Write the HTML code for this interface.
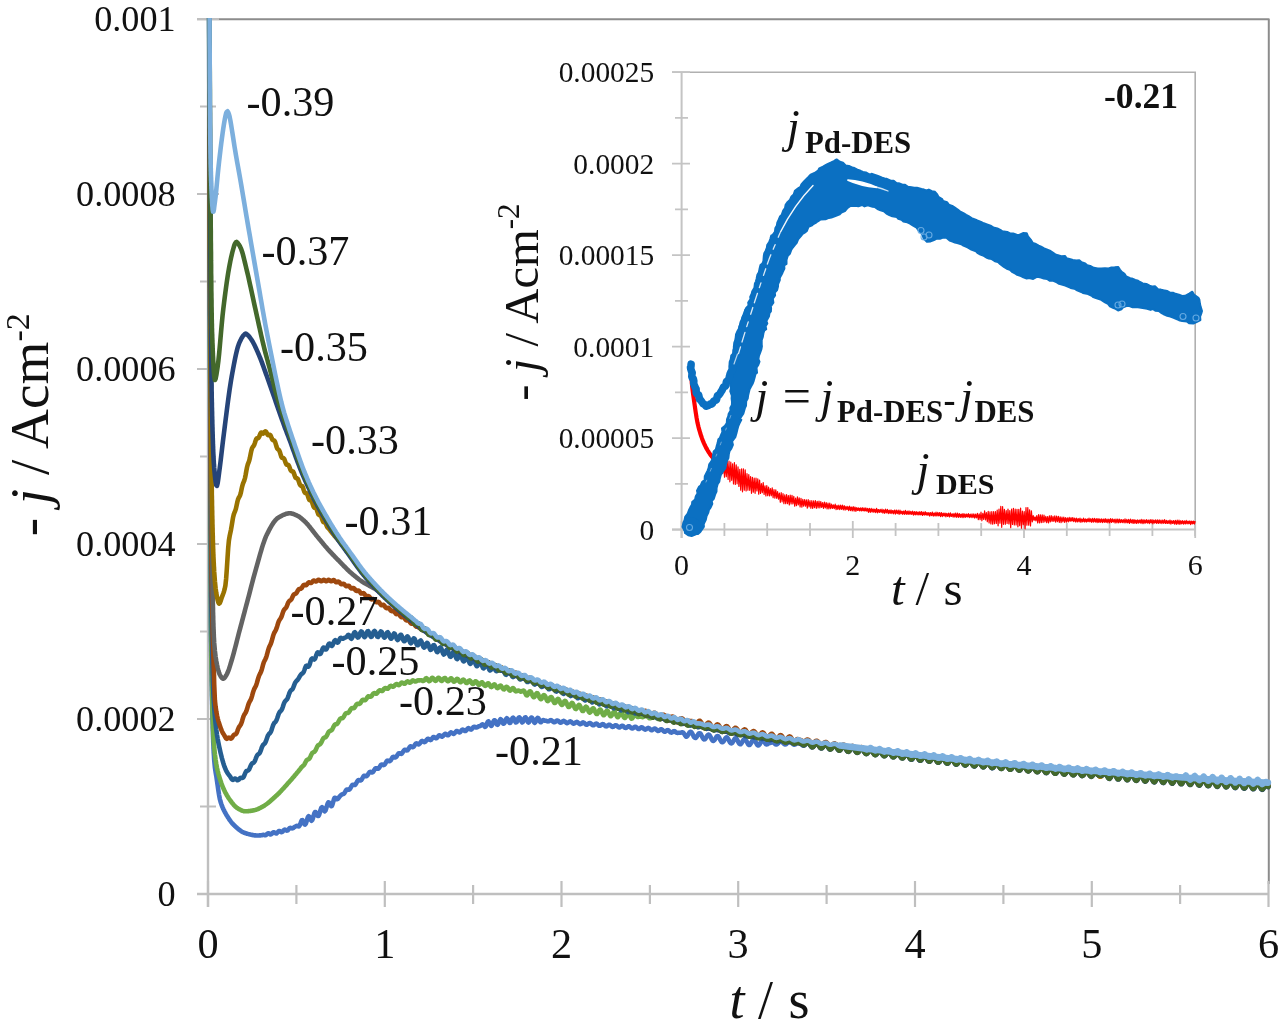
<!DOCTYPE html>
<html lang="en"><head><meta charset="utf-8"><title>Chronoamperometry j-t transients</title>
<style>html,body{margin:0;padding:0;background:#fff}body{width:1280px;height:1035px;overflow:hidden}svg{display:block;filter:blur(0.55px)}</style>
</head><body>
<svg width="1280" height="1035" viewBox="0 0 1280 1035" style="display:block">
<rect width="1280" height="1035" fill="#fff"/>
<defs><clipPath id="cm"><rect x="200" y="18" width="1074" height="880"/></clipPath><clipPath id="ci"><rect x="676" y="71" width="528" height="470"/></clipPath></defs>
<path d="M197,19.3 H1268.8 V884" fill="none" stroke="#8c8c8c" stroke-width="2" stroke-linejoin="round"/>
<path d="M208.0,19.0 V907 M197,894.0 H1268.5" fill="none" stroke="#bfbfbf" stroke-width="2.4"/>
<path d="M197,894.0H219M200,806.5H216M197,719.0H219M200,631.5H216M197,544.0H219M200,456.5H216M197,369.0H219M200,281.5H216M197,194.0H219M200,106.5H216M197,19.0H219M208.0,881V907M296.4,885V904M384.8,881V907M473.1,885V904M561.5,881V907M649.9,885V904M738.2,881V907M826.6,885V904M915.0,881V907M1003.4,885V904M1091.8,881V907M1180.1,885V904M1268.5,881V907" fill="none" stroke="#bfbfbf" stroke-width="2.2"/>
<g clip-path="url(#cm)" fill="none" stroke-width="4.6" stroke-linejoin="round" stroke-linecap="round">
<path d="M209.0,-30.0 L209.0,-10.6 L209.1,8.7 L209.1,27.8 L209.2,46.8 L209.2,65.5 L209.3,84.0 L209.3,102.3 L209.3,120.4 L209.4,138.2 L209.4,155.8 L209.5,173.1 L209.5,190.0 L209.5,206.7 L209.6,223.1 L209.6,239.1 L209.7,254.7 L209.7,270.0 L209.8,284.9 L209.8,299.4 L209.8,313.8 L209.9,328.5 L209.9,343.4 L210.0,358.4 L210.0,373.5 L210.1,388.6 L210.1,403.8 L210.1,418.9 L210.2,433.9 L210.2,448.8 L210.3,463.5 L210.3,477.9 L210.3,492.1 L210.4,505.9 L210.4,519.4 L210.5,532.4 L210.5,545.0 L210.6,557.0 L210.6,568.5 L210.6,579.3 L210.7,589.5 L210.7,598.9 L210.8,607.6 L210.8,615.5 L210.8,622.5 L210.9,628.7 L210.9,633.8 L211.0,638.0 L211.0,641.2 L211.1,644.2 L211.1,647.1 L211.1,650.0 L211.2,652.8 L211.2,655.5 L211.3,658.3 L211.3,661.0 L211.4,663.6 L211.4,666.2 L211.4,668.7 L211.5,671.2 L211.5,673.7 L211.6,676.1 L211.6,678.5 L211.6,680.8 L211.7,683.1 L211.7,685.3 L211.8,687.5 L211.8,689.7 L211.9,691.8 L211.9,693.9 L211.9,695.9 L212.0,697.9 L212.0,699.9 L212.1,701.8 L212.1,703.7 L212.2,705.5 L212.2,707.3 L212.2,709.1 L212.3,710.8 L212.3,712.5 L212.4,714.2 L212.4,715.8 L212.4,717.4 L212.5,719.0 L212.5,720.5 L212.6,722.0 L212.6,723.5 L212.7,724.9 L212.7,726.3 L212.7,727.7 L212.8,729.0 L212.8,730.3 L212.9,731.6 L212.9,732.9 L212.9,734.1 L213.0,735.3 L213.0,736.4 L213.1,737.6 L213.1,738.7 L213.2,739.8 L213.2,740.8 L213.2,741.9 L213.3,742.9 L213.3,743.8 L213.4,744.8 L213.4,745.7 L213.5,746.6 L213.5,747.5 L213.5,748.4 L213.6,749.2 L213.6,750.1 L213.7,750.9 L213.7,751.6 L213.7,752.4 L213.8,753.1 L213.8,753.8 L213.9,754.5 L213.9,755.2 L214.0,755.9 L214.0,756.5 L214.2,760.0 L214.9,767.3 L215.6,772.0 L216.3,776.0 L217.0,780.8 L217.7,785.7 L218.4,790.6 L219.1,795.1 L219.8,798.8 L220.5,801.5 L221.2,803.7 L221.9,805.6 L222.6,807.4 L223.3,809.0 L224.0,810.4 L224.7,811.8 L225.4,813.0 L226.1,814.3 L226.8,815.5 L227.5,816.6 L228.2,817.8 L228.9,818.8 L229.6,819.9 L230.3,820.8 L231.0,821.8 L231.7,822.7 L232.4,823.5 L233.1,824.2 L233.8,825.0 L234.5,825.6 L235.2,826.3 L235.9,826.9 L236.6,827.6 L237.3,828.2 L238.0,828.8 L238.7,829.4 L239.4,829.9 L240.1,830.4 L240.8,830.9 L241.5,831.4 L242.2,831.8 L242.9,832.1 L243.6,832.5 L244.3,832.8 L245.0,833.0 L245.7,833.2 L246.4,833.5 L247.1,833.7 L247.8,833.9 L248.5,834.1 L249.2,834.3 L249.9,834.4 L250.6,834.6 L251.3,834.8 L252.0,834.9 L252.7,835.0 L253.4,835.2 L254.1,835.3 L254.8,835.4 L255.5,835.4 L256.2,835.5 L256.9,835.5 L257.6,835.5 L258.3,835.5 L259.0,835.5 L259.7,835.4 L260.4,835.4 L261.1,835.3 L261.8,835.2 L262.5,835.0 L263.2,834.9 L263.9,834.9 L264.6,835.1 L265.3,835.2 L266.0,835.0 L266.7,834.4 L267.4,833.7 L268.1,833.3 L268.8,833.4 L269.5,833.9 L270.2,834.4 L270.9,834.5 L271.6,834.0 L272.3,833.2 L273.0,832.5 L273.7,832.2 L274.4,832.4 L275.1,832.9 L275.8,833.4 L276.5,833.4 L277.2,832.8 L277.9,832.0 L278.6,831.2 L279.3,831.0 L280.0,831.2 L280.7,831.8 L281.4,832.1 L282.1,832.0 L282.8,831.4 L283.5,830.5 L284.2,829.8 L284.9,829.5 L285.6,829.8 L286.3,830.3 L287.0,830.6 L287.7,830.4 L288.4,829.6 L289.1,828.7 L289.8,828.0 L290.5,827.9 L291.2,828.2 L291.9,828.4 L292.6,828.3 L293.3,827.9 L294.0,827.3 L294.7,826.8 L295.4,826.5 L296.1,826.2 L296.8,825.9 L297.5,826.0 L298.2,826.3 L298.9,826.4 L299.6,825.6 L300.3,824.0 L301.0,822.0 L301.7,820.3 L302.4,820.1 L303.1,821.2 L303.8,822.9 L304.5,824.3 L305.2,824.6 L305.9,823.5 L306.6,821.3 L307.3,818.8 L308.0,816.9 L308.7,816.2 L309.4,816.8 L310.1,818.3 L310.8,819.9 L311.5,820.7 L312.2,820.1 L312.9,818.3 L313.6,815.8 L314.3,813.4 L315.0,812.1 L315.7,812.1 L316.4,813.3 L317.1,814.9 L317.8,816.0 L318.5,816.0 L319.2,814.6 L319.9,812.3 L320.6,809.7 L321.3,807.8 L322.0,807.2 L322.7,807.9 L323.4,809.4 L324.1,810.8 L324.8,811.3 L325.5,810.5 L326.2,808.5 L326.9,805.9 L327.6,803.6 L328.3,802.4 L329.0,802.5 L329.7,803.7 L330.4,805.3 L331.1,806.2 L331.8,806.0 L332.5,804.3 L333.2,801.8 L333.9,799.3 L334.6,797.8 L335.3,797.7 L336.0,798.4 L336.7,799.1 L337.4,799.2 L338.1,798.7 L338.8,797.6 L339.5,796.6 L340.2,795.9 L340.9,795.2 L341.6,794.6 L342.3,794.3 L343.0,794.1 L343.7,793.8 L344.4,793.1 L345.1,791.9 L345.8,790.6 L346.5,789.7 L347.2,789.5 L347.9,789.6 L348.6,789.8 L349.3,789.6 L350.0,788.9 L350.7,787.6 L351.4,786.2 L352.1,785.2 L352.8,784.7 L353.5,784.8 L354.2,785.0 L354.9,785.0 L355.6,784.4 L356.3,783.2 L357.0,781.8 L357.7,780.7 L358.4,780.1 L359.1,780.1 L359.8,780.3 L360.5,780.5 L361.2,780.1 L361.9,779.1 L362.6,777.8 L363.3,776.6 L364.0,775.8 L364.7,775.7 L365.4,776.0 L366.1,776.3 L366.8,776.1 L367.5,775.3 L368.2,774.1 L368.9,772.9 L369.6,772.1 L370.3,771.8 L371.0,772.1 L371.7,772.4 L372.4,772.4 L373.1,771.9 L373.8,770.8 L374.5,769.5 L375.2,768.5 L375.9,768.2 L376.6,768.3 L377.3,768.7 L378.0,768.8 L378.7,768.4 L379.4,767.5 L380.1,766.2 L380.8,765.1 L381.5,764.5 L382.2,764.5 L382.9,764.9 L383.6,765.1 L384.3,764.9 L385.0,764.0 L385.7,762.8 L386.4,761.6 L387.1,760.8 L387.8,760.6 L388.5,760.9 L389.2,761.2 L389.9,761.1 L390.6,760.5 L391.3,759.3 L392.0,758.1 L392.7,757.1 L393.4,756.8 L394.1,757.0 L394.8,757.4 L395.5,757.5 L396.2,757.0 L396.9,755.9 L397.6,754.7 L398.3,753.7 L399.0,753.2 L399.7,753.3 L400.4,753.7 L401.1,753.9 L401.8,753.6 L402.5,752.7 L403.2,751.5 L403.9,750.4 L404.6,749.8 L405.3,749.7 L406.0,750.1 L406.7,750.4 L407.4,750.3 L408.1,749.6 L408.8,748.5 L409.5,747.3 L410.2,746.5 L410.9,746.3 L411.6,746.6 L412.3,747.1 L413.0,747.1 L413.7,746.6 L414.4,745.6 L415.1,744.5 L415.8,743.6 L416.5,743.3 L417.2,743.6 L417.9,744.1 L418.6,744.4 L419.3,744.1 L420.0,743.3 L420.7,742.2 L421.4,741.3 L422.1,740.9 L422.8,741.1 L423.5,741.6 L424.2,742.1 L424.9,742.0 L425.6,741.4 L426.3,740.4 L427.0,739.4 L427.7,738.8 L428.4,738.9 L429.1,739.4 L429.8,739.9 L430.5,740.1 L431.2,739.7 L431.9,738.7 L432.6,737.7 L433.3,737.1 L434.0,737.0 L434.7,737.4 L435.4,738.0 L436.1,738.3 L436.8,738.1 L437.5,737.3 L438.2,736.3 L438.9,735.5 L439.6,735.3 L440.3,735.6 L441.0,736.2 L441.7,736.7 L442.4,736.6 L443.1,736.0 L443.8,735.0 L444.5,734.2 L445.2,733.8 L445.9,734.0 L446.6,734.6 L447.3,735.2 L448.0,735.3 L448.7,734.8 L449.4,733.9 L450.1,733.0 L450.8,732.4 L451.5,732.5 L452.2,733.0 L452.9,733.6 L453.6,733.9 L454.3,733.6 L455.0,732.8 L455.7,731.8 L456.4,731.1 L457.1,731.0 L457.8,731.4 L458.5,732.0 L459.2,732.5 L459.9,732.3 L460.6,731.6 L461.3,730.7 L462.0,729.8 L462.7,729.5 L463.4,729.8 L464.1,730.4 L464.8,731.0 L465.5,731.0 L466.2,730.4 L466.9,729.5 L467.6,728.6 L468.3,728.1 L469.0,728.2 L469.7,728.8 L470.4,729.4 L471.1,729.6 L471.8,729.2 L472.5,728.3 L473.2,727.3 L473.9,726.7 L474.6,726.7 L475.3,727.1 L476.0,727.5 L476.7,727.5 L477.4,727.2 L478.1,726.7 L478.8,726.3 L479.5,726.1 L480.2,726.0 L480.9,725.6 L481.6,724.9 L482.3,724.4 L483.0,724.5 L483.7,725.3 L484.4,726.3 L485.1,726.9 L485.8,726.4 L486.5,724.7 L487.2,722.8 L487.9,721.5 L488.6,721.4 L489.3,722.5 L490.0,724.2 L490.7,725.5 L491.4,725.9 L492.1,724.9 L492.8,723.2 L493.5,721.3 L494.2,720.3 L494.9,720.4 L495.6,721.7 L496.3,723.4 L497.0,724.6 L497.7,724.8 L498.4,723.7 L499.1,721.9 L499.8,720.1 L500.5,719.2 L501.2,719.5 L501.9,720.9 L502.6,722.6 L503.3,723.7 L504.0,723.7 L504.7,722.5 L505.4,720.6 L506.1,719.0 L506.8,718.2 L507.5,718.8 L508.2,720.3 L508.9,722.0 L509.6,723.0 L510.3,722.8 L511.0,721.5 L511.7,719.6 L512.4,718.1 L513.1,717.6 L513.8,718.3 L514.5,719.9 L515.2,721.6 L515.9,722.5 L516.6,722.2 L517.3,720.8 L518.0,718.9 L518.7,717.6 L519.4,717.3 L520.1,718.2 L520.8,719.9 L521.5,721.6 L522.2,722.4 L522.9,721.9 L523.6,720.5 L524.3,718.7 L525.0,717.5 L525.7,717.4 L526.4,718.5 L527.1,720.3 L527.8,721.9 L528.5,722.5 L529.2,721.9 L529.9,720.4 L530.6,718.6 L531.3,717.5 L532.0,717.7 L532.7,718.9 L533.4,720.8 L534.1,722.3 L534.8,722.8 L535.5,722.0 L536.2,720.4 L536.9,718.7 L537.6,717.8 L538.3,718.1 L539.0,719.5 L539.7,721.2 L540.4,722.2 L541.1,722.1 L541.8,721.4 L542.5,720.5 L543.2,720.1 L543.9,720.2 L544.6,720.6 L545.3,720.7 L546.0,720.8 L546.7,721.0 L547.4,721.3 L548.1,721.4 L548.8,721.2 L549.5,720.8 L550.2,720.3 L550.9,720.1 L551.6,720.4 L552.3,721.0 L553.0,721.7 L553.7,722.2 L554.4,722.3 L555.1,721.9 L555.8,721.3 L556.5,720.7 L557.2,720.5 L557.9,720.7 L558.6,721.2 L559.3,721.9 L560.0,722.5 L560.7,722.7 L561.4,722.4 L562.1,721.9 L562.8,721.3 L563.5,720.9 L564.2,721.0 L564.9,721.5 L565.6,722.2 L566.3,722.8 L567.0,723.1 L567.7,723.0 L568.4,722.5 L569.1,721.9 L569.8,721.5 L570.5,721.4 L571.2,721.8 L571.9,722.5 L572.6,723.1 L573.3,723.6 L574.0,723.6 L574.7,723.2 L575.4,722.6 L576.1,722.1 L576.8,721.9 L577.5,722.2 L578.2,722.8 L578.9,723.5 L579.6,724.0 L580.3,724.2 L581.0,723.9 L581.7,723.3 L582.4,722.7 L583.1,722.4 L583.8,722.6 L584.5,723.1 L585.2,723.8 L585.9,724.5 L586.6,724.7 L587.3,724.6 L588.0,724.0 L588.7,723.4 L589.4,723.1 L590.1,723.1 L590.8,723.5 L591.5,724.2 L592.2,724.9 L592.9,725.3 L593.6,725.2 L594.3,724.8 L595.0,724.2 L595.7,723.7 L596.4,723.6 L597.1,723.9 L597.8,724.6 L598.5,725.3 L599.2,725.8 L599.9,725.8 L600.6,725.5 L601.3,724.9 L602.0,724.4 L602.7,724.1 L603.4,724.3 L604.1,724.9 L604.8,725.6 L605.5,726.2 L606.2,726.4 L606.9,726.2 L607.6,725.6 L608.3,725.0 L609.0,724.7 L609.7,724.8 L610.4,725.2 L611.1,726.0 L611.8,726.6 L612.5,726.9 L613.2,726.8 L613.9,726.3 L614.6,725.7 L615.3,725.3 L616.0,725.2 L616.7,725.6 L617.4,726.3 L618.1,726.9 L618.8,727.4 L619.5,727.4 L620.2,727.0 L620.9,726.4 L621.6,725.9 L622.3,725.7 L623.0,725.9 L623.7,726.6 L624.4,727.3 L625.1,727.8 L625.8,727.9 L626.5,727.6 L627.2,727.1 L627.9,726.5 L628.6,726.2 L629.3,726.3 L630.0,726.9 L630.7,727.6 L631.4,728.2 L632.1,728.5 L632.8,728.3 L633.5,727.8 L634.2,727.2 L634.9,726.8 L635.6,726.8 L636.3,727.2 L637.0,727.9 L637.7,728.6 L638.4,729.0 L639.1,728.9 L639.8,728.5 L640.5,727.9 L641.2,727.4 L641.9,727.3 L642.6,727.6 L643.3,728.3 L644.0,729.0 L644.7,729.5 L645.4,729.6 L646.1,729.2 L646.8,728.6 L647.5,728.1 L648.2,727.9 L648.9,728.1 L649.6,728.7 L650.3,729.4 L651.0,730.0 L651.7,730.2 L652.4,730.0 L653.1,729.5 L653.8,728.9 L654.5,728.6 L655.2,728.6 L655.9,729.1 L656.6,729.9 L657.3,730.5 L658.0,730.9 L658.7,730.8 L659.4,730.3 L660.1,729.7 L660.8,729.3 L661.5,729.3 L662.2,729.7 L662.9,730.4 L663.6,731.1 L664.3,731.6 L665.0,731.7 L665.7,731.3 L666.4,730.7 L667.1,730.3 L667.8,730.1 L668.5,730.4 L669.2,731.1 L669.9,731.8 L670.6,732.4 L671.3,732.6 L672.0,732.3 L672.7,731.8 L673.4,731.3 L674.1,731.1 L674.8,731.3 L675.5,731.9 L676.2,732.5 L676.9,732.8 L677.6,732.9 L678.3,732.8 L679.0,732.8 L679.7,732.8 L680.4,732.8 L681.1,732.6 L681.8,732.3 L682.5,732.3 L683.2,732.6 L683.9,733.4 L684.6,734.6 L685.3,735.7 L686.0,736.6 L686.7,736.6 L687.4,735.9 L688.1,734.8 L688.8,733.6 L689.5,732.5 L690.2,731.8 L690.9,731.8 L691.6,732.4 L692.3,733.6 L693.0,735.0 L693.7,736.4 L694.4,737.5 L695.1,738.0 L695.8,737.9 L696.5,737.2 L697.2,736.0 L697.9,734.8 L698.6,733.7 L699.3,733.2 L700.0,733.2 L700.7,733.9 L701.4,735.1 L702.1,736.6 L702.8,738.0 L703.5,739.0 L704.2,739.4 L704.9,739.2 L705.6,738.4 L706.3,737.3 L707.0,736.0 L707.7,735.1 L708.4,734.6 L709.1,734.7 L709.8,735.5 L710.5,736.8 L711.2,738.3 L711.9,739.6 L712.6,740.6 L713.3,740.9 L714.0,740.6 L714.7,739.8 L715.4,738.6 L716.1,737.4 L716.8,736.4 L717.5,736.1 L718.2,736.3 L718.9,737.2 L719.6,738.5 L720.3,739.9 L721.0,741.2 L721.7,742.1 L722.4,742.3 L723.1,741.9 L723.8,741.0 L724.5,739.8 L725.2,738.5 L725.9,737.7 L726.6,737.3 L727.3,737.7 L728.0,738.6 L728.7,739.9 L729.4,741.3 L730.1,742.5 L730.8,743.3 L731.5,743.4 L732.2,742.9 L732.9,741.8 L733.6,740.6 L734.3,739.4 L735.0,738.5 L735.7,738.3 L736.4,738.7 L737.1,739.6 L737.8,741.0 L738.5,742.4 L739.2,743.5 L739.9,744.2 L740.6,744.2 L741.3,743.6 L742.0,742.5 L742.7,741.2 L743.4,740.0 L744.1,739.2 L744.8,739.1 L745.5,739.5 L746.2,740.6 L746.9,741.9 L747.6,743.3 L748.3,744.4 L749.0,745.0 L749.7,744.9 L750.4,744.1 L751.1,743.0 L751.8,741.7 L752.5,740.5 L753.2,739.8 L753.9,739.7 L754.6,740.3 L755.3,741.3 L756.0,742.7 L756.7,744.0 L757.4,745.1 L758.1,745.5 L758.8,745.3 L759.5,744.5 L760.2,743.3 L760.9,742.0 L761.6,740.9 L762.3,740.2 L763.0,740.2 L763.7,740.8 L764.4,742.0 L765.1,743.2 L765.8,744.1 L766.5,744.4 L767.2,744.3 L767.9,743.8 L768.6,743.3 L769.3,743.0 L770.0,743.0 L770.7,742.8 L771.4,742.6 L772.1,742.4 L772.8,742.4 L773.5,742.7 L774.2,743.2 L774.9,743.8 L775.6,744.3 L776.3,744.5 L777.0,744.3 L777.7,743.7 L778.4,743.0 L779.1,742.2 L779.8,741.6 L780.5,741.3 L781.2,741.4 L781.9,741.8 L782.6,742.5 L783.3,743.2 L784.0,743.9 L784.7,744.4 L785.4,744.4 L786.1,744.2 L786.8,743.6 L787.5,742.8 L788.2,742.1 L788.9,741.5 L789.6,741.3 L790.3,741.5 L791.0,742.0 L791.7,742.7 L792.4,743.5 L793.1,744.2 L793.8,744.6 L794.5,744.7 L795.2,744.4 L795.9,743.8 L796.6,743.1 L797.3,742.5 L798.0,742.0 L798.7,741.9 L799.4,742.2 L800.1,742.8 L800.8,743.6 L801.5,744.5 L802.2,745.2 L802.9,745.6 L803.6,745.6 L804.3,745.3 L805.0,744.8 L805.7,744.1 L806.4,743.5 L807.1,743.1 L807.8,743.0 L808.5,743.4 L809.2,744.0 L809.9,744.8 L810.6,745.7 L811.3,746.4 L812.0,746.7 L812.7,746.7 L813.4,746.4 L814.1,745.8 L814.8,745.1 L815.5,744.5 L816.2,744.1 L816.9,744.1 L817.6,744.5 L818.3,745.2 L819.0,746.0 L819.7,746.9 L820.4,747.5 L821.1,747.8 L821.8,747.8 L822.5,747.4 L823.2,746.8 L823.9,746.1 L824.6,745.5 L825.3,745.2 L826.0,745.3 L826.7,745.7 L827.4,746.4 L828.1,747.2 L828.8,748.0 L829.5,748.7 L830.2,748.9 L830.9,748.8 L831.6,748.4 L832.3,747.7 L833.0,747.1 L833.7,746.5 L834.4,746.3 L835.1,746.4 L835.8,746.8 L836.5,747.6 L837.2,748.4 L837.9,749.2 L838.6,749.8 L839.3,750.0 L840.0,749.9 L840.7,749.4 L841.4,748.7 L842.1,748.0 L842.8,747.5 L843.5,747.3 L844.2,747.5 L844.9,748.0 L845.6,748.8 L846.3,749.6 L847.0,750.4 L847.7,750.9 L848.4,751.1 L849.1,750.9 L849.8,750.4 L850.5,749.7 L851.2,749.1 L851.9,748.6 L852.6,748.4 L853.3,748.6 L854.0,749.2 L854.7,750.0 L855.4,750.9 L856.1,751.6 L856.8,752.1 L857.5,752.2 L858.2,751.9 L858.9,751.4 L859.6,750.7 L860.3,750.1 L861.0,749.6 L861.7,749.5 L862.4,749.8 L863.1,750.4 L863.8,751.2 L864.5,752.1 L865.2,752.8 L865.9,753.2 L866.6,753.3 L867.3,753.0 L868.0,752.4 L868.7,751.7 L869.4,751.1 L870.1,750.7 L870.8,750.6 L871.5,751.0 L872.2,751.6 L872.9,752.4 L873.6,753.3 L874.3,753.9 L875.0,754.3 L875.7,754.3 L876.4,754.0 L877.1,753.4 L877.8,752.7 L878.5,752.1 L879.2,751.7 L879.9,751.7 L880.6,752.1 L881.3,752.8 L882.0,753.6 L882.7,754.5 L883.4,755.1 L884.1,755.4 L884.8,755.4 L885.5,755.0 L886.2,754.3 L886.9,753.7 L887.6,753.1 L888.3,752.8 L889.0,752.8 L889.7,753.3 L890.4,754.0 L891.1,754.8 L891.8,755.6 L892.5,756.2 L893.2,756.5 L893.9,756.4 L894.6,755.9 L895.3,755.3 L896.0,754.8 L896.7,754.6 L897.4,754.7 L898.1,755.0 L898.8,755.3 L899.5,755.6 L900.2,755.7 L900.9,756.1 L901.6,756.6 L902.3,757.1 L903.0,757.3 L903.7,757.0 L904.4,756.3 L905.1,755.2 L905.8,754.2 L906.5,753.7 L907.2,753.9 L907.9,754.7 L908.6,756.0 L909.3,757.5 L910.0,758.7 L910.7,759.6 L911.4,759.8 L912.1,759.4 L912.8,758.4 L913.5,757.2 L914.2,755.9 L914.9,755.0 L915.6,754.7 L916.3,755.0 L917.0,755.9 L917.7,757.2 L918.4,758.7 L919.1,759.9 L919.8,760.7 L920.5,760.8 L921.2,760.3 L921.9,759.3 L922.6,758.0 L923.3,756.8 L924.0,756.0 L924.7,755.7 L925.4,756.1 L926.1,757.1 L926.8,758.5 L927.5,759.9 L928.2,761.0 L928.9,761.7 L929.6,761.7 L930.3,761.1 L931.0,760.1 L931.7,758.8 L932.4,757.6 L933.1,756.9 L933.8,756.7 L934.5,757.2 L935.2,758.3 L935.9,759.6 L936.6,761.0 L937.3,762.2 L938.0,762.7 L938.7,762.7 L939.4,762.0 L940.1,760.9 L940.8,759.6 L941.5,758.5 L942.2,757.8 L942.9,757.7 L943.6,758.3 L944.3,759.4 L945.0,760.8 L945.7,762.2 L946.4,763.2 L947.1,763.7 L947.8,763.5 L948.5,762.8 L949.2,761.6 L949.9,760.3 L950.6,759.3 L951.3,758.7 L952.0,758.7 L952.7,759.3 L953.4,760.5 L954.1,761.9 L954.8,763.3 L955.5,764.2 L956.2,764.6 L956.9,764.4 L957.6,763.5 L958.3,762.3 L959.0,761.1 L959.7,760.0 L960.4,759.5 L961.1,759.6 L961.8,760.4 L962.5,761.6 L963.2,763.0 L963.9,764.3 L964.6,765.2 L965.3,765.5 L966.0,765.2 L966.7,764.3 L967.4,763.0 L968.1,761.8 L968.8,760.8 L969.5,760.4 L970.2,760.6 L970.9,761.4 L971.6,762.7 L972.3,764.1 L973.0,765.3 L973.7,766.2 L974.4,766.4 L975.1,765.9 L975.8,765.0 L976.5,763.7 L977.2,762.5 L977.9,761.6 L978.6,761.2 L979.3,761.5 L980.0,762.4 L980.7,763.7 L981.4,765.1 L982.1,766.3 L982.8,767.1 L983.5,767.2 L984.2,766.7 L984.9,765.6 L985.6,764.4 L986.3,763.1 L987.0,762.3 L987.7,762.0 L988.4,762.4 L989.1,763.4 L989.8,764.7 L990.5,766.1 L991.2,767.3 L991.9,768.0 L992.6,768.0 L993.3,767.4 L994.0,766.3 L994.7,765.1 L995.4,764.2 L996.1,764.0 L996.8,764.2 L997.5,764.8 L998.2,765.4 L998.9,765.8 L999.6,766.0 L1000.3,766.1 L1001.0,766.4 L1001.7,766.6 L1002.4,766.7 L1003.1,766.5 L1003.8,766.0 L1004.5,765.5 L1005.2,764.9 L1005.9,764.7 L1006.6,765.1 L1007.3,765.8 L1008.0,766.7 L1008.7,767.6 L1009.4,768.3 L1010.1,768.7 L1010.8,768.6 L1011.5,768.1 L1012.2,767.4 L1012.9,766.6 L1013.6,765.9 L1014.3,765.5 L1015.0,765.5 L1015.7,766.0 L1016.4,766.7 L1017.1,767.7 L1017.8,768.5 L1018.5,769.2 L1019.2,769.5 L1019.9,769.3 L1020.6,768.8 L1021.3,768.0 L1022.0,767.2 L1022.7,766.6 L1023.4,766.3 L1024.1,766.4 L1024.8,766.9 L1025.5,767.6 L1026.2,768.6 L1026.9,769.4 L1027.6,770.0 L1028.3,770.2 L1029.0,770.0 L1029.7,769.5 L1030.4,768.7 L1031.1,767.9 L1031.8,767.3 L1032.5,767.0 L1033.2,767.2 L1033.9,767.7 L1034.6,768.5 L1035.3,769.5 L1036.0,770.3 L1036.7,770.8 L1037.4,771.0 L1038.1,770.7 L1038.8,770.1 L1039.5,769.3 L1040.2,768.6 L1040.9,768.0 L1041.6,767.8 L1042.3,768.0 L1043.0,768.6 L1043.7,769.4 L1044.4,770.4 L1045.1,771.2 L1045.8,771.6 L1046.5,771.7 L1047.2,771.4 L1047.9,770.8 L1048.6,770.0 L1049.3,769.2 L1050.0,768.7 L1050.7,768.5 L1051.4,768.8 L1052.1,769.4 L1052.8,770.3 L1053.5,771.2 L1054.2,772.0 L1054.9,772.4 L1055.6,772.5 L1056.3,772.1 L1057.0,771.4 L1057.7,770.6 L1058.4,769.8 L1059.1,769.4 L1059.8,769.3 L1060.5,769.6 L1061.2,770.3 L1061.9,771.2 L1062.6,772.1 L1063.3,772.8 L1064.0,773.2 L1064.7,773.2 L1065.4,772.7 L1066.1,772.0 L1066.8,771.2 L1067.5,770.5 L1068.2,770.1 L1068.9,770.0 L1069.6,770.4 L1070.3,771.1 L1071.0,772.0 L1071.7,772.9 L1072.4,773.6 L1073.1,773.9 L1073.8,773.8 L1074.5,773.4 L1075.2,772.6 L1075.9,771.8 L1076.6,771.1 L1077.3,770.7 L1078.0,770.8 L1078.7,771.2 L1079.4,772.0 L1080.1,772.9 L1080.8,773.7 L1081.5,774.4 L1082.2,774.6 L1082.9,774.5 L1083.6,774.0 L1084.3,773.2 L1085.0,772.4 L1085.7,771.7 L1086.4,771.4 L1087.1,771.5 L1087.8,772.0 L1088.5,772.8 L1089.2,773.7 L1089.9,774.6 L1090.6,775.1 L1091.3,775.4 L1092.0,775.1 L1092.7,774.6 L1093.4,773.8 L1094.1,773.0 L1094.8,772.4 L1095.5,772.1 L1096.2,772.2 L1096.9,772.8 L1097.6,773.6 L1098.3,774.5 L1099.0,775.4 L1099.7,775.9 L1100.4,776.0 L1101.1,775.8 L1101.8,775.2 L1102.5,774.4 L1103.2,773.6 L1103.9,773.0 L1104.6,772.8 L1105.3,773.0 L1106.0,773.6 L1106.7,774.4 L1107.4,775.3 L1108.1,776.1 L1108.8,776.6 L1109.5,776.7 L1110.2,776.4 L1110.9,775.7 L1111.6,774.9 L1112.3,774.2 L1113.0,773.6 L1113.7,773.5 L1114.4,773.7 L1115.1,774.4 L1115.8,775.2 L1116.5,776.2 L1117.2,776.9 L1117.9,777.3 L1118.6,777.4 L1119.3,777.0 L1120.0,776.3 L1120.7,775.5 L1121.4,774.7 L1122.1,774.3 L1122.8,774.2 L1123.5,774.5 L1124.2,775.2 L1124.9,776.0 L1125.6,776.9 L1126.3,777.7 L1127.0,778.0 L1127.7,778.0 L1128.4,777.6 L1129.1,776.9 L1129.8,776.0 L1130.5,775.3 L1131.2,774.9 L1131.9,774.8 L1132.6,775.2 L1133.3,775.9 L1134.0,776.8 L1134.7,777.7 L1135.4,778.4 L1136.1,778.7 L1136.8,778.6 L1137.5,778.1 L1138.2,777.4 L1138.9,776.6 L1139.6,775.9 L1140.3,775.5 L1141.0,775.5 L1141.7,776.0 L1142.4,776.7 L1143.1,777.6 L1143.8,778.5 L1144.5,779.1 L1145.2,779.4 L1145.9,779.2 L1146.6,778.7 L1147.3,777.9 L1148.0,777.1 L1148.7,776.5 L1149.4,776.1 L1150.1,776.2 L1150.8,776.7 L1151.5,777.5 L1152.2,778.4 L1152.9,779.3 L1153.6,779.8 L1154.3,780.0 L1155.0,779.8 L1155.7,779.2 L1156.4,778.5 L1157.1,777.7 L1157.8,777.0 L1158.5,776.8 L1159.2,776.9 L1159.9,777.4 L1160.6,778.3 L1161.3,779.2 L1162.0,780.0 L1162.7,780.5 L1163.4,780.7 L1164.1,780.4 L1164.8,779.8 L1165.5,779.0 L1166.2,778.2 L1166.9,777.6 L1167.6,777.4 L1168.3,777.6 L1169.0,778.2 L1169.7,779.0 L1170.4,779.9 L1171.1,780.7 L1171.8,781.2 L1172.5,781.3 L1173.2,781.0 L1173.9,780.3 L1174.6,779.5 L1175.3,778.7 L1176.0,778.2 L1176.7,778.0 L1177.4,778.3 L1178.1,778.9 L1178.8,779.8 L1179.5,780.7 L1180.2,781.4 L1180.9,781.9 L1181.6,781.9 L1182.3,781.5 L1183.0,780.8 L1183.7,780.0 L1184.4,779.2 L1185.1,778.8 L1185.8,778.7 L1186.5,779.0 L1187.2,779.6 L1187.9,780.5 L1188.6,781.4 L1189.3,782.1 L1190.0,782.5 L1190.7,782.5 L1191.4,782.0 L1192.1,781.3 L1192.8,780.5 L1193.5,779.8 L1194.2,779.3 L1194.9,779.3 L1195.6,779.7 L1196.3,780.4 L1197.0,781.3 L1197.7,782.2 L1198.4,782.8 L1199.1,783.1 L1199.8,783.0 L1200.5,782.6 L1201.2,781.8 L1201.9,781.0 L1202.6,780.3 L1203.3,779.9 L1204.0,779.9 L1204.7,780.3 L1205.4,781.1 L1206.1,782.0 L1206.8,782.9 L1207.5,783.5 L1208.2,783.8 L1208.9,783.6 L1209.6,783.1 L1210.3,782.3 L1211.0,781.5 L1211.7,780.8 L1212.4,780.5 L1213.1,780.5 L1213.8,781.0 L1214.5,781.8 L1215.2,782.7 L1215.9,783.6 L1216.6,784.1 L1217.3,784.3 L1218.0,784.1 L1218.7,783.5 L1219.4,782.7 L1220.1,781.9 L1220.8,781.3 L1221.5,781.0 L1222.2,781.2 L1222.9,781.7 L1223.6,782.5 L1224.3,783.4 L1225.0,784.2 L1225.7,784.8 L1226.4,784.9 L1227.1,784.6 L1227.8,784.0 L1228.5,783.2 L1229.2,782.4 L1229.9,781.8 L1230.6,781.6 L1231.3,781.8 L1232.0,782.4 L1232.7,783.2 L1233.4,784.1 L1234.1,784.9 L1234.8,785.4 L1235.5,785.5 L1236.2,785.1 L1236.9,784.5 L1237.6,783.6 L1238.3,782.9 L1239.0,782.3 L1239.7,782.2 L1240.4,782.4 L1241.1,783.0 L1241.8,783.9 L1242.5,784.8 L1243.2,785.6 L1243.9,786.0 L1244.6,786.0 L1245.3,785.6 L1246.0,784.9 L1246.7,784.1 L1247.4,783.3 L1248.1,782.8 L1248.8,782.7 L1249.5,783.0 L1250.2,783.7 L1250.9,784.6 L1251.6,785.5 L1252.3,786.2 L1253.0,786.6 L1253.7,786.5 L1254.4,786.1 L1255.1,785.3 L1255.8,784.5 L1256.5,783.8 L1257.2,783.3 L1257.9,783.3 L1258.6,783.7 L1259.3,784.4 L1260.0,785.3 L1260.7,786.1 L1261.4,786.8 L1262.1,787.1 L1262.8,787.0 L1263.5,786.4 L1264.2,785.7 L1264.9,785.1 L1265.6,784.8 L1266.3,784.8 L1267.0,785.0 L1267.7,785.4 L1268.4,785.6" stroke="#4472C4"/>
<path d="M209.1,-30.0 L209.1,-11.8 L209.1,6.2 L209.2,24.1 L209.2,41.9 L209.3,59.4 L209.3,76.8 L209.3,94.0 L209.4,111.0 L209.4,127.8 L209.5,144.3 L209.5,160.6 L209.5,176.7 L209.6,192.5 L209.6,208.0 L209.7,223.1 L209.7,238.0 L209.8,252.6 L209.8,266.8 L209.8,280.7 L209.9,294.2 L209.9,307.5 L210.0,320.9 L210.0,334.4 L210.0,348.1 L210.1,361.8 L210.1,375.6 L210.2,389.4 L210.2,403.2 L210.3,417.0 L210.3,430.7 L210.3,444.2 L210.4,457.6 L210.4,470.8 L210.5,483.8 L210.5,496.6 L210.5,509.0 L210.6,521.1 L210.6,532.9 L210.7,544.3 L210.7,555.2 L210.8,565.7 L210.8,575.7 L210.8,585.2 L210.9,594.1 L210.9,602.4 L211.0,610.1 L211.0,617.1 L211.0,623.4 L211.1,628.9 L211.1,633.7 L211.2,637.7 L211.2,640.9 L211.3,643.9 L211.3,646.8 L211.3,649.7 L211.4,652.5 L211.4,655.2 L211.5,657.9 L211.5,660.6 L211.5,663.2 L211.6,665.7 L211.6,668.2 L211.7,670.7 L211.7,673.1 L211.8,675.5 L211.8,677.8 L211.8,680.1 L211.9,682.3 L211.9,684.5 L212.0,686.6 L212.0,688.7 L212.0,690.7 L212.1,692.7 L212.1,694.7 L212.2,696.6 L212.2,698.5 L212.3,700.3 L212.3,702.1 L212.3,703.8 L212.4,705.5 L212.4,707.2 L212.5,708.8 L212.5,710.4 L212.5,712.0 L212.6,713.5 L212.6,714.9 L212.7,716.4 L212.7,717.8 L212.8,719.1 L212.8,720.5 L212.8,721.7 L212.9,723.0 L212.9,724.2 L213.0,725.4 L213.0,726.5 L213.0,727.7 L213.1,728.7 L213.1,729.8 L213.2,730.8 L213.2,731.8 L213.3,732.7 L213.3,733.7 L213.3,734.5 L213.4,735.4 L213.4,736.2 L213.5,737.0 L213.5,737.8 L213.5,738.6 L213.6,739.3 L213.6,740.0 L213.7,740.6 L213.7,741.3 L213.8,741.9 L213.8,742.5 L213.8,743.0 L213.9,743.5 L213.9,744.1 L214.0,744.5 L214.0,745.0 L214.2,747.6 L214.9,754.2 L215.6,759.6 L216.3,764.2 L217.0,768.0 L217.7,771.1 L218.4,773.9 L219.1,776.3 L219.8,778.5 L220.5,780.7 L221.2,782.8 L221.9,784.7 L222.6,786.5 L223.3,788.2 L224.0,789.8 L224.7,791.2 L225.4,792.6 L226.1,793.9 L226.8,795.2 L227.5,796.3 L228.2,797.4 L228.9,798.5 L229.6,799.5 L230.3,800.5 L231.0,801.4 L231.7,802.4 L232.4,803.3 L233.1,804.1 L233.8,804.9 L234.5,805.7 L235.2,806.4 L235.9,807.0 L236.6,807.6 L237.3,808.1 L238.0,808.5 L238.7,808.9 L239.4,809.3 L240.1,809.7 L240.8,810.0 L241.5,810.4 L242.2,810.7 L242.9,810.9 L243.6,811.1 L244.3,811.2 L245.0,811.3 L245.7,811.3 L246.4,811.3 L247.1,811.2 L247.8,811.2 L248.5,811.1 L249.2,811.0 L249.9,811.0 L250.6,810.9 L251.3,810.8 L252.0,810.6 L252.7,810.5 L253.4,810.4 L254.1,810.3 L254.8,810.1 L255.5,809.9 L256.2,809.7 L256.9,809.4 L257.6,809.2 L258.3,808.9 L259.0,808.5 L259.7,808.2 L260.4,807.8 L261.1,807.5 L261.8,807.1 L262.5,806.7 L263.2,806.3 L263.9,805.9 L264.6,805.5 L265.3,805.0 L266.0,804.5 L266.7,804.0 L267.4,803.5 L268.1,802.9 L268.8,802.3 L269.5,801.8 L270.2,801.2 L270.9,800.6 L271.6,799.9 L272.3,799.3 L273.0,798.7 L273.7,798.1 L274.4,797.4 L275.1,796.8 L275.8,796.1 L276.5,795.5 L277.2,794.8 L277.9,794.2 L278.6,793.5 L279.3,792.8 L280.0,792.1 L280.7,791.3 L281.4,790.6 L282.1,789.8 L282.8,789.1 L283.5,788.3 L284.2,787.6 L284.9,786.8 L285.6,786.0 L286.3,785.2 L287.0,784.4 L287.7,783.6 L288.4,782.8 L289.1,782.1 L289.8,781.3 L290.5,780.5 L291.2,779.7 L291.9,778.9 L292.6,778.1 L293.3,777.3 L294.0,776.5 L294.7,775.6 L295.4,774.8 L296.1,774.0 L296.8,773.1 L297.5,772.3 L298.2,771.5 L298.9,770.6 L299.6,769.8 L300.3,768.9 L301.0,767.9 L301.7,767.0 L302.4,766.4 L303.1,765.8 L303.8,765.2 L304.5,764.2 L305.2,762.9 L305.9,761.4 L306.6,760.3 L307.3,759.7 L308.0,759.5 L308.7,759.2 L309.4,758.5 L310.1,757.4 L310.8,755.8 L311.5,754.3 L312.2,753.1 L312.9,752.5 L313.6,752.2 L314.3,751.9 L315.0,751.2 L315.7,750.0 L316.4,748.4 L317.1,746.8 L317.8,745.7 L318.5,745.0 L319.2,744.7 L319.9,744.4 L320.6,743.7 L321.3,742.5 L322.0,741.0 L322.7,739.4 L323.4,738.3 L324.1,737.7 L324.8,737.5 L325.5,737.3 L326.2,736.6 L326.9,735.5 L327.6,734.0 L328.3,732.6 L329.0,731.5 L329.7,731.0 L330.4,730.8 L331.1,730.6 L331.8,730.0 L332.5,728.9 L333.2,727.4 L333.9,726.0 L334.6,724.9 L335.3,724.4 L336.0,724.3 L336.7,724.1 L337.4,723.6 L338.1,722.5 L338.8,721.1 L339.5,719.8 L340.2,718.8 L340.9,718.4 L341.6,718.3 L342.3,718.2 L343.0,717.8 L343.7,716.8 L344.4,715.5 L345.1,714.2 L345.8,713.3 L346.5,713.0 L347.2,713.0 L347.9,713.0 L348.6,712.6 L349.3,711.7 L350.0,710.5 L350.7,709.2 L351.4,708.4 L352.1,708.1 L352.8,708.2 L353.5,708.3 L354.2,707.9 L354.9,707.1 L355.6,705.9 L356.3,704.7 L357.0,704.0 L357.7,703.7 L358.4,703.9 L359.1,704.0 L359.8,703.7 L360.5,702.9 L361.2,701.8 L361.9,700.7 L362.6,700.0 L363.3,699.8 L364.0,700.0 L364.7,700.2 L365.4,700.0 L366.1,699.2 L366.8,698.2 L367.5,697.1 L368.2,696.4 L368.9,696.3 L369.6,696.6 L370.3,696.8 L371.0,696.6 L371.7,695.9 L372.4,694.8 L373.1,693.8 L373.8,693.2 L374.5,693.1 L375.2,693.4 L375.9,693.7 L376.6,693.6 L377.3,692.9 L378.0,691.9 L378.7,691.0 L379.4,690.4 L380.1,690.4 L380.8,690.7 L381.5,691.0 L382.2,691.0 L382.9,690.4 L383.6,689.4 L384.3,688.5 L385.0,688.0 L385.7,688.0 L386.4,688.4 L387.1,688.7 L387.8,688.7 L388.5,688.1 L389.2,687.2 L389.9,686.3 L390.6,685.9 L391.3,685.9 L392.0,686.3 L392.7,686.7 L393.4,686.7 L394.1,686.2 L394.8,685.3 L395.5,684.5 L396.2,684.0 L396.9,684.1 L397.6,684.6 L398.3,685.0 L399.0,685.1 L399.7,684.6 L400.4,683.8 L401.1,683.0 L401.8,682.6 L402.5,682.7 L403.2,683.2 L403.9,683.7 L404.6,683.8 L405.3,683.3 L406.0,682.5 L406.7,681.8 L407.4,681.4 L408.1,681.5 L408.8,682.1 L409.5,682.6 L410.2,682.7 L410.9,682.2 L411.6,681.5 L412.3,680.7 L413.0,680.4 L413.7,680.6 L414.4,681.1 L415.1,681.5 L415.8,681.5 L416.5,681.2 L417.2,680.7 L417.9,680.4 L418.6,680.4 L419.3,680.4 L420.0,680.4 L420.7,680.2 L421.4,680.2 L422.1,680.5 L422.8,680.9 L423.5,681.0 L424.2,680.5 L424.9,679.6 L425.6,678.6 L426.3,678.2 L427.0,678.7 L427.7,679.6 L428.4,680.6 L429.1,681.2 L429.8,680.9 L430.5,680.1 L431.2,678.9 L431.9,678.0 L432.6,677.8 L433.3,678.4 L434.0,679.4 L434.7,680.4 L435.4,680.9 L436.1,680.6 L436.8,679.7 L437.5,678.6 L438.2,677.8 L438.9,677.8 L439.6,678.5 L440.3,679.6 L441.0,680.6 L441.7,681.0 L442.4,680.6 L443.1,679.7 L443.8,678.6 L444.5,678.0 L445.2,678.1 L445.9,678.9 L446.6,680.0 L447.3,681.0 L448.0,681.3 L448.7,680.9 L449.4,679.9 L450.1,678.9 L450.8,678.3 L451.5,678.5 L452.2,679.4 L452.9,680.6 L453.6,681.5 L454.3,681.7 L455.0,681.2 L455.7,680.2 L456.4,679.2 L457.1,678.8 L457.8,679.1 L458.5,680.1 L459.2,681.3 L459.9,682.1 L460.6,682.3 L461.3,681.7 L462.0,680.7 L462.7,679.8 L463.4,679.5 L464.1,680.0 L464.8,681.0 L465.5,682.2 L466.2,683.0 L466.9,683.0 L467.6,682.4 L468.3,681.4 L469.0,680.6 L469.7,680.4 L470.4,681.0 L471.1,682.1 L471.8,683.2 L472.5,683.9 L473.2,683.9 L473.9,683.1 L474.6,682.1 L475.3,681.4 L476.0,681.3 L476.7,682.0 L477.4,683.2 L478.1,684.3 L478.8,684.9 L479.5,684.8 L480.2,684.0 L480.9,683.0 L481.6,682.3 L482.3,682.4 L483.0,683.2 L483.7,684.4 L484.4,685.5 L485.1,686.0 L485.8,685.7 L486.5,684.9 L487.2,683.9 L487.9,683.3 L488.6,683.5 L489.3,684.4 L490.0,685.6 L490.7,686.7 L491.4,687.1 L492.1,686.7 L492.8,685.8 L493.5,684.9 L494.2,684.4 L494.9,684.7 L495.6,685.7 L496.3,686.9 L497.0,687.9 L497.7,688.2 L498.4,687.7 L499.1,686.8 L499.8,685.9 L500.5,685.6 L501.2,686.0 L501.9,687.0 L502.6,688.3 L503.3,689.2 L504.0,689.4 L504.7,688.8 L505.4,687.9 L506.1,687.0 L506.8,686.8 L507.5,687.3 L508.2,688.4 L508.9,689.7 L509.6,690.5 L510.3,690.6 L511.0,690.0 L511.7,689.0 L512.4,688.2 L513.1,688.1 L513.8,688.7 L514.5,689.9 L515.2,690.9 L515.9,691.4 L516.6,691.2 L517.3,690.9 L518.0,690.6 L518.7,690.6 L519.4,690.9 L520.1,691.3 L520.8,691.6 L521.5,691.5 L522.2,691.1 L522.9,690.7 L523.6,690.6 L524.3,691.2 L525.0,692.5 L525.7,694.1 L526.4,695.3 L527.1,695.4 L527.8,694.6 L528.5,693.2 L529.2,691.9 L529.9,691.2 L530.6,691.4 L531.3,692.6 L532.0,694.3 L532.7,696.0 L533.4,697.1 L534.1,697.2 L534.8,696.4 L535.5,695.1 L536.2,693.7 L536.9,693.1 L537.6,693.3 L538.3,694.5 L539.0,696.3 L539.7,698.0 L540.4,699.0 L541.1,699.2 L541.8,698.4 L542.5,697.0 L543.2,695.7 L543.9,695.0 L544.6,695.3 L545.3,696.5 L546.0,698.2 L546.7,699.9 L547.4,701.0 L548.1,701.1 L548.8,700.3 L549.5,699.0 L550.2,697.6 L550.9,697.0 L551.6,697.2 L552.3,698.4 L553.0,700.1 L553.7,701.8 L554.4,702.9 L555.1,703.0 L555.8,702.2 L556.5,700.9 L557.2,699.5 L557.9,698.8 L558.6,699.1 L559.3,700.3 L560.0,702.1 L560.7,703.8 L561.4,704.8 L562.1,705.0 L562.8,704.2 L563.5,702.8 L564.2,701.5 L564.9,700.8 L565.6,701.1 L566.3,702.3 L567.0,704.1 L567.7,705.8 L568.4,706.9 L569.1,707.0 L569.8,706.2 L570.5,704.9 L571.2,703.6 L571.9,702.9 L572.6,703.2 L573.3,704.4 L574.0,706.1 L574.7,707.8 L575.4,708.9 L576.1,709.1 L576.8,708.3 L577.5,706.9 L578.2,705.6 L578.9,704.9 L579.6,705.2 L580.3,706.4 L581.0,708.1 L581.7,709.8 L582.4,710.9 L583.1,711.0 L583.8,710.1 L584.5,708.8 L585.2,707.4 L585.9,706.7 L586.6,707.0 L587.3,708.1 L588.0,709.9 L588.7,711.5 L589.4,712.6 L590.1,712.6 L590.8,711.8 L591.5,710.4 L592.2,709.0 L592.9,708.3 L593.6,708.5 L594.3,709.6 L595.0,711.3 L595.7,712.9 L596.4,713.9 L597.1,714.0 L597.8,713.1 L598.5,711.7 L599.2,710.3 L599.9,709.5 L600.6,709.7 L601.3,710.8 L602.0,712.5 L602.7,714.1 L603.4,715.1 L604.1,715.2 L604.8,714.3 L605.5,712.8 L606.2,711.4 L606.9,710.7 L607.6,710.8 L608.3,711.9 L609.0,713.6 L609.7,715.2 L610.4,716.2 L611.1,716.2 L611.8,715.3 L612.5,713.9 L613.2,712.5 L613.9,711.7 L614.6,711.8 L615.3,712.9 L616.0,714.6 L616.7,716.2 L617.4,717.1 L618.1,717.1 L618.8,716.2 L619.5,714.8 L620.2,713.3 L620.9,712.5 L621.6,712.7 L622.3,713.8 L623.0,715.4 L623.7,717.0 L624.4,717.9 L625.1,718.0 L625.8,717.0 L626.5,715.5 L627.2,714.1 L627.9,713.3 L628.6,713.4 L629.3,714.5 L630.0,716.1 L630.7,717.6 L631.4,718.6 L632.1,718.5 L632.8,717.6 L633.5,716.1 L634.2,714.7 L634.9,714.1 L635.6,714.5 L636.3,715.4 L637.0,716.4 L637.7,717.0 L638.4,717.0 L639.1,716.7 L639.8,716.5 L640.5,716.5 L641.2,716.7 L641.9,717.0 L642.6,717.1 L643.3,717.0 L644.0,716.5 L644.7,715.9 L645.4,715.3 L646.1,715.0 L646.8,715.4 L647.5,716.1 L648.2,717.0 L648.9,717.8 L649.6,718.3 L650.3,718.3 L651.0,717.9 L651.7,717.1 L652.4,716.3 L653.1,715.6 L653.8,715.4 L654.5,715.5 L655.2,716.2 L655.9,717.0 L656.6,717.9 L657.3,718.6 L658.0,718.9 L658.7,718.7 L659.4,718.1 L660.1,717.3 L660.8,716.6 L661.5,716.2 L662.2,716.2 L662.9,716.7 L663.6,717.6 L664.3,718.6 L665.0,719.5 L665.7,720.0 L666.4,720.1 L667.1,719.7 L667.8,719.0 L668.5,718.3 L669.2,717.8 L669.9,717.7 L670.6,718.1 L671.3,718.8 L672.0,719.9 L672.7,720.8 L673.4,721.6 L674.1,721.8 L674.8,721.7 L675.5,721.1 L676.2,720.4 L676.9,719.8 L677.6,719.5 L678.3,719.6 L679.0,720.2 L679.7,721.2 L680.4,722.2 L681.1,723.0 L681.8,723.5 L682.5,723.5 L683.2,723.1 L683.9,722.4 L684.6,721.7 L685.3,721.3 L686.0,721.2 L686.7,721.6 L687.4,722.5 L688.1,723.5 L688.8,724.4 L689.5,725.1 L690.2,725.3 L690.9,725.0 L691.6,724.4 L692.3,723.7 L693.0,723.1 L693.7,722.9 L694.4,723.1 L695.1,723.7 L695.8,724.7 L696.5,725.7 L697.2,726.5 L697.9,726.9 L698.6,726.8 L699.3,726.4 L700.0,725.7 L700.7,725.0 L701.4,724.6 L702.1,724.6 L702.8,725.1 L703.5,725.9 L704.2,726.9 L704.9,727.8 L705.6,728.4 L706.3,728.6 L707.0,728.2 L707.7,727.6 L708.4,726.9 L709.1,726.3 L709.8,726.1 L710.5,726.4 L711.2,727.1 L711.9,728.1 L712.6,729.0 L713.3,729.8 L714.0,730.1 L714.7,730.0 L715.4,729.5 L716.1,728.8 L716.8,728.1 L717.5,727.7 L718.2,727.8 L718.9,728.3 L719.6,729.2 L720.3,730.2 L721.0,731.1 L721.7,731.6 L722.4,731.6 L723.1,731.3 L723.8,730.6 L724.5,729.9 L725.2,729.3 L725.9,729.2 L726.6,729.5 L727.3,730.3 L728.0,731.3 L728.7,732.2 L729.4,732.9 L730.1,733.2 L730.8,733.0 L731.5,732.4 L732.2,731.7 L732.9,731.0 L733.6,730.7 L734.3,730.8 L735.0,731.4 L735.7,732.3 L736.4,733.3 L737.1,734.1 L737.8,734.6 L738.5,734.6 L739.2,734.1 L739.9,733.4 L740.6,732.7 L741.3,732.2 L742.0,732.1 L742.7,732.5 L743.4,733.3 L744.1,734.3 L744.8,735.2 L745.5,735.8 L746.2,736.0 L746.9,735.8 L747.6,735.1 L748.3,734.4 L749.0,733.8 L749.7,733.5 L750.4,733.7 L751.1,734.3 L751.8,735.2 L752.5,736.2 L753.2,737.0 L753.9,737.4 L754.6,737.3 L755.3,736.8 L756.0,736.0 L756.7,735.3 L757.4,734.9 L758.1,734.9 L758.8,735.3 L759.5,736.1 L760.2,737.1 L760.9,738.0 L761.6,738.6 L762.3,738.7 L763.0,738.3 L763.7,737.7 L764.4,736.9 L765.1,736.3 L765.8,736.1 L766.5,736.3 L767.2,737.0 L767.9,738.0 L768.6,738.9 L769.3,739.6 L770.0,739.9 L770.7,739.8 L771.4,739.2 L772.1,738.5 L772.8,737.8 L773.5,737.4 L774.2,737.4 L774.9,737.9 L775.6,738.8 L776.3,739.7 L777.0,740.6 L777.7,741.1 L778.4,741.1 L779.1,740.7 L779.8,740.0 L780.5,739.2 L781.2,738.7 L781.9,738.5 L782.6,738.8 L783.3,739.5 L784.0,740.5 L784.7,741.4 L785.4,742.1 L786.1,742.3 L786.8,742.0 L787.5,741.4 L788.2,740.7 L788.9,740.0 L789.6,739.6 L790.3,739.7 L791.0,740.3 L791.7,741.1 L792.4,742.1 L793.1,742.9 L793.8,743.3 L794.5,743.2 L795.2,742.6 L795.9,742.1 L796.6,741.7 L797.3,741.6 L798.0,741.8 L798.7,742.1 L799.4,742.4 L800.1,742.5 L800.8,742.6 L801.5,742.9 L802.2,743.4 L802.9,743.8 L803.6,744.1 L804.3,744.0 L805.0,743.7 L805.7,743.0 L806.4,742.3 L807.1,741.8 L807.8,741.8 L808.5,742.1 L809.2,742.8 L809.9,743.8 L810.6,744.7 L811.3,745.4 L812.0,745.9 L812.7,745.9 L813.4,745.5 L814.1,744.8 L814.8,744.0 L815.5,743.3 L816.2,742.9 L816.9,742.9 L817.6,743.3 L818.3,744.1 L819.0,745.0 L819.7,745.9 L820.4,746.6 L821.1,747.0 L821.8,746.9 L822.5,746.5 L823.2,745.8 L823.9,745.0 L824.6,744.3 L825.3,744.0 L826.0,744.0 L826.7,744.5 L827.4,745.3 L828.1,746.2 L828.8,747.1 L829.5,747.8 L830.2,748.1 L830.9,748.0 L831.6,747.5 L832.3,746.8 L833.0,746.0 L833.7,745.4 L834.4,745.1 L835.1,745.2 L835.8,745.7 L836.5,746.5 L837.2,747.5 L837.9,748.4 L838.6,749.0 L839.3,749.2 L840.0,749.0 L840.7,748.5 L841.4,747.8 L842.1,747.0 L842.8,746.4 L843.5,746.2 L844.2,746.3 L844.9,746.9 L845.6,747.8 L846.3,748.7 L847.0,749.6 L847.7,750.2 L848.4,750.3 L849.1,750.1 L849.8,749.5 L850.5,748.8 L851.2,748.0 L851.9,747.5 L852.6,747.3 L853.3,747.5 L854.0,748.1 L854.7,749.0 L855.4,750.0 L856.1,750.8 L856.8,751.3 L857.5,751.4 L858.2,751.2 L858.9,750.5 L859.6,749.8 L860.3,749.0 L861.0,748.5 L861.7,748.4 L862.4,748.7 L863.1,749.4 L863.8,750.3 L864.5,751.2 L865.2,752.0 L865.9,752.5 L866.6,752.5 L867.3,752.2 L868.0,751.5 L868.7,750.8 L869.4,750.1 L870.1,749.6 L870.8,749.5 L871.5,749.9 L872.2,750.6 L872.9,751.5 L873.6,752.5 L874.3,753.2 L875.0,753.6 L875.7,753.6 L876.4,753.2 L877.1,752.5 L877.8,751.8 L878.5,751.1 L879.2,750.7 L879.9,750.7 L880.6,751.1 L881.3,751.8 L882.0,752.8 L882.7,753.7 L883.4,754.4 L884.1,754.8 L884.8,754.7 L885.5,754.2 L886.2,753.5 L886.9,752.7 L887.6,752.1 L888.3,751.7 L889.0,751.8 L889.7,752.3 L890.4,753.1 L891.1,754.0 L891.8,754.9 L892.5,755.6 L893.2,755.9 L893.9,755.7 L894.6,755.2 L895.3,754.5 L896.0,753.7 L896.7,753.1 L897.4,752.8 L898.1,752.9 L898.8,753.4 L899.5,754.3 L900.2,755.2 L900.9,756.1 L901.6,756.7 L902.3,756.9 L903.0,756.8 L903.7,756.2 L904.4,755.5 L905.1,754.7 L905.8,754.1 L906.5,753.9 L907.2,754.0 L907.9,754.6 L908.6,755.5 L909.3,756.4 L910.0,757.3 L910.7,757.8 L911.4,758.0 L912.1,757.8 L912.8,757.2 L913.5,756.4 L914.2,755.7 L914.9,755.1 L915.6,754.9 L916.3,755.1 L917.0,755.8 L917.7,756.6 L918.4,757.6 L919.1,758.4 L919.8,758.9 L920.5,759.0 L921.2,758.7 L921.9,758.1 L922.6,757.3 L923.3,756.6 L924.0,756.1 L924.7,756.0 L925.4,756.2 L926.1,756.9 L926.8,757.8 L927.5,758.7 L928.2,759.5 L928.9,760.0 L929.6,760.0 L930.3,759.7 L931.0,759.0 L931.7,758.2 L932.4,757.5 L933.1,757.0 L933.8,757.0 L934.5,757.3 L935.2,758.0 L935.9,758.9 L936.6,759.9 L937.3,760.6 L938.0,761.0 L938.7,761.0 L939.4,760.6 L940.1,759.9 L940.8,759.1 L941.5,758.4 L942.2,758.0 L942.9,758.0 L943.6,758.4 L944.3,759.1 L945.0,760.0 L945.7,760.9 L946.4,761.6 L947.1,762.0 L947.8,761.9 L948.5,761.4 L949.2,760.7 L949.9,759.9 L950.6,759.3 L951.3,758.9 L952.0,758.9 L952.7,759.4 L953.4,760.2 L954.1,761.1 L954.8,762.0 L955.5,762.6 L956.2,762.9 L956.9,762.8 L957.6,762.3 L958.3,761.5 L959.0,760.7 L959.7,760.1 L960.4,759.8 L961.1,759.9 L961.8,760.4 L962.5,761.2 L963.2,762.1 L963.9,763.0 L964.6,763.6 L965.3,763.8 L966.0,763.6 L966.7,763.1 L967.4,762.3 L968.1,761.5 L968.8,760.9 L969.5,760.7 L970.2,760.8 L970.9,761.4 L971.6,762.2 L972.3,763.2 L973.0,764.0 L973.7,764.5 L974.4,764.7 L975.1,764.4 L975.8,763.8 L976.5,763.1 L977.2,762.3 L977.9,761.7 L978.6,761.5 L979.3,761.7 L980.0,762.4 L980.7,763.2 L981.4,764.1 L982.1,765.0 L982.8,765.5 L983.5,765.6 L984.2,765.2 L984.9,764.6 L985.6,763.8 L986.3,763.0 L987.0,762.5 L987.7,762.4 L988.4,762.7 L989.1,763.3 L989.8,764.2 L990.5,765.1 L991.2,765.9 L991.9,766.3 L992.6,766.4 L993.3,766.0 L994.0,765.3 L994.7,764.5 L995.4,763.8 L996.1,763.3 L996.8,763.2 L997.5,763.6 L998.2,764.3 L998.9,765.2 L999.6,766.1 L1000.3,766.8 L1001.0,767.2 L1001.7,767.2 L1002.4,766.7 L1003.1,766.0 L1003.8,765.2 L1004.5,764.5 L1005.2,764.1 L1005.9,764.1 L1006.6,764.5 L1007.3,765.2 L1008.0,766.1 L1008.7,767.0 L1009.4,767.7 L1010.1,768.0 L1010.8,767.9 L1011.5,767.5 L1012.2,766.7 L1012.9,765.9 L1013.6,765.3 L1014.3,764.9 L1015.0,764.9 L1015.7,765.4 L1016.4,766.1 L1017.1,767.1 L1017.8,767.9 L1018.5,768.6 L1019.2,768.8 L1019.9,768.7 L1020.6,768.2 L1021.3,767.4 L1022.0,766.6 L1022.7,766.0 L1023.4,765.7 L1024.1,765.7 L1024.8,766.2 L1025.5,767.0 L1026.2,768.0 L1026.9,768.8 L1027.6,769.4 L1028.3,769.6 L1029.0,769.4 L1029.7,768.9 L1030.4,768.1 L1031.1,767.3 L1031.8,766.7 L1032.5,766.4 L1033.2,766.6 L1033.9,767.1 L1034.6,767.9 L1035.3,768.9 L1036.0,769.7 L1036.7,770.3 L1037.4,770.4 L1038.1,770.1 L1038.8,769.5 L1039.5,768.7 L1040.2,768.0 L1040.9,767.4 L1041.6,767.2 L1042.3,767.4 L1043.0,768.0 L1043.7,768.8 L1044.4,769.8 L1045.1,770.6 L1045.8,771.1 L1046.5,771.2 L1047.2,770.8 L1047.9,770.2 L1048.6,769.4 L1049.3,768.6 L1050.0,768.1 L1050.7,767.9 L1051.4,768.2 L1052.1,768.9 L1052.8,769.7 L1053.5,770.6 L1054.2,771.4 L1054.9,771.9 L1055.6,771.9 L1056.3,771.5 L1057.0,770.8 L1057.7,770.0 L1058.4,769.3 L1059.1,768.8 L1059.8,768.7 L1060.5,769.0 L1061.2,769.7 L1061.9,770.6 L1062.6,771.5 L1063.3,772.2 L1064.0,772.6 L1064.7,772.6 L1065.4,772.2 L1066.1,771.4 L1066.8,770.6 L1067.5,769.9 L1068.2,769.5 L1068.9,769.4 L1069.6,769.8 L1070.3,770.6 L1071.0,771.5 L1071.7,772.4 L1072.4,773.0 L1073.1,773.4 L1073.8,773.3 L1074.5,772.8 L1075.2,772.1 L1075.9,771.2 L1076.6,770.6 L1077.3,770.2 L1078.0,770.2 L1078.7,770.6 L1079.4,771.4 L1080.1,772.3 L1080.8,773.2 L1081.5,773.8 L1082.2,774.1 L1082.9,773.9 L1083.6,773.4 L1084.3,772.6 L1085.0,771.8 L1085.7,771.2 L1086.4,770.9 L1087.1,771.0 L1087.8,771.4 L1088.5,772.2 L1089.2,773.2 L1089.9,774.0 L1090.6,774.6 L1091.3,774.8 L1092.0,774.6 L1092.7,774.0 L1093.4,773.2 L1094.1,772.4 L1094.8,771.8 L1095.5,771.6 L1096.2,771.7 L1096.9,772.2 L1097.6,773.1 L1098.3,774.0 L1099.0,774.8 L1099.7,775.4 L1100.4,775.5 L1101.1,775.2 L1101.8,774.6 L1102.5,773.8 L1103.2,773.0 L1103.9,772.5 L1104.6,772.2 L1105.3,772.4 L1106.0,773.0 L1106.7,773.9 L1107.4,774.8 L1108.1,775.6 L1108.8,776.1 L1109.5,776.2 L1110.2,775.8 L1110.9,775.2 L1111.6,774.4 L1112.3,773.6 L1113.0,773.1 L1113.7,772.9 L1114.4,773.2 L1115.1,773.8 L1115.8,774.7 L1116.5,775.6 L1117.2,776.4 L1117.9,776.8 L1118.6,776.8 L1119.3,776.5 L1120.0,775.8 L1120.7,774.9 L1121.4,774.2 L1122.1,773.7 L1122.8,773.6 L1123.5,773.9 L1124.2,774.6 L1124.9,775.5 L1125.6,776.4 L1126.3,777.1 L1127.0,777.5 L1127.7,777.5 L1128.4,777.0 L1129.1,776.3 L1129.8,775.5 L1130.5,774.8 L1131.2,774.4 L1131.9,774.3 L1132.6,774.7 L1133.3,775.4 L1134.0,776.3 L1134.7,777.2 L1135.4,777.9 L1136.1,778.2 L1136.8,778.1 L1137.5,777.6 L1138.2,776.9 L1138.9,776.1 L1139.6,775.4 L1140.3,775.0 L1141.0,775.0 L1141.7,775.4 L1142.4,776.2 L1143.1,777.1 L1143.8,778.0 L1144.5,778.6 L1145.2,778.9 L1145.9,778.7 L1146.6,778.2 L1147.3,777.4 L1148.0,776.6 L1148.7,775.9 L1149.4,775.6 L1150.1,775.7 L1150.8,776.2 L1151.5,777.0 L1152.2,777.9 L1152.9,778.7 L1153.6,779.3 L1154.3,779.5 L1155.0,779.3 L1155.7,778.7 L1156.4,777.9 L1157.1,777.1 L1157.8,776.5 L1158.5,776.3 L1159.2,776.4 L1159.9,776.9 L1160.6,777.7 L1161.3,778.7 L1162.0,779.5 L1162.7,780.0 L1163.4,780.2 L1164.1,779.9 L1164.8,779.3 L1165.5,778.5 L1166.2,777.7 L1166.9,777.1 L1167.6,776.9 L1168.3,777.1 L1169.0,777.7 L1169.7,778.5 L1170.4,779.4 L1171.1,780.2 L1171.8,780.7 L1172.5,780.8 L1173.2,780.5 L1173.9,779.8 L1174.6,779.0 L1175.3,778.2 L1176.0,777.7 L1176.7,777.5 L1177.4,777.8 L1178.1,778.4 L1178.8,779.3 L1179.5,780.2 L1180.2,780.9 L1180.9,781.4 L1181.6,781.4 L1182.3,781.0 L1183.0,780.3 L1183.7,779.5 L1184.4,778.7 L1185.1,778.3 L1185.8,778.1 L1186.5,778.5 L1187.2,779.1 L1187.9,780.0 L1188.6,780.9 L1189.3,781.6 L1190.0,782.0 L1190.7,782.0 L1191.4,781.5 L1192.1,780.8 L1192.8,780.0 L1193.5,779.3 L1194.2,778.8 L1194.9,778.8 L1195.6,779.2 L1196.3,779.9 L1197.0,780.8 L1197.7,781.6 L1198.4,782.3 L1199.1,782.6 L1199.8,782.5 L1200.5,782.0 L1201.2,781.3 L1201.9,780.5 L1202.6,779.8 L1203.3,779.4 L1204.0,779.4 L1204.7,779.8 L1205.4,780.6 L1206.1,781.5 L1206.8,782.4 L1207.5,783.0 L1208.2,783.2 L1208.9,783.1 L1209.6,782.5 L1210.3,781.8 L1211.0,781.0 L1211.7,780.3 L1212.4,780.0 L1213.1,780.0 L1213.8,780.5 L1214.5,781.3 L1215.2,782.2 L1215.9,783.1 L1216.6,783.6 L1217.3,783.8 L1218.0,783.6 L1218.7,783.0 L1219.4,782.2 L1220.1,781.4 L1220.8,780.8 L1221.5,780.5 L1222.2,780.7 L1222.9,781.2 L1223.6,782.0 L1224.3,782.9 L1225.0,783.7 L1225.7,784.3 L1226.4,784.4 L1227.1,784.1 L1227.8,783.5 L1228.5,782.7 L1229.2,781.9 L1229.9,781.3 L1230.6,781.1 L1231.3,781.3 L1232.0,781.9 L1232.7,782.7 L1233.4,783.6 L1234.1,784.4 L1234.8,784.9 L1235.5,785.0 L1236.2,784.6 L1236.9,784.0 L1237.6,783.1 L1238.3,782.4 L1239.0,781.8 L1239.7,781.7 L1240.4,781.9 L1241.1,782.5 L1241.8,783.4 L1242.5,784.3 L1243.2,785.1 L1243.9,785.5 L1244.6,785.5 L1245.3,785.1 L1246.0,784.4 L1246.7,783.6 L1247.4,782.8 L1248.1,782.3 L1248.8,782.2 L1249.5,782.5 L1250.2,783.2 L1250.9,784.1 L1251.6,785.0 L1252.3,785.7 L1253.0,786.1 L1253.7,786.0 L1254.4,785.6 L1255.1,784.8 L1255.8,784.0 L1256.5,783.3 L1257.2,782.8 L1257.9,782.8 L1258.6,783.2 L1259.3,783.9 L1260.0,784.8 L1260.7,785.6 L1261.4,786.3 L1262.1,786.6 L1262.8,786.5 L1263.5,785.9 L1264.2,785.2 L1264.9,784.6 L1265.6,784.3 L1266.3,784.3 L1267.0,784.5 L1267.7,784.9 L1268.4,785.1" stroke="#70AD47"/>
<path d="M209.1,-30.0 L209.1,-12.7 L209.2,4.5 L209.2,21.6 L209.3,38.5 L209.3,55.2 L209.3,71.7 L209.4,88.1 L209.4,104.2 L209.5,120.1 L209.5,135.8 L209.6,151.3 L209.6,166.5 L209.6,181.4 L209.7,196.1 L209.7,210.4 L209.8,224.5 L209.8,238.2 L209.8,251.6 L209.9,264.7 L209.9,277.4 L210.0,289.7 L210.0,301.7 L210.0,313.6 L210.1,325.6 L210.1,337.6 L210.2,349.7 L210.2,361.8 L210.3,373.9 L210.3,386.0 L210.3,398.0 L210.4,409.9 L210.4,421.6 L210.5,433.3 L210.5,444.8 L210.5,456.1 L210.6,467.2 L210.6,478.0 L210.7,488.6 L210.7,498.9 L210.7,508.9 L210.8,518.6 L210.8,527.8 L210.9,536.7 L210.9,545.2 L211.0,553.2 L211.0,560.8 L211.0,567.9 L211.1,574.5 L211.1,580.5 L211.2,585.9 L211.2,590.8 L211.2,595.1 L211.3,598.7 L211.3,601.7 L211.4,604.6 L211.4,607.5 L211.4,610.3 L211.5,613.1 L211.5,615.8 L211.6,618.5 L211.6,621.1 L211.7,623.7 L211.7,626.2 L211.7,628.7 L211.8,631.2 L211.8,633.5 L211.9,635.9 L211.9,638.2 L211.9,640.4 L212.0,642.6 L212.0,644.8 L212.1,646.9 L212.1,648.9 L212.1,651.0 L212.2,652.9 L212.2,654.9 L212.3,656.8 L212.3,658.6 L212.4,660.4 L212.4,662.2 L212.4,664.0 L212.5,665.6 L212.5,667.3 L212.6,668.9 L212.6,670.5 L212.6,672.0 L212.7,673.5 L212.7,675.0 L212.8,676.4 L212.8,677.8 L212.8,679.2 L212.9,680.5 L212.9,681.8 L213.0,683.1 L213.0,684.3 L213.1,685.5 L213.1,686.6 L213.1,687.8 L213.2,688.9 L213.2,689.9 L213.3,691.0 L213.3,692.0 L213.3,692.9 L213.4,693.9 L213.4,694.8 L213.5,695.7 L213.5,696.6 L213.5,697.4 L213.6,698.2 L213.6,699.0 L213.7,699.8 L213.7,700.5 L213.8,701.2 L213.8,701.9 L213.8,702.6 L213.9,703.2 L213.9,703.8 L214.0,704.4 L214.0,705.0 L214.2,708.3 L214.9,716.7 L215.6,723.8 L216.3,729.8 L217.0,734.8 L217.7,739.1 L218.4,742.8 L219.1,746.2 L219.8,749.3 L220.5,752.4 L221.2,755.3 L221.9,758.1 L222.6,760.6 L223.3,763.0 L224.0,765.2 L224.7,767.2 L225.4,768.9 L226.1,770.5 L226.8,771.8 L227.5,772.9 L228.2,774.0 L228.9,775.0 L229.6,775.8 L230.3,776.8 L231.0,777.9 L231.7,779.0 L232.4,779.8 L233.1,779.9 L233.8,779.4 L234.5,778.7 L235.2,778.5 L235.9,778.8 L236.6,779.6 L237.3,780.2 L238.0,780.2 L238.7,779.7 L239.4,778.9 L240.1,778.1 L240.8,777.7 L241.5,777.8 L242.2,777.9 L242.9,777.8 L243.6,777.0 L244.3,775.5 L245.0,773.7 L245.7,772.1 L246.4,771.1 L247.1,770.7 L247.8,770.6 L248.5,770.2 L249.2,769.3 L249.9,767.7 L250.6,766.0 L251.3,764.5 L252.0,763.5 L252.7,763.1 L253.4,762.8 L254.1,762.2 L254.8,761.0 L255.5,759.3 L256.2,757.4 L256.9,755.8 L257.6,754.8 L258.3,754.2 L259.0,753.8 L259.7,753.0 L260.4,751.5 L261.1,749.6 L261.8,747.5 L262.5,745.9 L263.2,744.8 L263.9,744.2 L264.6,743.6 L265.3,742.6 L266.0,741.0 L266.7,739.0 L267.4,736.9 L268.1,735.2 L268.8,734.2 L269.5,733.5 L270.2,732.8 L270.9,731.6 L271.6,729.8 L272.3,727.6 L273.0,725.5 L273.7,723.9 L274.4,722.8 L275.1,722.2 L275.8,721.4 L276.5,720.2 L277.2,718.3 L277.9,716.2 L278.6,714.1 L279.3,712.6 L280.0,711.6 L280.7,711.0 L281.4,710.2 L282.1,708.9 L282.8,707.0 L283.5,704.8 L284.2,702.8 L284.9,701.5 L285.6,700.7 L286.3,700.1 L287.0,699.3 L287.7,698.0 L288.4,696.1 L289.1,693.9 L289.8,692.1 L290.5,690.9 L291.2,690.2 L291.9,689.7 L292.6,688.9 L293.3,687.5 L294.0,685.7 L294.7,683.8 L295.4,682.3 L296.1,681.4 L296.8,680.7 L297.5,680.0 L298.2,679.0 L298.9,677.8 L299.6,676.6 L300.3,675.5 L301.0,674.4 L301.7,673.8 L302.4,673.4 L303.1,672.8 L303.8,671.7 L304.5,669.8 L305.2,667.7 L305.9,666.1 L306.6,665.7 L307.3,666.2 L308.0,666.7 L308.7,666.5 L309.4,665.2 L310.1,663.0 L310.8,660.7 L311.5,659.0 L312.2,658.4 L312.9,658.8 L313.6,659.4 L314.3,659.6 L315.0,658.8 L315.7,657.0 L316.4,654.8 L317.1,653.1 L317.8,652.3 L318.5,652.6 L319.2,653.5 L319.9,654.1 L320.6,653.7 L321.3,652.3 L322.0,650.3 L322.7,648.5 L323.4,647.5 L324.1,647.7 L324.8,648.6 L325.5,649.5 L326.2,649.5 L326.9,648.5 L327.6,646.7 L328.3,644.8 L329.0,643.7 L329.7,643.6 L330.4,644.5 L331.1,645.5 L331.8,645.9 L332.5,645.3 L333.2,643.7 L333.9,641.8 L334.6,640.5 L335.3,640.2 L336.0,640.9 L336.7,642.0 L337.4,642.7 L338.1,642.4 L338.8,641.1 L339.5,639.3 L340.2,638.1 L340.9,637.8 L341.6,638.2 L342.3,638.6 L343.0,638.7 L343.7,638.3 L344.4,637.8 L345.1,637.5 L345.8,637.5 L346.5,637.0 L347.2,636.1 L347.9,635.2 L348.6,634.9 L349.3,635.4 L350.0,636.7 L350.7,638.2 L351.4,638.8 L352.1,638.0 L352.8,636.2 L353.5,634.1 L354.2,632.6 L354.9,632.2 L355.6,633.0 L356.3,634.8 L357.0,636.5 L357.7,637.6 L358.4,637.4 L359.1,636.1 L359.8,634.1 L360.5,632.3 L361.2,631.4 L361.9,631.8 L362.6,633.3 L363.3,635.3 L364.0,636.8 L364.7,637.2 L365.4,636.3 L366.1,634.5 L366.8,632.6 L367.5,631.3 L368.2,631.1 L368.9,632.3 L369.6,634.1 L370.3,635.9 L371.0,636.9 L371.7,636.6 L372.4,635.2 L373.1,633.2 L373.8,631.5 L374.5,630.9 L375.2,631.6 L375.9,633.2 L376.6,635.2 L377.3,636.7 L378.0,637.0 L378.7,636.1 L379.4,634.3 L380.1,632.5 L380.8,631.4 L381.5,631.6 L382.2,632.9 L382.9,634.9 L383.6,636.8 L384.3,637.7 L385.0,637.3 L385.7,635.9 L386.4,634.0 L387.1,632.6 L387.8,632.2 L388.5,633.2 L389.2,635.0 L389.9,637.1 L390.6,638.5 L391.3,638.7 L392.0,637.7 L392.7,636.0 L393.4,634.3 L394.1,633.4 L394.8,633.8 L395.5,635.4 L396.2,637.5 L396.9,639.3 L397.6,640.1 L398.3,639.5 L399.0,638.0 L399.7,636.2 L400.4,634.9 L401.1,634.8 L401.8,635.9 L402.5,637.9 L403.2,639.9 L403.9,641.2 L404.6,641.3 L405.3,640.2 L406.0,638.5 L406.7,636.9 L407.4,636.3 L408.1,636.9 L408.8,638.7 L409.5,640.8 L410.2,642.6 L410.9,643.3 L411.6,642.7 L412.3,641.1 L413.0,639.4 L413.7,638.4 L414.4,638.5 L415.1,639.9 L415.8,642.0 L416.5,644.1 L417.2,645.3 L417.9,645.2 L418.6,644.1 L419.3,642.3 L420.0,640.9 L420.7,640.5 L421.4,641.4 L422.1,643.3 L422.8,645.5 L423.5,647.2 L424.2,647.7 L424.9,647.0 L425.6,645.4 L426.3,643.7 L427.0,642.8 L427.7,643.2 L428.4,644.7 L429.1,646.8 L429.8,648.8 L430.5,649.9 L431.2,649.6 L431.9,648.3 L432.6,646.6 L433.3,645.3 L434.0,645.1 L434.7,646.1 L435.4,648.1 L436.1,650.3 L436.8,651.8 L437.5,652.1 L438.2,651.2 L438.9,649.6 L439.6,648.0 L440.3,647.3 L441.0,647.8 L441.7,649.5 L442.4,651.7 L443.1,653.6 L443.8,654.5 L444.5,654.1 L445.2,652.7 L445.9,651.0 L446.6,649.8 L447.3,649.8 L448.0,651.0 L448.7,653.1 L449.4,655.2 L450.1,656.6 L450.8,656.8 L451.5,655.7 L452.2,654.1 L452.9,652.6 L453.6,652.0 L454.3,652.7 L455.0,654.5 L455.7,656.7 L456.4,658.5 L457.1,659.2 L457.8,658.6 L458.5,657.1 L459.2,655.5 L459.9,654.4 L460.6,654.6 L461.3,656.0 L462.0,658.1 L462.7,660.2 L463.4,661.4 L464.1,661.4 L464.8,660.2 L465.5,658.5 L466.2,657.1 L466.9,656.7 L467.6,657.6 L468.3,659.5 L469.0,661.7 L469.7,663.4 L470.4,663.9 L471.1,663.2 L471.8,661.6 L472.5,660.0 L473.2,659.1 L473.9,659.5 L474.6,661.0 L475.3,663.2 L476.0,665.1 L476.7,666.2 L477.4,666.0 L478.1,664.7 L478.8,663.0 L479.5,661.7 L480.2,661.4 L480.9,662.5 L481.6,664.5 L482.3,666.6 L483.0,668.1 L483.7,668.4 L484.4,667.5 L485.1,665.9 L485.8,664.3 L486.5,663.5 L487.2,664.0 L487.9,665.7 L488.6,667.8 L489.3,669.7 L490.0,670.5 L490.7,670.1 L491.4,668.7 L492.1,666.9 L492.8,665.7 L493.5,665.6 L494.2,666.9 L494.9,668.9 L495.6,670.5 L496.3,671.2 L497.0,671.0 L497.7,670.4 L498.4,669.9 L499.1,669.9 L499.8,670.4 L500.5,670.6 L501.2,670.5 L501.9,670.2 L502.6,670.2 L503.3,670.7 L504.0,671.8 L504.7,673.1 L505.4,674.4 L506.1,674.8 L506.8,674.1 L507.5,672.9 L508.2,671.6 L508.9,670.8 L509.6,670.9 L510.3,671.9 L511.0,673.5 L511.7,675.3 L512.4,676.6 L513.1,677.1 L513.8,676.7 L514.5,675.5 L515.2,674.2 L515.9,673.2 L516.6,673.1 L517.3,673.9 L518.0,675.4 L518.7,677.2 L519.4,678.7 L520.1,679.5 L520.8,679.3 L521.5,678.4 L522.2,677.1 L522.9,676.0 L523.6,675.6 L524.3,676.1 L525.0,677.4 L525.7,679.2 L526.4,680.9 L527.1,681.9 L527.8,682.0 L528.5,681.3 L529.2,680.0 L529.9,678.8 L530.6,678.1 L531.3,678.4 L532.0,679.5 L532.7,681.2 L533.4,683.0 L534.1,684.2 L534.8,684.6 L535.5,684.0 L536.2,682.9 L536.9,681.6 L537.6,680.7 L538.3,680.7 L539.0,681.5 L539.7,683.1 L540.4,684.9 L541.1,686.4 L541.8,687.0 L542.5,686.7 L543.2,685.6 L543.9,684.3 L544.6,683.3 L545.3,683.0 L546.0,683.6 L546.7,685.0 L547.4,686.8 L548.1,688.4 L548.8,689.3 L549.5,689.2 L550.2,688.4 L550.9,687.0 L551.6,685.8 L552.3,685.3 L553.0,685.6 L553.7,686.9 L554.4,688.6 L555.1,690.3 L555.8,691.4 L556.5,691.6 L557.2,691.0 L557.9,689.7 L558.6,688.4 L559.3,687.6 L560.0,687.7 L560.7,688.7 L561.4,690.4 L562.1,692.1 L562.8,693.4 L563.5,693.9 L564.2,693.5 L564.9,692.3 L565.6,691.0 L566.3,690.0 L567.0,689.8 L567.7,690.6 L568.4,692.1 L569.1,693.8 L569.8,695.3 L570.5,696.1 L571.2,695.9 L571.9,694.9 L572.6,693.6 L573.3,692.4 L574.0,692.0 L574.7,692.4 L575.4,693.8 L576.1,695.5 L576.8,697.1 L577.5,698.1 L578.2,698.2 L578.9,697.4 L579.6,696.1 L580.3,694.8 L581.0,694.1 L581.7,694.3 L582.4,695.4 L583.1,697.1 L583.8,698.8 L584.5,700.0 L585.2,700.4 L585.9,699.8 L586.6,698.6 L587.3,697.2 L588.0,696.3 L588.7,696.3 L589.4,697.1 L590.1,698.7 L590.8,700.4 L591.5,701.8 L592.2,702.4 L592.9,702.1 L593.6,701.0 L594.3,699.6 L595.0,698.6 L595.7,698.2 L596.4,698.8 L597.1,700.2 L597.8,702.0 L598.5,703.5 L599.2,704.4 L599.9,704.3 L600.6,703.4 L601.3,702.1 L602.0,700.8 L602.7,700.3 L603.4,700.6 L604.1,701.8 L604.8,703.5 L605.5,705.2 L606.2,706.2 L606.9,706.4 L607.6,705.7 L608.3,704.5 L609.0,703.1 L609.7,702.3 L610.4,702.4 L611.1,703.4 L611.8,705.0 L612.5,706.7 L613.2,708.0 L613.9,708.5 L614.6,708.0 L615.3,706.8 L616.0,705.4 L616.7,704.4 L617.4,704.2 L618.1,704.9 L618.8,706.4 L619.5,708.2 L620.2,709.6 L620.9,710.4 L621.6,710.1 L622.3,709.1 L623.0,707.8 L623.7,706.6 L624.4,706.1 L625.1,706.6 L625.8,707.9 L626.5,709.6 L627.2,711.2 L627.9,712.1 L628.6,712.2 L629.3,711.4 L630.0,710.0 L630.7,708.7 L631.4,708.0 L632.1,708.2 L632.8,709.3 L633.5,710.9 L634.2,712.6 L634.9,713.4 L635.6,713.4 L636.3,712.8 L637.0,712.1 L637.7,711.7 L638.4,711.7 L639.1,712.1 L639.8,712.6 L640.5,712.9 L641.2,713.2 L641.9,713.6 L642.6,713.9 L643.3,713.9 L644.0,713.7 L644.7,713.3 L645.4,712.9 L646.1,712.8 L646.8,713.3 L647.5,714.1 L648.2,715.0 L648.9,715.9 L649.6,716.4 L650.3,716.6 L651.0,716.4 L651.7,715.9 L652.4,715.3 L653.1,714.8 L653.8,714.7 L654.5,715.0 L655.2,715.7 L655.9,716.5 L656.6,717.4 L657.3,718.1 L658.0,718.5 L658.7,718.4 L659.4,718.0 L660.1,717.4 L660.8,716.9 L661.5,716.6 L662.2,716.7 L662.9,717.2 L663.6,718.0 L664.3,718.9 L665.0,719.8 L665.7,720.3 L666.4,720.4 L667.1,720.1 L667.8,719.5 L668.5,718.9 L669.2,718.5 L669.9,718.4 L670.6,718.8 L671.3,719.5 L672.0,720.4 L672.7,721.2 L673.4,721.9 L674.1,722.2 L674.8,722.0 L675.5,721.6 L676.2,721.0 L676.9,720.4 L677.6,720.2 L678.3,720.3 L679.0,720.9 L679.7,721.7 L680.4,722.6 L681.1,723.4 L681.8,723.8 L682.5,723.9 L683.2,723.5 L683.9,723.0 L684.6,722.4 L685.3,722.0 L686.0,721.9 L686.7,722.3 L687.4,723.1 L688.1,724.0 L688.8,724.8 L689.5,725.4 L690.2,725.6 L690.9,725.4 L691.6,724.9 L692.3,724.3 L693.0,723.8 L693.7,723.6 L694.4,723.8 L695.1,724.4 L695.8,725.2 L696.5,726.1 L697.2,726.8 L697.9,727.2 L698.6,727.2 L699.3,726.8 L700.0,726.2 L700.7,725.6 L701.4,725.3 L702.1,725.3 L702.8,725.7 L703.5,726.5 L704.2,727.4 L704.9,728.2 L705.6,728.7 L706.3,728.9 L707.0,728.6 L707.7,728.1 L708.4,727.5 L709.1,727.0 L709.8,726.8 L710.5,727.1 L711.2,727.7 L711.9,728.6 L712.6,729.5 L713.3,730.1 L714.0,730.4 L714.7,730.4 L715.4,729.9 L716.1,729.3 L716.8,728.7 L717.5,728.4 L718.2,728.5 L718.9,729.0 L719.6,729.8 L720.3,730.6 L721.0,731.4 L721.7,731.9 L722.4,732.0 L723.1,731.7 L723.8,731.1 L724.5,730.5 L725.2,730.0 L725.9,729.9 L726.6,730.2 L727.3,730.9 L728.0,731.8 L728.7,732.6 L729.4,733.2 L730.1,733.5 L730.8,733.3 L731.5,732.8 L732.2,732.2 L732.9,731.7 L733.6,731.4 L734.3,731.5 L735.0,732.0 L735.7,732.9 L736.4,733.7 L737.1,734.5 L737.8,734.9 L738.5,734.9 L739.2,734.5 L739.9,733.9 L740.6,733.3 L741.3,732.9 L742.0,732.8 L742.7,733.2 L743.4,733.9 L744.1,734.8 L744.8,735.6 L745.5,736.2 L746.2,736.4 L746.9,736.1 L747.6,735.6 L748.3,735.0 L749.0,734.4 L749.7,734.2 L750.4,734.4 L751.1,734.9 L751.8,735.8 L752.5,736.6 L753.2,737.3 L753.9,737.7 L754.6,737.6 L755.3,737.2 L756.0,736.6 L756.7,736.0 L757.4,735.6 L758.1,735.6 L758.8,736.0 L759.5,736.7 L760.2,737.6 L760.9,738.4 L761.6,738.9 L762.3,739.0 L763.0,738.7 L763.7,738.2 L764.4,737.5 L765.1,737.0 L765.8,736.8 L766.5,737.1 L767.2,737.7 L767.9,738.5 L768.6,739.3 L769.3,740.0 L770.0,740.3 L770.7,740.1 L771.4,739.7 L772.1,739.0 L772.8,738.4 L773.5,738.1 L774.2,738.1 L774.9,738.6 L775.6,739.3 L776.3,740.2 L777.0,741.0 L777.7,741.4 L778.4,741.4 L779.1,741.1 L779.8,740.5 L780.5,739.8 L781.2,739.4 L781.9,739.2 L782.6,739.5 L783.3,740.1 L784.0,741.0 L784.7,741.8 L785.4,742.4 L786.1,742.6 L786.8,742.4 L787.5,741.9 L788.2,741.2 L788.9,740.7 L789.6,740.4 L790.3,740.5 L791.0,740.9 L791.7,741.7 L792.4,742.6 L793.1,743.3 L793.8,743.7 L794.5,743.5 L795.2,743.1 L795.9,742.6 L796.6,742.3 L797.3,742.2 L798.0,742.4 L798.7,742.7 L799.4,743.0 L800.1,743.1 L800.8,743.2 L801.5,743.5 L802.2,743.9 L802.9,744.4 L803.6,744.7 L804.3,744.7 L805.0,744.2 L805.7,743.5 L806.4,742.7 L807.1,742.2 L807.8,742.1 L808.5,742.5 L809.2,743.3 L809.9,744.3 L810.6,745.3 L811.3,746.1 L812.0,746.6 L812.7,746.6 L813.4,746.1 L814.1,745.4 L814.8,744.5 L815.5,743.7 L816.2,743.3 L816.9,743.2 L817.6,743.7 L818.3,744.5 L819.0,745.5 L819.7,746.6 L820.4,747.3 L821.1,747.7 L821.8,747.6 L822.5,747.1 L823.2,746.3 L823.9,745.5 L824.6,744.7 L825.3,744.3 L826.0,744.4 L826.7,744.9 L827.4,745.8 L828.1,746.8 L828.8,747.8 L829.5,748.5 L830.2,748.9 L830.9,748.7 L831.6,748.1 L832.3,747.3 L833.0,746.4 L833.7,745.8 L834.4,745.4 L835.1,745.5 L835.8,746.1 L836.5,747.0 L837.2,748.1 L837.9,749.0 L838.6,749.7 L839.3,750.0 L840.0,749.8 L840.7,749.1 L841.4,748.3 L842.1,747.4 L842.8,746.8 L843.5,746.5 L844.2,746.7 L844.9,747.3 L845.6,748.3 L846.3,749.3 L847.0,750.3 L847.7,750.9 L848.4,751.1 L849.1,750.8 L849.8,750.2 L850.5,749.3 L851.2,748.5 L851.9,747.8 L852.6,747.6 L853.3,747.9 L854.0,748.6 L854.7,749.5 L855.4,750.6 L856.1,751.5 L856.8,752.1 L857.5,752.2 L858.2,751.9 L858.9,751.2 L859.6,750.3 L860.3,749.5 L861.0,748.9 L861.7,748.8 L862.4,749.1 L863.1,749.8 L863.8,750.8 L864.5,751.9 L865.2,752.7 L865.9,753.2 L866.6,753.3 L867.3,752.9 L868.0,752.2 L868.7,751.3 L869.4,750.5 L870.1,750.0 L870.8,749.9 L871.5,750.3 L872.2,751.1 L872.9,752.1 L873.6,753.1 L874.3,753.9 L875.0,754.4 L875.7,754.4 L876.4,753.9 L877.1,753.2 L877.8,752.3 L878.5,751.5 L879.2,751.0 L879.9,751.0 L880.6,751.5 L881.3,752.3 L882.0,753.3 L882.7,754.4 L883.4,755.1 L884.1,755.5 L884.8,755.4 L885.5,754.9 L886.2,754.1 L886.9,753.2 L887.6,752.5 L888.3,752.1 L889.0,752.2 L889.7,752.7 L890.4,753.5 L891.1,754.6 L891.8,755.6 L892.5,756.3 L893.2,756.6 L893.9,756.5 L894.6,755.9 L895.3,755.1 L896.0,754.2 L896.7,753.5 L897.4,753.2 L898.1,753.3 L898.8,753.9 L899.5,754.8 L900.2,755.8 L900.9,756.8 L901.6,757.5 L902.3,757.7 L903.0,757.5 L903.7,756.9 L904.4,756.0 L905.1,755.2 L905.8,754.5 L906.5,754.2 L907.2,754.4 L907.9,755.1 L908.6,756.0 L909.3,757.0 L910.0,758.0 L910.7,758.6 L911.4,758.8 L912.1,758.5 L912.8,757.8 L913.5,757.0 L914.2,756.1 L914.9,755.5 L915.6,755.3 L916.3,755.5 L917.0,756.2 L917.7,757.2 L918.4,758.2 L919.1,759.1 L919.8,759.7 L920.5,759.8 L921.2,759.5 L921.9,758.8 L922.6,757.9 L923.3,757.1 L924.0,756.5 L924.7,756.3 L925.4,756.6 L926.1,757.4 L926.8,758.4 L927.5,759.4 L928.2,760.3 L928.9,760.8 L929.6,760.8 L930.3,760.4 L931.0,759.7 L931.7,758.8 L932.4,758.0 L933.1,757.4 L933.8,757.4 L934.5,757.7 L935.2,758.5 L935.9,759.5 L936.6,760.5 L937.3,761.4 L938.0,761.8 L938.7,761.8 L939.4,761.3 L940.1,760.5 L940.8,759.6 L941.5,758.9 L942.2,758.4 L942.9,758.4 L943.6,758.8 L944.3,759.6 L945.0,760.6 L945.7,761.6 L946.4,762.4 L947.1,762.8 L947.8,762.7 L948.5,762.2 L949.2,761.4 L949.9,760.5 L950.6,759.7 L951.3,759.3 L952.0,759.3 L952.7,759.8 L953.4,760.7 L954.1,761.7 L954.8,762.7 L955.5,763.4 L956.2,763.7 L956.9,763.6 L957.6,763.0 L958.3,762.2 L959.0,761.3 L959.7,760.6 L960.4,760.2 L961.1,760.3 L961.8,760.9 L962.5,761.7 L963.2,762.8 L963.9,763.7 L964.6,764.4 L965.3,764.6 L966.0,764.4 L966.7,763.8 L967.4,762.9 L968.1,762.0 L968.8,761.4 L969.5,761.1 L970.2,761.2 L970.9,761.9 L971.6,762.8 L972.3,763.8 L973.0,764.7 L973.7,765.3 L974.4,765.5 L975.1,765.2 L975.8,764.5 L976.5,763.7 L977.2,762.8 L977.9,762.2 L978.6,761.9 L979.3,762.2 L980.0,762.8 L980.7,763.8 L981.4,764.8 L982.1,765.7 L982.8,766.3 L983.5,766.4 L984.2,766.0 L984.9,765.3 L985.6,764.4 L986.3,763.6 L987.0,763.0 L987.7,762.8 L988.4,763.1 L989.1,763.8 L989.8,764.8 L990.5,765.8 L991.2,766.7 L991.9,767.2 L992.6,767.2 L993.3,766.8 L994.0,766.0 L994.7,765.1 L995.4,764.3 L996.1,763.8 L996.8,763.7 L997.5,764.0 L998.2,764.8 L998.9,765.8 L999.6,766.8 L1000.3,767.6 L1001.0,768.0 L1001.7,768.0 L1002.4,767.5 L1003.1,766.7 L1003.8,765.8 L1004.5,765.0 L1005.2,764.6 L1005.9,764.5 L1006.6,764.9 L1007.3,765.8 L1008.0,766.8 L1008.7,767.8 L1009.4,768.5 L1010.1,768.9 L1010.8,768.8 L1011.5,768.2 L1012.2,767.4 L1012.9,766.5 L1013.6,765.8 L1014.3,765.3 L1015.0,765.4 L1015.7,765.9 L1016.4,766.7 L1017.1,767.7 L1017.8,768.7 L1018.5,769.4 L1019.2,769.7 L1019.9,769.5 L1020.6,768.9 L1021.3,768.1 L1022.0,767.2 L1022.7,766.5 L1023.4,766.1 L1024.1,766.2 L1024.8,766.8 L1025.5,767.6 L1026.2,768.7 L1026.9,769.6 L1027.6,770.3 L1028.3,770.5 L1029.0,770.3 L1029.7,769.6 L1030.4,768.8 L1031.1,767.9 L1031.8,767.2 L1032.5,766.9 L1033.2,767.0 L1033.9,767.7 L1034.6,768.6 L1035.3,769.6 L1036.0,770.5 L1036.7,771.1 L1037.4,771.3 L1038.1,771.0 L1038.8,770.3 L1039.5,769.4 L1040.2,768.5 L1040.9,767.9 L1041.6,767.7 L1042.3,767.9 L1043.0,768.5 L1043.7,769.5 L1044.4,770.5 L1045.1,771.4 L1045.8,771.9 L1046.5,772.0 L1047.2,771.7 L1047.9,770.9 L1048.6,770.0 L1049.3,769.2 L1050.0,768.6 L1050.7,768.4 L1051.4,768.7 L1052.1,769.4 L1052.8,770.4 L1053.5,771.4 L1054.2,772.2 L1054.9,772.7 L1055.6,772.8 L1056.3,772.3 L1057.0,771.6 L1057.7,770.7 L1058.4,769.8 L1059.1,769.3 L1059.8,769.2 L1060.5,769.5 L1061.2,770.3 L1061.9,771.3 L1062.6,772.3 L1063.3,773.1 L1064.0,773.5 L1064.7,773.5 L1065.4,773.0 L1066.1,772.2 L1066.8,771.3 L1067.5,770.5 L1068.2,770.0 L1068.9,770.0 L1069.6,770.4 L1070.3,771.2 L1071.0,772.2 L1071.7,773.2 L1072.4,773.9 L1073.1,774.3 L1073.8,774.2 L1074.5,773.6 L1075.2,772.8 L1075.9,771.9 L1076.6,771.1 L1077.3,770.7 L1078.0,770.7 L1078.7,771.2 L1079.4,772.0 L1080.1,773.0 L1080.8,774.0 L1081.5,774.7 L1082.2,775.0 L1082.9,774.8 L1083.6,774.2 L1084.3,773.4 L1085.0,772.5 L1085.7,771.8 L1086.4,771.4 L1087.1,771.5 L1087.8,772.0 L1088.5,772.9 L1089.2,773.9 L1089.9,774.9 L1090.6,775.5 L1091.3,775.7 L1092.0,775.5 L1092.7,774.8 L1093.4,774.0 L1094.1,773.1 L1094.8,772.4 L1095.5,772.1 L1096.2,772.2 L1096.9,772.8 L1097.6,773.7 L1098.3,774.8 L1099.0,775.7 L1099.7,776.3 L1100.4,776.4 L1101.1,776.1 L1101.8,775.4 L1102.5,774.5 L1103.2,773.7 L1103.9,773.0 L1104.6,772.8 L1105.3,773.0 L1106.0,773.7 L1106.7,774.6 L1107.4,775.6 L1108.1,776.5 L1108.8,777.0 L1109.5,777.1 L1110.2,776.7 L1110.9,776.0 L1111.6,775.1 L1112.3,774.3 L1113.0,773.7 L1113.7,773.5 L1114.4,773.8 L1115.1,774.5 L1115.8,775.4 L1116.5,776.4 L1117.2,777.3 L1117.9,777.8 L1118.6,777.8 L1119.3,777.4 L1120.0,776.6 L1120.7,775.7 L1121.4,774.8 L1122.1,774.3 L1122.8,774.2 L1123.5,774.5 L1124.2,775.3 L1124.9,776.3 L1125.6,777.3 L1126.3,778.1 L1127.0,778.5 L1127.7,778.4 L1128.4,777.9 L1129.1,777.1 L1129.8,776.2 L1130.5,775.4 L1131.2,774.9 L1131.9,774.9 L1132.6,775.3 L1133.3,776.1 L1134.0,777.1 L1134.7,778.1 L1135.4,778.8 L1136.1,779.2 L1136.8,779.1 L1137.5,778.5 L1138.2,777.7 L1138.9,776.8 L1139.6,776.0 L1140.3,775.6 L1141.0,775.6 L1141.7,776.1 L1142.4,776.9 L1143.1,777.9 L1143.8,778.9 L1144.5,779.6 L1145.2,779.9 L1145.9,779.7 L1146.6,779.1 L1147.3,778.2 L1148.0,777.3 L1148.7,776.6 L1149.4,776.2 L1150.1,776.3 L1150.8,776.8 L1151.5,777.7 L1152.2,778.7 L1152.9,779.7 L1153.6,780.3 L1154.3,780.5 L1155.0,780.3 L1155.7,779.6 L1156.4,778.8 L1157.1,777.9 L1157.8,777.2 L1158.5,776.9 L1159.2,777.0 L1159.9,777.6 L1160.6,778.5 L1161.3,779.5 L1162.0,780.4 L1162.7,781.0 L1163.4,781.2 L1164.1,780.9 L1164.8,780.2 L1165.5,779.3 L1166.2,778.4 L1166.9,777.8 L1167.6,777.5 L1168.3,777.7 L1169.0,778.4 L1169.7,779.3 L1170.4,780.3 L1171.1,781.2 L1171.8,781.7 L1172.5,781.8 L1173.2,781.4 L1173.9,780.7 L1174.6,779.8 L1175.3,778.9 L1176.0,778.3 L1176.7,778.2 L1177.4,778.4 L1178.1,779.1 L1178.8,780.1 L1179.5,781.1 L1180.2,781.9 L1180.9,782.4 L1181.6,782.4 L1182.3,782.0 L1183.0,781.2 L1183.7,780.3 L1184.4,779.5 L1185.1,778.9 L1185.8,778.8 L1186.5,779.1 L1187.2,779.9 L1187.9,780.9 L1188.6,781.9 L1189.3,782.7 L1190.0,783.1 L1190.7,783.0 L1191.4,782.5 L1192.1,781.7 L1192.8,780.8 L1193.5,780.0 L1194.2,779.5 L1194.9,779.4 L1195.6,779.9 L1196.3,780.6 L1197.0,781.6 L1197.7,782.6 L1198.4,783.4 L1199.1,783.7 L1199.8,783.6 L1200.5,783.0 L1201.2,782.2 L1201.9,781.3 L1202.6,780.5 L1203.3,780.1 L1204.0,780.1 L1204.7,780.6 L1205.4,781.4 L1206.1,782.4 L1206.8,783.4 L1207.5,784.1 L1208.2,784.3 L1208.9,784.2 L1209.6,783.6 L1210.3,782.7 L1211.0,781.8 L1211.7,781.0 L1212.4,780.7 L1213.1,780.7 L1213.8,781.3 L1214.5,782.1 L1215.2,783.2 L1215.9,784.1 L1216.6,784.7 L1217.3,784.9 L1218.0,784.7 L1218.7,784.0 L1219.4,783.2 L1220.1,782.3 L1220.8,781.6 L1221.5,781.2 L1222.2,781.4 L1222.9,782.0 L1223.6,782.9 L1224.3,783.9 L1225.0,784.8 L1225.7,785.4 L1226.4,785.5 L1227.1,785.2 L1227.8,784.5 L1228.5,783.6 L1229.2,782.7 L1229.9,782.1 L1230.6,781.8 L1231.3,782.0 L1232.0,782.7 L1232.7,783.6 L1233.4,784.6 L1234.1,785.5 L1234.8,786.0 L1235.5,786.1 L1236.2,785.7 L1236.9,785.0 L1237.6,784.1 L1238.3,783.2 L1239.0,782.6 L1239.7,782.4 L1240.4,782.7 L1241.1,783.4 L1241.8,784.3 L1242.5,785.3 L1243.2,786.2 L1243.9,786.6 L1244.6,786.6 L1245.3,786.2 L1246.0,785.4 L1246.7,784.5 L1247.4,783.7 L1248.1,783.1 L1248.8,783.0 L1249.5,783.3 L1250.2,784.1 L1250.9,785.1 L1251.6,786.0 L1252.3,786.8 L1253.0,787.2 L1253.7,787.2 L1254.4,786.7 L1255.1,785.9 L1255.8,784.9 L1256.5,784.1 L1257.2,783.6 L1257.9,783.6 L1258.6,784.0 L1259.3,784.8 L1260.0,785.8 L1260.7,786.7 L1261.4,787.5 L1262.1,787.8 L1262.8,787.7 L1263.5,787.0 L1264.2,786.2 L1264.9,785.6 L1265.6,785.2 L1266.3,785.2 L1267.0,785.5 L1267.7,785.8 L1268.4,786.1" stroke="#255E91"/>
<path d="M209.2,-30.0 L209.2,-13.4 L209.2,3.1 L209.3,19.5 L209.3,35.7 L209.4,51.7 L209.4,67.5 L209.4,83.2 L209.5,98.6 L209.5,113.8 L209.6,128.8 L209.6,143.6 L209.6,158.0 L209.7,172.2 L209.7,186.2 L209.8,199.8 L209.8,213.1 L209.8,226.1 L209.9,238.8 L209.9,251.1 L210.0,263.1 L210.0,274.7 L210.0,285.9 L210.1,296.7 L210.1,307.2 L210.2,317.7 L210.2,328.2 L210.3,338.7 L210.3,349.1 L210.3,359.4 L210.4,369.7 L210.4,379.9 L210.5,390.0 L210.5,399.9 L210.5,409.8 L210.6,419.5 L210.6,429.0 L210.7,438.3 L210.7,447.5 L210.7,456.4 L210.8,465.2 L210.8,473.6 L210.9,481.9 L210.9,489.8 L210.9,497.5 L211.0,504.9 L211.0,512.0 L211.1,518.8 L211.1,525.2 L211.1,531.2 L211.2,536.9 L211.2,542.2 L211.3,547.1 L211.3,551.6 L211.4,555.7 L211.4,559.3 L211.4,562.6 L211.5,565.8 L211.5,568.9 L211.6,571.9 L211.6,574.9 L211.6,577.8 L211.7,580.6 L211.7,583.3 L211.8,586.0 L211.8,588.6 L211.8,591.1 L211.9,593.6 L211.9,596.0 L212.0,598.3 L212.0,600.6 L212.0,602.9 L212.1,605.1 L212.1,607.2 L212.2,609.3 L212.2,611.3 L212.2,613.3 L212.3,615.2 L212.3,617.1 L212.4,618.9 L212.4,620.7 L212.5,622.5 L212.5,624.2 L212.5,625.9 L212.6,627.6 L212.6,629.2 L212.7,630.8 L212.7,632.4 L212.7,633.9 L212.8,635.4 L212.8,636.9 L212.9,638.4 L212.9,639.8 L212.9,641.3 L213.0,642.7 L213.0,644.1 L213.1,645.5 L213.1,646.8 L213.1,648.2 L213.2,649.6 L213.2,650.9 L213.3,652.3 L213.3,653.6 L213.3,655.0 L213.4,656.3 L213.4,657.7 L213.5,659.0 L213.5,660.4 L213.6,661.7 L213.6,663.1 L213.6,664.5 L213.7,665.8 L213.7,667.2 L213.8,668.6 L213.8,669.9 L213.8,671.3 L213.9,672.7 L213.9,674.0 L214.0,675.3 L214.0,676.6 L214.2,684.4 L214.9,700.3 L215.6,706.7 L216.3,711.5 L217.0,715.4 L217.7,718.5 L218.4,721.1 L219.1,723.3 L219.8,725.4 L220.5,727.4 L221.2,729.4 L221.9,731.1 L222.6,732.6 L223.3,733.8 L224.0,734.8 L224.7,736.0 L225.4,737.3 L226.1,738.4 L226.8,738.9 L227.5,738.4 L228.2,737.8 L228.9,737.6 L229.6,737.8 L230.3,738.3 L231.0,738.6 L231.7,738.1 L232.4,737.1 L233.1,735.8 L233.8,734.9 L234.5,734.5 L235.2,734.4 L235.9,734.1 L236.6,733.0 L237.3,731.3 L238.0,729.3 L238.7,727.7 L239.4,726.5 L240.1,725.6 L240.8,724.5 L241.5,722.9 L242.2,720.7 L242.9,718.2 L243.6,716.1 L244.3,714.6 L245.0,713.6 L245.7,712.5 L246.4,710.9 L247.1,708.8 L247.8,706.4 L248.5,704.2 L249.2,702.5 L249.9,701.2 L250.6,700.0 L251.3,698.4 L252.0,696.1 L252.7,693.5 L253.4,691.2 L254.1,689.3 L254.8,687.9 L255.5,686.7 L256.2,685.1 L256.9,682.9 L257.6,680.3 L258.3,677.9 L259.0,675.9 L259.7,674.4 L260.4,673.1 L261.1,671.5 L261.8,669.4 L262.5,666.8 L263.2,664.2 L263.9,662.1 L264.6,660.6 L265.3,659.3 L266.0,657.8 L266.7,655.6 L267.4,653.0 L268.1,650.4 L268.8,648.1 L269.5,646.4 L270.2,645.1 L270.9,643.5 L271.6,641.5 L272.3,638.9 L273.0,636.3 L273.7,634.1 L274.4,632.5 L275.1,631.3 L275.8,630.1 L276.5,628.4 L277.2,626.2 L277.9,623.8 L278.6,621.8 L279.3,620.3 L280.0,619.3 L280.7,618.3 L281.4,616.9 L282.1,614.9 L282.8,612.8 L283.5,610.9 L284.2,609.6 L284.9,608.9 L285.6,608.2 L286.3,607.2 L287.0,605.7 L287.7,603.9 L288.4,602.2 L289.1,601.2 L289.8,600.6 L290.5,600.3 L291.2,599.5 L291.9,598.3 L292.6,596.7 L293.3,595.2 L294.0,594.3 L294.7,594.0 L295.4,593.8 L296.1,593.4 L296.8,592.5 L297.5,591.2 L298.2,589.9 L298.9,589.1 L299.6,588.9 L300.3,588.9 L301.0,588.7 L301.7,588.0 L302.4,586.8 L303.1,585.7 L303.8,585.0 L304.5,584.9 L305.2,585.1 L305.9,585.3 L306.6,584.9 L307.3,584.0 L308.0,583.0 L308.7,582.4 L309.4,582.4 L310.1,582.8 L310.8,583.0 L311.5,582.8 L312.2,582.0 L312.9,581.1 L313.6,580.5 L314.3,580.5 L315.0,581.0 L315.7,581.4 L316.4,581.4 L317.1,580.9 L317.8,580.2 L318.5,579.7 L319.2,579.9 L319.9,580.4 L320.6,581.1 L321.3,581.3 L322.0,580.9 L322.7,580.3 L323.4,579.8 L324.1,579.8 L324.8,580.4 L325.5,581.0 L326.2,581.3 L326.9,581.0 L327.6,580.4 L328.3,579.8 L329.0,579.8 L329.7,580.3 L330.4,580.9 L331.1,581.3 L331.8,581.1 L332.5,580.6 L333.2,580.1 L333.9,580.1 L334.6,580.7 L335.3,581.6 L336.0,582.2 L336.7,582.3 L337.4,582.0 L338.1,581.6 L338.8,581.7 L339.5,582.3 L340.2,583.3 L340.9,584.1 L341.6,584.3 L342.3,584.1 L343.0,583.7 L343.7,583.7 L344.4,584.3 L345.1,585.2 L345.8,586.0 L346.5,586.3 L347.2,586.1 L347.9,585.8 L348.6,585.7 L349.3,586.2 L350.0,587.2 L350.7,588.1 L351.4,588.5 L352.1,588.4 L352.8,588.1 L353.5,588.0 L354.2,588.4 L354.9,589.4 L355.6,590.4 L356.3,590.9 L357.0,590.9 L357.7,590.6 L358.4,590.5 L359.1,590.9 L359.8,591.8 L360.5,592.8 L361.2,593.5 L361.9,593.5 L362.6,593.3 L363.3,593.1 L364.0,593.5 L364.7,594.4 L365.4,595.4 L366.1,596.2 L366.8,596.4 L367.5,596.2 L368.2,596.0 L368.9,596.3 L369.6,597.1 L370.3,598.2 L371.0,599.1 L371.7,599.4 L372.4,599.2 L373.1,599.0 L373.8,599.2 L374.5,600.0 L375.2,601.0 L375.9,601.9 L376.6,602.3 L377.3,602.2 L378.0,601.9 L378.7,602.0 L379.4,602.7 L380.1,603.8 L380.8,604.8 L381.5,605.2 L382.2,605.1 L382.9,604.8 L383.6,604.9 L384.3,605.5 L385.0,606.6 L385.7,607.6 L386.4,608.1 L387.1,608.1 L387.8,607.8 L388.5,607.8 L389.2,608.3 L389.9,609.3 L390.6,610.4 L391.3,611.0 L392.0,611.1 L392.7,610.8 L393.4,610.7 L394.1,611.2 L394.8,612.2 L395.5,613.3 L396.2,614.0 L396.9,614.1 L397.6,613.9 L398.3,613.8 L399.0,614.2 L399.7,615.1 L400.4,616.2 L401.1,617.0 L401.8,617.3 L402.5,617.1 L403.2,616.9 L403.9,617.3 L404.6,618.1 L405.3,619.3 L406.0,620.2 L406.7,620.5 L407.4,620.4 L408.1,620.2 L408.8,620.5 L409.5,621.3 L410.2,622.5 L410.9,623.4 L411.6,623.8 L412.3,623.7 L413.0,623.5 L413.7,623.7 L414.4,624.5 L415.1,625.5 L415.8,626.3 L416.5,626.7 L417.2,626.8 L417.9,627.0 L418.6,627.4 L419.3,627.9 L420.0,628.4 L420.7,628.9 L421.4,629.4 L422.1,629.8 L422.8,630.2 L423.5,630.4 L424.2,630.5 L424.9,630.7 L425.6,631.0 L426.3,631.5 L427.0,632.2 L427.7,632.9 L428.4,633.5 L429.1,633.8 L429.8,633.9 L430.5,633.9 L431.2,633.9 L431.9,634.1 L432.6,634.4 L433.3,635.0 L434.0,635.7 L434.7,636.4 L435.4,637.0 L436.1,637.3 L436.8,637.5 L437.5,637.5 L438.2,637.6 L438.9,637.8 L439.6,638.2 L440.3,638.8 L441.0,639.6 L441.7,640.4 L442.4,641.0 L443.1,641.4 L443.8,641.5 L444.5,641.6 L445.2,641.6 L445.9,641.8 L446.6,642.2 L447.3,642.9 L448.0,643.6 L448.7,644.4 L449.4,644.9 L450.1,645.3 L450.8,645.5 L451.5,645.5 L452.2,645.5 L452.9,645.7 L453.6,646.1 L454.3,646.7 L455.0,647.4 L455.7,648.1 L456.4,648.7 L457.1,649.0 L457.8,649.2 L458.5,649.2 L459.2,649.2 L459.9,649.3 L460.6,649.7 L461.3,650.3 L462.0,651.0 L462.7,651.7 L463.4,652.2 L464.1,652.6 L464.8,652.7 L465.5,652.6 L466.2,652.6 L466.9,652.8 L467.6,653.1 L468.3,653.7 L469.0,654.4 L469.7,655.1 L470.4,655.6 L471.1,655.9 L471.8,656.0 L472.5,656.0 L473.2,655.9 L473.9,656.0 L474.6,656.4 L475.3,656.9 L476.0,657.6 L476.7,658.3 L477.4,658.8 L478.1,659.1 L478.8,659.1 L479.5,659.1 L480.2,659.1 L480.9,659.2 L481.6,659.5 L482.3,660.0 L483.0,660.7 L483.7,661.3 L484.4,661.8 L485.1,662.1 L485.8,662.2 L486.5,662.1 L487.2,662.0 L487.9,662.1 L488.6,662.4 L489.3,662.9 L490.0,663.6 L490.7,664.2 L491.4,664.7 L492.1,665.0 L492.8,665.0 L493.5,665.0 L494.2,664.9 L494.9,665.0 L495.6,665.3 L496.3,665.8 L497.0,666.4 L497.7,667.0 L498.4,667.5 L499.1,667.8 L499.8,667.8 L500.5,667.7 L501.2,667.6 L501.9,667.7 L502.6,668.0 L503.3,668.5 L504.0,669.1 L504.7,669.7 L505.4,670.2 L506.1,670.4 L506.8,670.5 L507.5,670.4 L508.2,670.3 L508.9,670.3 L509.6,670.6 L510.3,671.1 L511.0,671.7 L511.7,672.3 L512.4,672.8 L513.1,673.0 L513.8,673.1 L514.5,673.0 L515.2,672.9 L515.9,672.9 L516.6,673.2 L517.3,673.7 L518.0,674.3 L518.7,674.9 L519.4,675.3 L520.1,675.6 L520.8,675.6 L521.5,675.5 L522.2,675.4 L522.9,675.4 L523.6,675.7 L524.3,676.2 L525.0,676.8 L525.7,677.4 L526.4,677.8 L527.1,678.1 L527.8,678.1 L528.5,678.0 L529.2,677.9 L529.9,677.9 L530.6,678.2 L531.3,678.6 L532.0,679.2 L532.7,679.8 L533.4,680.3 L534.1,680.5 L534.8,680.5 L535.5,680.4 L536.2,680.3 L536.9,680.3 L537.6,680.5 L538.3,681.0 L539.0,681.6 L539.7,682.2 L540.4,682.6 L541.1,682.8 L541.8,682.8 L542.5,682.7 L543.2,682.6 L543.9,682.6 L544.6,682.9 L545.3,683.3 L546.0,683.9 L546.7,684.5 L547.4,684.9 L548.1,685.1 L548.8,685.1 L549.5,685.0 L550.2,684.9 L550.9,684.9 L551.6,685.2 L552.3,685.6 L553.0,686.2 L553.7,686.8 L554.4,687.2 L555.1,687.4 L555.8,687.4 L556.5,687.2 L557.2,687.1 L557.9,687.1 L558.6,687.4 L559.3,687.8 L560.0,688.4 L560.7,689.0 L561.4,689.4 L562.1,689.6 L562.8,689.6 L563.5,689.4 L564.2,689.3 L564.9,689.3 L565.6,689.5 L566.3,690.0 L567.0,690.6 L567.7,691.1 L568.4,691.5 L569.1,691.7 L569.8,691.7 L570.5,691.6 L571.2,691.4 L571.9,691.4 L572.6,691.7 L573.3,692.1 L574.0,692.7 L574.7,693.2 L575.4,693.6 L576.1,693.8 L576.8,693.8 L577.5,693.6 L578.2,693.5 L578.9,693.5 L579.6,693.7 L580.3,694.2 L581.0,694.7 L581.7,695.3 L582.4,695.7 L583.1,695.9 L583.8,695.8 L584.5,695.7 L585.2,695.5 L585.9,695.5 L586.6,695.7 L587.3,696.2 L588.0,696.7 L588.7,697.3 L589.4,697.7 L590.1,697.9 L590.8,697.8 L591.5,697.7 L592.2,697.5 L592.9,697.5 L593.6,697.7 L594.3,698.2 L595.0,698.7 L595.7,699.3 L596.4,699.7 L597.1,699.9 L597.8,699.8 L598.5,699.7 L599.2,699.5 L599.9,699.5 L600.6,699.7 L601.3,700.1 L602.0,700.7 L602.7,701.2 L603.4,701.6 L604.1,701.8 L604.8,701.8 L605.5,701.6 L606.2,701.4 L606.9,701.4 L607.6,701.6 L608.3,702.1 L609.0,702.6 L609.7,703.1 L610.4,703.5 L611.1,703.7 L611.8,703.7 L612.5,703.5 L613.2,703.3 L613.9,703.3 L614.6,703.5 L615.3,704.0 L616.0,704.5 L616.7,705.0 L617.4,705.4 L618.1,705.6 L618.8,705.5 L619.5,705.4 L620.2,705.2 L620.9,705.2 L621.6,705.4 L622.3,705.8 L623.0,706.3 L623.7,706.9 L624.4,707.3 L625.1,707.4 L625.8,707.4 L626.5,707.2 L627.2,707.0 L627.9,707.0 L628.6,707.2 L629.3,707.6 L630.0,708.2 L630.7,708.7 L631.4,709.1 L632.1,709.2 L632.8,709.2 L633.5,709.0 L634.2,708.8 L634.9,708.9 L635.6,709.1 L636.3,709.5 L637.0,709.9 L637.7,710.2 L638.4,710.4 L639.1,710.5 L639.8,710.6 L640.5,710.9 L641.2,711.2 L641.9,711.4 L642.6,711.6 L643.3,711.5 L644.0,711.3 L644.7,711.0 L645.4,710.9 L646.1,711.0 L646.8,711.4 L647.5,712.1 L648.2,712.8 L648.9,713.5 L649.6,714.0 L650.3,714.3 L651.0,714.2 L651.7,714.0 L652.4,713.6 L653.1,713.2 L653.8,712.9 L654.5,712.8 L655.2,713.0 L655.9,713.5 L656.6,714.2 L657.3,714.9 L658.0,715.6 L658.7,716.0 L659.4,716.3 L660.1,716.2 L660.8,715.9 L661.5,715.5 L662.2,715.1 L662.9,714.8 L663.6,714.8 L664.3,715.0 L665.0,715.5 L665.7,716.2 L666.4,716.9 L667.1,717.5 L667.8,718.0 L668.5,718.1 L669.2,718.0 L669.9,717.7 L670.6,717.2 L671.3,716.8 L672.0,716.6 L672.7,716.6 L673.4,716.9 L674.1,717.4 L674.8,718.1 L675.5,718.8 L676.2,719.4 L676.9,719.8 L677.6,719.9 L678.3,719.8 L679.0,719.4 L679.7,719.0 L680.4,718.6 L681.1,718.3 L681.8,718.4 L682.5,718.7 L683.2,719.3 L683.9,719.9 L684.6,720.6 L685.3,721.0 L686.0,721.2 L686.7,721.1 L687.4,721.0 L688.1,720.9 L688.8,720.9 L689.5,721.0 L690.2,721.1 L690.9,721.0 L691.6,721.0 L692.3,721.2 L693.0,721.8 L693.7,722.6 L694.4,723.5 L695.1,724.2 L695.8,724.4 L696.5,723.9 L697.2,723.0 L697.9,722.1 L698.6,721.2 L699.3,720.8 L700.0,720.9 L700.7,721.6 L701.4,722.6 L702.1,723.9 L702.8,725.0 L703.5,725.9 L704.2,726.3 L704.9,726.2 L705.6,725.6 L706.3,724.7 L707.0,723.7 L707.7,723.0 L708.4,722.6 L709.1,722.8 L709.8,723.5 L710.5,724.6 L711.2,725.8 L711.9,727.0 L712.6,727.8 L713.3,728.1 L714.0,727.9 L714.7,727.3 L715.4,726.3 L716.1,725.4 L716.8,724.7 L717.5,724.4 L718.2,724.6 L718.9,725.4 L719.6,726.5 L720.3,727.8 L721.0,728.9 L721.7,729.6 L722.4,729.9 L723.1,729.6 L723.8,728.9 L724.5,727.9 L725.2,727.0 L725.9,726.3 L726.6,726.1 L727.3,726.4 L728.0,727.2 L728.7,728.4 L729.4,729.6 L730.1,730.7 L730.8,731.4 L731.5,731.6 L732.2,731.2 L732.9,730.4 L733.6,729.4 L734.3,728.5 L735.0,727.9 L735.7,727.8 L736.4,728.2 L737.1,729.0 L737.8,730.2 L738.5,731.4 L739.2,732.5 L739.9,733.1 L740.6,733.2 L741.3,732.7 L742.0,731.9 L742.7,730.9 L743.4,730.0 L744.1,729.5 L744.8,729.4 L745.5,729.8 L746.2,730.8 L746.9,732.0 L747.6,733.2 L748.3,734.1 L749.0,734.7 L749.7,734.7 L750.4,734.2 L751.1,733.3 L751.8,732.3 L752.5,731.5 L753.2,731.0 L753.9,731.0 L754.6,731.5 L755.3,732.5 L756.0,733.7 L756.7,734.8 L757.4,735.8 L758.1,736.2 L758.8,736.1 L759.5,735.6 L760.2,734.7 L760.9,733.7 L761.6,732.8 L762.3,732.4 L763.0,732.5 L763.7,733.1 L764.4,734.1 L765.1,735.3 L765.8,736.4 L766.5,737.3 L767.2,737.7 L767.9,737.5 L768.6,736.9 L769.3,735.9 L770.0,735.0 L770.7,734.2 L771.4,733.8 L772.1,733.9 L772.8,734.6 L773.5,735.6 L774.2,736.9 L774.9,738.0 L775.6,738.8 L776.3,739.1 L777.0,738.8 L777.7,738.1 L778.4,737.2 L779.1,736.2 L779.8,735.4 L780.5,735.1 L781.2,735.3 L781.9,736.0 L782.6,737.1 L783.3,738.3 L784.0,739.4 L784.7,740.1 L785.4,740.4 L786.1,740.0 L786.8,739.3 L787.5,738.3 L788.2,737.3 L788.9,736.6 L789.6,736.4 L790.3,736.6 L791.0,737.4 L791.7,738.5 L792.4,739.7 L793.1,740.8 L793.8,741.4 L794.5,741.4 L795.2,740.8 L795.9,740.1 L796.6,739.5 L797.3,739.1 L798.0,739.1 L798.7,739.4 L799.4,739.8 L800.1,740.0 L800.8,740.1 L801.5,740.4 L802.2,740.8 L802.9,741.2 L803.6,741.4 L804.3,741.4 L805.0,741.1 L805.7,740.5 L806.4,739.9 L807.1,739.5 L807.8,739.5 L808.5,739.8 L809.2,740.5 L809.9,741.3 L810.6,742.2 L811.3,742.9 L812.0,743.2 L812.7,743.3 L813.4,742.9 L814.1,742.3 L814.8,741.7 L815.5,741.1 L816.2,740.7 L816.9,740.8 L817.6,741.2 L818.3,741.8 L819.0,742.7 L819.7,743.6 L820.4,744.2 L821.1,744.6 L821.8,744.5 L822.5,744.1 L823.2,743.5 L823.9,742.9 L824.6,742.3 L825.3,742.0 L826.0,742.1 L826.7,742.5 L827.4,743.3 L828.1,744.1 L828.8,745.0 L829.5,745.6 L830.2,745.9 L830.9,745.8 L831.6,745.4 L832.3,744.8 L833.0,744.1 L833.7,743.6 L834.4,743.3 L835.1,743.5 L835.8,744.0 L836.5,744.7 L837.2,745.6 L837.9,746.4 L838.6,747.0 L839.3,747.2 L840.0,747.1 L840.7,746.6 L841.4,746.0 L842.1,745.3 L842.8,744.8 L843.5,744.6 L844.2,744.8 L844.9,745.4 L845.6,746.1 L846.3,747.0 L847.0,747.8 L847.7,748.3 L848.4,748.5 L849.1,748.3 L849.8,747.8 L850.5,747.2 L851.2,746.5 L851.9,746.1 L852.6,745.9 L853.3,746.1 L854.0,746.7 L854.7,747.5 L855.4,748.4 L856.1,749.1 L856.8,749.6 L857.5,749.7 L858.2,749.5 L858.9,748.9 L859.6,748.3 L860.3,747.6 L861.0,747.2 L861.7,747.1 L862.4,747.4 L863.1,748.0 L863.8,748.8 L864.5,749.7 L865.2,750.4 L865.9,750.8 L866.6,750.9 L867.3,750.6 L868.0,750.0 L868.7,749.3 L869.4,748.7 L870.1,748.3 L870.8,748.3 L871.5,748.6 L872.2,749.2 L872.9,750.1 L873.6,750.9 L874.3,751.6 L875.0,752.0 L875.7,752.0 L876.4,751.6 L877.1,751.0 L877.8,750.3 L878.5,749.8 L879.2,749.4 L879.9,749.4 L880.6,749.8 L881.3,750.5 L882.0,751.3 L882.7,752.1 L883.4,752.8 L884.1,753.1 L884.8,753.1 L885.5,752.7 L886.2,752.1 L886.9,751.4 L887.6,750.8 L888.3,750.5 L889.0,750.6 L889.7,751.0 L890.4,751.7 L891.1,752.6 L891.8,753.4 L892.5,754.0 L893.2,754.2 L893.9,754.1 L894.6,753.7 L895.3,753.1 L896.0,752.4 L896.7,751.9 L897.4,751.6 L898.1,751.7 L898.8,752.2 L899.5,752.9 L900.2,753.8 L900.9,754.6 L901.6,755.1 L902.3,755.4 L903.0,755.2 L903.7,754.7 L904.4,754.1 L905.1,753.4 L905.8,752.9 L906.5,752.7 L907.2,752.8 L907.9,753.4 L908.6,754.1 L909.3,755.0 L910.0,755.8 L910.7,756.3 L911.4,756.4 L912.1,756.2 L912.8,755.7 L913.5,755.0 L914.2,754.4 L914.9,753.9 L915.6,753.8 L916.3,754.0 L917.0,754.5 L917.7,755.3 L918.4,756.2 L919.1,756.9 L919.8,757.4 L920.5,757.5 L921.2,757.2 L921.9,756.7 L922.6,756.0 L923.3,755.4 L924.0,754.9 L924.7,754.8 L925.4,755.1 L926.1,755.7 L926.8,756.5 L927.5,757.3 L928.2,758.0 L928.9,758.5 L929.6,758.5 L930.3,758.2 L931.0,757.6 L931.7,756.9 L932.4,756.3 L933.1,755.9 L933.8,755.8 L934.5,756.2 L935.2,756.8 L935.9,757.6 L936.6,758.5 L937.3,759.1 L938.0,759.5 L938.7,759.5 L939.4,759.1 L940.1,758.5 L940.8,757.8 L941.5,757.2 L942.2,756.9 L942.9,756.9 L943.6,757.2 L944.3,757.9 L945.0,758.7 L945.7,759.6 L946.4,760.2 L947.1,760.5 L947.8,760.4 L948.5,760.0 L949.2,759.4 L949.9,758.7 L950.6,758.1 L951.3,757.8 L952.0,757.9 L952.7,758.3 L953.4,759.0 L954.1,759.8 L954.8,760.6 L955.5,761.2 L956.2,761.5 L956.9,761.3 L957.6,760.9 L958.3,760.2 L959.0,759.5 L959.7,759.0 L960.4,758.7 L961.1,758.8 L961.8,759.3 L962.5,760.0 L963.2,760.8 L963.9,761.6 L964.6,762.2 L965.3,762.4 L966.0,762.2 L966.7,761.7 L967.4,761.0 L968.1,760.4 L968.8,759.8 L969.5,759.6 L970.2,759.8 L970.9,760.3 L971.6,761.0 L972.3,761.9 L973.0,762.6 L973.7,763.1 L974.4,763.3 L975.1,763.0 L975.8,762.5 L976.5,761.8 L977.2,761.2 L977.9,760.7 L978.6,760.5 L979.3,760.7 L980.0,761.2 L980.7,762.0 L981.4,762.9 L982.1,763.6 L982.8,764.0 L983.5,764.1 L984.2,763.9 L984.9,763.3 L985.6,762.6 L986.3,761.9 L987.0,761.5 L987.7,761.4 L988.4,761.6 L989.1,762.2 L989.8,763.0 L990.5,763.8 L991.2,764.5 L991.9,764.9 L992.6,765.0 L993.3,764.7 L994.0,764.1 L994.7,763.4 L995.4,762.7 L996.1,762.3 L996.8,762.2 L997.5,762.5 L998.2,763.2 L998.9,764.0 L999.6,764.8 L1000.3,765.5 L1001.0,765.8 L1001.7,765.8 L1002.4,765.4 L1003.1,764.8 L1003.8,764.1 L1004.5,763.5 L1005.2,763.1 L1005.9,763.1 L1006.6,763.4 L1007.3,764.1 L1008.0,764.9 L1008.7,765.7 L1009.4,766.4 L1010.1,766.7 L1010.8,766.6 L1011.5,766.2 L1012.2,765.5 L1012.9,764.8 L1013.6,764.2 L1014.3,763.9 L1015.0,763.9 L1015.7,764.3 L1016.4,765.0 L1017.1,765.9 L1017.8,766.7 L1018.5,767.2 L1019.2,767.5 L1019.9,767.4 L1020.6,766.9 L1021.3,766.2 L1022.0,765.5 L1022.7,765.0 L1023.4,764.7 L1024.1,764.8 L1024.8,765.2 L1025.5,766.0 L1026.2,766.8 L1026.9,767.6 L1027.6,768.1 L1028.3,768.3 L1029.0,768.1 L1029.7,767.6 L1030.4,766.9 L1031.1,766.2 L1031.8,765.7 L1032.5,765.5 L1033.2,765.6 L1033.9,766.1 L1034.6,766.9 L1035.3,767.7 L1036.0,768.4 L1036.7,768.9 L1037.4,769.1 L1038.1,768.8 L1038.8,768.3 L1039.5,767.6 L1040.2,766.9 L1040.9,766.4 L1041.6,766.3 L1042.3,766.4 L1043.0,767.0 L1043.7,767.7 L1044.4,768.6 L1045.1,769.3 L1045.8,769.7 L1046.5,769.8 L1047.2,769.5 L1047.9,769.0 L1048.6,768.3 L1049.3,767.6 L1050.0,767.1 L1050.7,767.0 L1051.4,767.3 L1052.1,767.8 L1052.8,768.6 L1053.5,769.5 L1054.2,770.1 L1054.9,770.5 L1055.6,770.6 L1056.3,770.2 L1057.0,769.6 L1057.7,768.9 L1058.4,768.3 L1059.1,767.9 L1059.8,767.8 L1060.5,768.1 L1061.2,768.7 L1061.9,769.5 L1062.6,770.3 L1063.3,771.0 L1064.0,771.3 L1064.7,771.3 L1065.4,770.9 L1066.1,770.3 L1066.8,769.6 L1067.5,768.9 L1068.2,768.6 L1068.9,768.5 L1069.6,768.9 L1070.3,769.5 L1071.0,770.4 L1071.7,771.2 L1072.4,771.8 L1073.1,772.1 L1073.8,772.0 L1074.5,771.6 L1075.2,770.9 L1075.9,770.2 L1076.6,769.6 L1077.3,769.3 L1078.0,769.3 L1078.7,769.7 L1079.4,770.4 L1080.1,771.2 L1080.8,772.0 L1081.5,772.6 L1082.2,772.8 L1082.9,772.7 L1083.6,772.2 L1084.3,771.5 L1085.0,770.8 L1085.7,770.3 L1086.4,770.0 L1087.1,770.1 L1087.8,770.5 L1088.5,771.2 L1089.2,772.0 L1089.9,772.8 L1090.6,773.3 L1091.3,773.5 L1092.0,773.3 L1092.7,772.8 L1093.4,772.2 L1094.1,771.5 L1094.8,770.9 L1095.5,770.7 L1096.2,770.8 L1096.9,771.3 L1097.6,772.0 L1098.3,772.9 L1099.0,773.6 L1099.7,774.1 L1100.4,774.2 L1101.1,774.0 L1101.8,773.5 L1102.5,772.8 L1103.2,772.1 L1103.9,771.6 L1104.6,771.4 L1105.3,771.6 L1106.0,772.1 L1106.7,772.9 L1107.4,773.7 L1108.1,774.4 L1108.8,774.8 L1109.5,774.9 L1110.2,774.6 L1110.9,774.1 L1111.6,773.3 L1112.3,772.7 L1113.0,772.2 L1113.7,772.1 L1114.4,772.3 L1115.1,772.9 L1115.8,773.7 L1116.5,774.5 L1117.2,775.2 L1117.9,775.6 L1118.6,775.6 L1119.3,775.3 L1120.0,774.6 L1120.7,773.9 L1121.4,773.3 L1122.1,772.9 L1122.8,772.8 L1123.5,773.1 L1124.2,773.7 L1124.9,774.5 L1125.6,775.3 L1126.3,775.9 L1127.0,776.3 L1127.7,776.2 L1128.4,775.9 L1129.1,775.2 L1129.8,774.5 L1130.5,773.9 L1131.2,773.5 L1131.9,773.5 L1132.6,773.8 L1133.3,774.5 L1134.0,775.3 L1134.7,776.1 L1135.4,776.7 L1136.1,777.0 L1136.8,776.9 L1137.5,776.5 L1138.2,775.8 L1138.9,775.1 L1139.6,774.5 L1140.3,774.1 L1141.0,774.2 L1141.7,774.6 L1142.4,775.2 L1143.1,776.1 L1143.8,776.8 L1144.5,777.4 L1145.2,777.6 L1145.9,777.5 L1146.6,777.0 L1147.3,776.4 L1148.0,775.6 L1148.7,775.1 L1149.4,774.8 L1150.1,774.9 L1150.8,775.3 L1151.5,776.0 L1152.2,776.8 L1152.9,777.6 L1153.6,778.1 L1154.3,778.3 L1155.0,778.1 L1155.7,777.6 L1156.4,776.9 L1157.1,776.2 L1157.8,775.7 L1158.5,775.4 L1159.2,775.6 L1159.9,776.0 L1160.6,776.8 L1161.3,777.6 L1162.0,778.3 L1162.7,778.8 L1163.4,778.9 L1164.1,778.7 L1164.8,778.2 L1165.5,777.4 L1166.2,776.8 L1166.9,776.2 L1167.6,776.1 L1168.3,776.2 L1169.0,776.8 L1169.7,777.5 L1170.4,778.3 L1171.1,779.1 L1171.8,779.5 L1172.5,779.6 L1173.2,779.3 L1173.9,778.7 L1174.6,778.0 L1175.3,777.3 L1176.0,776.8 L1176.7,776.7 L1177.4,776.9 L1178.1,777.5 L1178.8,778.3 L1179.5,779.1 L1180.2,779.8 L1180.9,780.2 L1181.6,780.2 L1182.3,779.8 L1183.0,779.2 L1183.7,778.5 L1184.4,777.8 L1185.1,777.4 L1185.8,777.3 L1186.5,777.6 L1187.2,778.2 L1187.9,779.0 L1188.6,779.8 L1189.3,780.5 L1190.0,780.8 L1190.7,780.8 L1191.4,780.4 L1192.1,779.7 L1192.8,779.0 L1193.5,778.4 L1194.2,778.0 L1194.9,778.0 L1195.6,778.3 L1196.3,778.9 L1197.0,779.7 L1197.7,780.5 L1198.4,781.1 L1199.1,781.4 L1199.8,781.3 L1200.5,780.9 L1201.2,780.3 L1201.9,779.5 L1202.6,778.9 L1203.3,778.6 L1204.0,778.6 L1204.7,779.0 L1205.4,779.7 L1206.1,780.5 L1206.8,781.2 L1207.5,781.8 L1208.2,782.0 L1208.9,781.9 L1209.6,781.4 L1210.3,780.7 L1211.0,780.0 L1211.7,779.4 L1212.4,779.2 L1213.1,779.2 L1213.8,779.7 L1214.5,780.4 L1215.2,781.2 L1215.9,781.9 L1216.6,782.5 L1217.3,782.6 L1218.0,782.4 L1218.7,781.9 L1219.4,781.2 L1220.1,780.5 L1220.8,780.0 L1221.5,779.7 L1222.2,779.9 L1222.9,780.3 L1223.6,781.1 L1224.3,781.9 L1225.0,782.6 L1225.7,783.1 L1226.4,783.2 L1227.1,783.0 L1227.8,782.4 L1228.5,781.7 L1229.2,781.0 L1229.9,780.5 L1230.6,780.3 L1231.3,780.5 L1232.0,781.0 L1232.7,781.7 L1233.4,782.6 L1234.1,783.3 L1234.8,783.7 L1235.5,783.8 L1236.2,783.5 L1236.9,782.9 L1237.6,782.2 L1238.3,781.5 L1239.0,781.0 L1239.7,780.9 L1240.4,781.1 L1241.1,781.7 L1241.8,782.4 L1242.5,783.2 L1243.2,783.9 L1243.9,784.3 L1244.6,784.3 L1245.3,784.0 L1246.0,783.3 L1246.7,782.6 L1247.4,782.0 L1248.1,781.5 L1248.8,781.4 L1249.5,781.7 L1250.2,782.3 L1250.9,783.1 L1251.6,783.9 L1252.3,784.5 L1253.0,784.9 L1253.7,784.8 L1254.4,784.4 L1255.1,783.8 L1255.8,783.1 L1256.5,782.4 L1257.2,782.0 L1257.9,782.0 L1258.6,782.3 L1259.3,783.0 L1260.0,783.8 L1260.7,784.5 L1261.4,785.1 L1262.1,785.4 L1262.8,785.3 L1263.5,784.8 L1264.2,784.2 L1264.9,783.7 L1265.6,783.4 L1266.3,783.4 L1267.0,783.6 L1267.7,783.9 L1268.4,784.1" stroke="#9E480E"/>
<path d="M209.2,-30.0 L209.2,-13.9 L209.3,2.0 L209.3,17.8 L209.4,33.4 L209.4,48.9 L209.4,64.2 L209.5,79.2 L209.5,94.1 L209.6,108.7 L209.6,123.2 L209.6,137.3 L209.7,151.2 L209.7,164.8 L209.8,178.1 L209.8,191.2 L209.8,203.9 L209.9,216.3 L209.9,228.3 L210.0,240.0 L210.0,251.3 L210.0,262.2 L210.1,272.8 L210.1,282.9 L210.2,292.6 L210.2,301.9 L210.2,311.0 L210.3,320.1 L210.3,329.0 L210.4,337.9 L210.4,346.7 L210.5,355.3 L210.5,363.9 L210.5,372.4 L210.6,380.7 L210.6,388.9 L210.7,397.0 L210.7,404.9 L210.7,412.6 L210.8,420.2 L210.8,427.6 L210.9,434.9 L210.9,441.9 L210.9,448.8 L211.0,455.4 L211.0,461.9 L211.1,468.1 L211.1,474.1 L211.1,479.9 L211.2,485.4 L211.2,490.7 L211.3,495.7 L211.3,500.4 L211.3,504.9 L211.4,509.1 L211.4,513.0 L211.5,516.6 L211.5,519.9 L211.5,523.1 L211.6,526.1 L211.6,529.2 L211.7,532.2 L211.7,535.2 L211.7,538.1 L211.8,541.0 L211.8,543.9 L211.9,546.7 L211.9,549.5 L211.9,552.2 L212.0,554.9 L212.0,557.6 L212.1,560.2 L212.1,562.8 L212.1,565.4 L212.2,567.9 L212.2,570.4 L212.3,572.8 L212.3,575.2 L212.3,577.5 L212.4,579.9 L212.4,582.1 L212.5,584.4 L212.5,586.6 L212.5,588.7 L212.6,590.9 L212.6,592.9 L212.7,595.0 L212.7,597.0 L212.7,598.9 L212.8,600.9 L212.8,602.7 L212.9,604.6 L212.9,606.4 L213.0,608.1 L213.0,609.9 L213.0,611.5 L213.1,613.2 L213.1,614.8 L213.2,616.3 L213.2,617.9 L213.2,619.3 L213.3,620.8 L213.3,622.2 L213.4,623.5 L213.4,624.8 L213.4,626.1 L213.5,627.3 L213.5,628.5 L213.6,629.7 L213.6,630.8 L213.6,631.8 L213.7,632.8 L213.7,633.8 L213.8,634.8 L213.8,635.6 L213.8,636.5 L213.9,637.3 L213.9,638.1 L214.0,638.8 L214.0,639.5 L214.2,643.0 L214.9,650.9 L215.6,656.8 L216.3,661.2 L217.0,664.8 L217.7,668.0 L218.4,670.8 L219.1,673.0 L219.8,674.7 L220.5,675.9 L221.2,677.0 L221.9,677.9 L222.6,678.5 L223.3,678.7 L224.0,678.4 L224.7,677.7 L225.4,676.7 L226.1,675.5 L226.8,674.3 L227.5,672.9 L228.2,671.2 L228.9,669.3 L229.6,667.1 L230.3,664.8 L231.0,662.5 L231.7,660.3 L232.4,657.9 L233.1,655.4 L233.8,652.9 L234.5,650.2 L235.2,647.5 L235.9,644.8 L236.6,642.1 L237.3,639.3 L238.0,636.6 L238.7,633.8 L239.4,631.2 L240.1,628.6 L240.8,625.9 L241.5,623.3 L242.2,620.7 L242.9,618.1 L243.6,615.4 L244.3,612.8 L245.0,610.2 L245.7,607.5 L246.4,604.9 L247.1,602.3 L247.8,599.7 L248.5,597.0 L249.2,594.3 L249.9,591.6 L250.6,588.9 L251.3,586.2 L252.0,583.5 L252.7,580.9 L253.4,578.2 L254.1,575.6 L254.8,573.1 L255.5,570.6 L256.2,568.2 L256.9,565.7 L257.6,563.2 L258.3,560.7 L259.0,558.1 L259.7,555.6 L260.4,553.2 L261.1,550.8 L261.8,548.4 L262.5,546.1 L263.2,543.9 L263.9,541.9 L264.6,539.9 L265.3,538.1 L266.0,536.4 L266.7,534.9 L267.4,533.5 L268.1,532.1 L268.8,530.7 L269.5,529.4 L270.2,528.1 L270.9,526.9 L271.6,525.7 L272.3,524.5 L273.0,523.4 L273.7,522.4 L274.4,521.5 L275.1,520.6 L275.8,519.8 L276.5,519.1 L277.2,518.4 L277.9,517.9 L278.6,517.5 L279.3,517.1 L280.0,516.7 L280.7,516.3 L281.4,515.9 L282.1,515.5 L282.8,515.2 L283.5,514.9 L284.2,514.6 L284.9,514.3 L285.6,514.0 L286.3,513.8 L287.0,513.6 L287.7,513.5 L288.4,513.4 L289.1,513.3 L289.8,513.3 L290.5,513.3 L291.2,513.4 L291.9,513.6 L292.6,513.7 L293.3,514.0 L294.0,514.2 L294.7,514.5 L295.4,514.8 L296.1,515.1 L296.8,515.4 L297.5,515.8 L298.2,516.1 L298.9,516.6 L299.6,517.0 L300.3,517.6 L301.0,518.1 L301.7,518.7 L302.4,519.3 L303.1,519.9 L303.8,520.5 L304.5,521.2 L305.2,521.8 L305.9,522.5 L306.6,523.3 L307.3,524.0 L308.0,524.8 L308.7,525.7 L309.4,526.5 L310.1,527.4 L310.8,528.3 L311.5,529.2 L312.2,530.1 L312.9,531.0 L313.6,531.9 L314.3,532.8 L315.0,533.7 L315.7,534.6 L316.4,535.5 L317.1,536.3 L317.8,537.2 L318.5,538.0 L319.2,538.9 L319.9,539.7 L320.6,540.6 L321.3,541.4 L322.0,542.3 L322.7,543.1 L323.4,544.0 L324.1,544.8 L324.8,545.7 L325.5,546.5 L326.2,547.3 L326.9,548.1 L327.6,548.9 L328.3,549.7 L329.0,550.5 L329.7,551.2 L330.4,552.0 L331.1,552.7 L331.8,553.5 L332.5,554.2 L333.2,555.0 L333.9,555.7 L334.6,556.4 L335.3,557.2 L336.0,557.9 L336.7,558.6 L337.4,559.3 L338.1,560.0 L338.8,560.7 L339.5,561.4 L340.2,562.2 L340.9,562.9 L341.6,563.6 L342.3,564.3 L343.0,565.1 L343.7,565.8 L344.4,566.5 L345.1,567.2 L345.8,567.9 L346.5,568.6 L347.2,569.3 L347.9,570.0 L348.6,570.7 L349.3,571.3 L350.0,572.0 L350.7,572.6 L351.4,573.2 L352.1,573.8 L352.8,574.4 L353.5,575.0 L354.2,575.6 L354.9,576.2 L355.6,576.7 L356.3,577.3 L357.0,577.9 L357.7,578.4 L358.4,578.9 L359.1,579.5 L359.8,580.0 L360.5,580.5 L361.2,581.0 L361.9,581.4 L362.6,581.9 L363.3,582.3 L364.0,582.8 L364.7,583.2 L365.4,583.6 L366.1,584.0 L366.8,584.3 L367.5,584.7 L368.2,585.1 L368.9,585.5 L369.6,585.9 L370.3,586.3 L371.0,586.6 L371.7,587.0 L372.4,587.4 L373.1,587.8 L373.8,588.2 L374.5,588.6 L375.2,589.0 L375.9,589.5 L376.6,589.9 L377.3,590.4 L378.0,590.9 L378.7,591.4 L379.4,591.9 L380.1,592.4 L380.8,592.9 L381.5,593.5 L382.2,594.1 L382.9,594.8 L383.6,595.4 L384.3,596.1 L385.0,596.8 L385.7,597.5 L386.4,598.1 L387.1,598.8 L387.8,599.4 L388.5,600.1 L389.2,600.7 L389.9,601.4 L390.6,602.0 L391.3,602.6 L392.0,603.3 L392.7,603.9 L393.4,604.5 L394.1,605.2 L394.8,605.8 L395.5,606.4 L396.2,607.0 L396.9,607.6 L397.6,608.2 L398.3,608.8 L399.0,609.4 L399.7,610.0 L400.4,610.6 L401.1,611.2 L401.8,611.8 L402.5,612.4 L403.2,613.0 L403.9,613.5 L404.6,614.1 L405.3,614.7 L406.0,615.3 L406.7,615.8 L407.4,616.4 L408.1,617.0 L408.8,617.5 L409.5,618.1 L410.2,618.7 L410.9,619.2 L411.6,619.8 L412.3,620.4 L413.0,620.9 L413.7,621.5 L414.4,622.1 L415.1,622.7 L415.8,623.2 L416.5,623.8 L417.2,624.4 L417.9,624.9 L418.6,625.5 L419.3,626.0 L420.0,626.6 L420.7,627.1 L421.4,627.7 L422.1,628.2 L422.8,628.7 L423.5,629.3 L424.2,629.8 L424.9,630.3 L425.6,630.8 L426.3,631.3 L427.0,631.8 L427.7,632.3 L428.4,632.8 L429.1,633.2 L429.8,633.7 L430.5,634.2 L431.2,634.6 L431.9,635.1 L432.6,635.5 L433.3,636.0 L434.0,636.4 L434.7,636.9 L435.4,637.3 L436.1,637.8 L436.8,638.2 L437.5,638.6 L438.2,639.1 L438.9,639.5 L439.6,639.9 L440.3,640.3 L441.0,640.7 L441.7,641.2 L442.4,641.6 L443.1,642.0 L443.8,642.4 L444.5,642.8 L445.2,643.2 L445.9,643.6 L446.6,644.0 L447.3,644.4 L448.0,644.8 L448.7,645.2 L449.4,645.6 L450.1,646.0 L450.8,646.4 L451.5,646.7 L452.2,647.1 L452.9,647.5 L453.6,647.9 L454.3,648.2 L455.0,648.6 L455.7,649.0 L456.4,649.3 L457.1,649.7 L457.8,650.1 L458.5,650.4 L459.2,650.8 L459.9,651.2 L460.6,651.5 L461.3,651.9 L462.0,652.2 L462.7,652.6 L463.4,652.9 L464.1,653.3 L464.8,653.6 L465.5,653.9 L466.2,654.3 L466.9,654.6 L467.6,655.0 L468.3,655.3 L469.0,655.6 L469.7,656.0 L470.4,656.3 L471.1,656.6 L471.8,656.9 L472.5,657.3 L473.2,657.6 L473.9,657.9 L474.6,658.2 L475.3,658.5 L476.0,658.9 L476.7,659.2 L477.4,659.5 L478.1,659.8 L478.8,660.1 L479.5,660.4 L480.2,660.7 L480.9,661.0 L481.6,661.3 L482.3,661.6 L483.0,661.9 L483.7,662.2 L484.4,662.5 L485.1,662.8 L485.8,663.1 L486.5,663.4 L487.2,663.7 L487.9,664.0 L488.6,664.3 L489.3,664.6 L490.0,664.9 L490.7,665.2 L491.4,665.5 L492.1,665.7 L492.8,666.0 L493.5,666.3 L494.2,666.6 L494.9,666.9 L495.6,667.1 L496.3,667.4 L497.0,667.7 L497.7,668.0 L498.4,668.3 L499.1,668.5 L499.8,668.8 L500.5,669.1 L501.2,669.3 L501.9,669.6 L502.6,669.9 L503.3,670.1 L504.0,670.4 L504.7,670.7 L505.4,670.9 L506.1,671.2 L506.8,671.5 L507.5,671.7 L508.2,672.0 L508.9,672.3 L509.6,672.5 L510.3,672.8 L511.0,673.0 L511.7,673.3 L512.4,673.6 L513.1,673.8 L513.8,674.1 L514.5,674.3 L515.2,674.6 L515.9,674.9 L516.6,675.1 L517.3,675.4 L518.0,675.6 L518.7,675.9 L519.4,676.1 L520.1,676.4 L520.8,676.6 L521.5,676.9 L522.2,677.1 L522.9,677.4 L523.6,677.6 L524.3,677.9 L525.0,678.1 L525.7,678.4 L526.4,678.6 L527.1,678.9 L527.8,679.1 L528.5,679.3 L529.2,679.6 L529.9,679.8 L530.6,680.1 L531.3,680.3 L532.0,680.6 L532.7,680.8 L533.4,681.0 L534.1,681.3 L534.8,681.5 L535.5,681.8 L536.2,682.0 L536.9,682.2 L537.6,682.5 L538.3,682.7 L539.0,682.9 L539.7,683.2 L540.4,683.4 L541.1,683.6 L541.8,683.9 L542.5,684.1 L543.2,684.3 L543.9,684.6 L544.6,684.8 L545.3,685.0 L546.0,685.3 L546.7,685.5 L547.4,685.7 L548.1,685.9 L548.8,686.2 L549.5,686.4 L550.2,686.6 L550.9,686.9 L551.6,687.1 L552.3,687.3 L553.0,687.5 L553.7,687.7 L554.4,688.0 L555.1,688.2 L555.8,688.4 L556.5,688.6 L557.2,688.9 L557.9,689.1 L558.6,689.3 L559.3,689.5 L560.0,689.7 L560.7,690.0 L561.4,690.2 L562.1,690.4 L562.8,690.6 L563.5,690.8 L564.2,691.0 L564.9,691.3 L565.6,691.5 L566.3,691.7 L567.0,691.9 L567.7,692.1 L568.4,692.3 L569.1,692.5 L569.8,692.8 L570.5,693.0 L571.2,693.2 L571.9,693.4 L572.6,693.6 L573.3,693.8 L574.0,694.0 L574.7,694.2 L575.4,694.4 L576.1,694.6 L576.8,694.8 L577.5,695.1 L578.2,695.3 L578.9,695.5 L579.6,695.7 L580.3,695.9 L581.0,696.1 L581.7,696.3 L582.4,696.5 L583.1,696.7 L583.8,696.9 L584.5,697.1 L585.2,697.3 L585.9,697.5 L586.6,697.7 L587.3,697.9 L588.0,698.1 L588.7,698.3 L589.4,698.5 L590.1,698.7 L590.8,698.9 L591.5,699.1 L592.2,699.3 L592.9,699.5 L593.6,699.7 L594.3,699.9 L595.0,700.1 L595.7,700.3 L596.4,700.5 L597.1,700.7 L597.8,700.9 L598.5,701.1 L599.2,701.3 L599.9,701.5 L600.6,701.7 L601.3,701.9 L602.0,702.1 L602.7,702.3 L603.4,702.5 L604.1,702.7 L604.8,702.9 L605.5,703.1 L606.2,703.2 L606.9,703.4 L607.6,703.6 L608.3,703.8 L609.0,704.0 L609.7,704.2 L610.4,704.4 L611.1,704.6 L611.8,704.8 L612.5,705.0 L613.2,705.2 L613.9,705.4 L614.6,705.5 L615.3,705.7 L616.0,705.9 L616.7,706.1 L617.4,706.3 L618.1,706.5 L618.8,706.7 L619.5,706.9 L620.2,707.1 L620.9,707.2 L621.6,707.4 L622.3,707.6 L623.0,707.8 L623.7,708.0 L624.4,708.2 L625.1,708.3 L625.8,708.5 L626.5,708.7 L627.2,708.9 L627.9,709.1 L628.6,709.3 L629.3,709.4 L630.0,709.6 L630.7,709.8 L631.4,710.0 L632.1,710.2 L632.8,710.4 L633.5,710.5 L634.2,710.7 L634.9,710.9 L635.6,711.1 L636.3,711.2 L637.0,711.4 L637.7,711.6 L638.4,711.8 L639.1,712.0 L639.8,712.1 L640.5,712.4 L641.2,712.7 L641.9,713.0 L642.6,713.1 L643.3,713.1 L644.0,712.9 L644.7,712.6 L645.4,712.5 L646.1,712.6 L646.8,713.0 L647.5,713.7 L648.2,714.4 L648.9,715.1 L649.6,715.7 L650.3,715.9 L651.0,715.9 L651.7,715.7 L652.4,715.3 L653.1,714.9 L653.8,714.6 L654.5,714.6 L655.2,714.8 L655.9,715.3 L656.6,716.0 L657.3,716.7 L658.0,717.4 L658.7,717.9 L659.4,718.1 L660.1,718.0 L660.8,717.8 L661.5,717.4 L662.2,717.0 L662.9,716.7 L663.6,716.7 L664.3,716.9 L665.0,717.5 L665.7,718.2 L666.4,718.9 L667.1,719.6 L667.8,720.0 L668.5,720.2 L669.2,720.1 L669.9,719.8 L670.6,719.4 L671.3,719.0 L672.0,718.7 L672.7,718.7 L673.4,719.0 L674.1,719.6 L674.8,720.3 L675.5,721.0 L676.2,721.6 L676.9,722.0 L677.6,722.2 L678.3,722.0 L679.0,721.7 L679.7,721.3 L680.4,720.9 L681.1,720.7 L681.8,720.7 L682.5,721.1 L683.2,721.6 L683.9,722.3 L684.6,723.1 L685.3,723.6 L686.0,724.0 L686.7,724.1 L687.4,723.9 L688.1,723.6 L688.8,723.1 L689.5,722.8 L690.2,722.6 L690.9,722.7 L691.6,723.0 L692.3,723.6 L693.0,724.3 L693.7,725.0 L694.4,725.6 L695.1,725.9 L695.8,726.0 L696.5,725.8 L697.2,725.4 L697.9,724.9 L698.6,724.6 L699.3,724.4 L700.0,724.6 L700.7,725.0 L701.4,725.6 L702.1,726.3 L702.8,727.0 L703.5,727.5 L704.2,727.8 L704.9,727.8 L705.6,727.5 L706.3,727.1 L707.0,726.7 L707.7,726.4 L708.4,726.3 L709.1,726.4 L709.8,726.8 L710.5,727.5 L711.2,728.2 L711.9,728.9 L712.6,729.4 L713.3,729.6 L714.0,729.6 L714.7,729.3 L715.4,728.8 L716.1,728.4 L716.8,728.1 L717.5,728.0 L718.2,728.2 L718.9,728.7 L719.6,729.3 L720.3,730.0 L721.0,730.7 L721.7,731.1 L722.4,731.3 L723.1,731.3 L723.8,730.9 L724.5,730.5 L725.2,730.1 L725.9,729.8 L726.6,729.7 L727.3,730.0 L728.0,730.5 L728.7,731.1 L729.4,731.8 L730.1,732.4 L730.8,732.9 L731.5,733.0 L732.2,732.9 L732.9,732.5 L733.6,732.1 L734.3,731.7 L735.0,731.4 L735.7,731.4 L736.4,731.7 L737.1,732.2 L737.8,732.9 L738.5,733.6 L739.2,734.2 L739.9,734.5 L740.6,734.6 L741.3,734.5 L742.0,734.1 L742.7,733.6 L743.4,733.2 L744.1,733.0 L744.8,733.0 L745.5,733.3 L746.2,733.9 L746.9,734.5 L747.6,735.2 L748.3,735.8 L749.0,736.1 L749.7,736.2 L750.4,736.0 L751.1,735.6 L751.8,735.1 L752.5,734.7 L753.2,734.5 L753.9,734.6 L754.6,734.9 L755.3,735.5 L756.0,736.2 L756.7,736.8 L757.4,737.4 L758.1,737.7 L758.8,737.7 L759.5,737.4 L760.2,737.0 L760.9,736.5 L761.6,736.2 L762.3,736.0 L763.0,736.1 L763.7,736.4 L764.4,737.0 L765.1,737.7 L765.8,738.4 L766.5,738.9 L767.2,739.1 L767.9,739.1 L768.6,738.8 L769.3,738.4 L770.0,737.9 L770.7,737.5 L771.4,737.4 L772.1,737.5 L772.8,737.9 L773.5,738.5 L774.2,739.2 L774.9,739.8 L775.6,740.3 L776.3,740.5 L777.0,740.4 L777.7,740.1 L778.4,739.6 L779.1,739.2 L779.8,738.8 L780.5,738.7 L781.2,738.9 L781.9,739.3 L782.6,739.9 L783.3,740.6 L784.0,741.2 L784.7,741.6 L785.4,741.8 L786.1,741.7 L786.8,741.3 L787.5,740.8 L788.2,740.4 L788.9,740.1 L789.6,740.0 L790.3,740.2 L791.0,740.6 L791.7,741.3 L792.4,741.9 L793.1,742.5 L793.8,742.9 L794.5,743.0 L795.2,742.8 L795.9,742.5 L796.6,742.0 L797.3,741.5 L798.0,741.2 L798.7,741.2 L799.4,741.4 L800.1,741.9 L800.8,742.5 L801.5,743.2 L802.2,743.8 L802.9,744.1 L803.6,744.2 L804.3,744.0 L805.0,743.6 L805.7,743.1 L806.4,742.6 L807.1,742.4 L807.8,742.4 L808.5,742.6 L809.2,743.1 L809.9,743.8 L810.6,744.4 L811.3,745.0 L812.0,745.3 L812.7,745.3 L813.4,745.1 L814.1,744.6 L814.8,744.1 L815.5,743.7 L816.2,743.5 L816.9,743.5 L817.6,743.8 L818.3,744.3 L819.0,745.0 L819.7,745.6 L820.4,746.1 L821.1,746.4 L821.8,746.4 L822.5,746.1 L823.2,745.7 L823.9,745.2 L824.6,744.8 L825.3,744.6 L826.0,744.6 L826.7,745.0 L827.4,745.5 L828.1,746.2 L828.8,746.8 L829.5,747.3 L830.2,747.5 L830.9,747.5 L831.6,747.2 L832.3,746.7 L833.0,746.2 L833.7,745.8 L834.4,745.7 L835.1,745.8 L835.8,746.1 L836.5,746.7 L837.2,747.4 L837.9,748.0 L838.6,748.4 L839.3,748.6 L840.0,748.5 L840.7,748.2 L841.4,747.7 L842.1,747.3 L842.8,746.9 L843.5,746.8 L844.2,746.9 L844.9,747.3 L845.6,747.9 L846.3,748.6 L847.0,749.2 L847.7,749.6 L848.4,749.7 L849.1,749.6 L849.8,749.3 L850.5,748.8 L851.2,748.3 L851.9,748.0 L852.6,747.9 L853.3,748.1 L854.0,748.5 L854.7,749.1 L855.4,749.8 L856.1,750.4 L856.8,750.8 L857.5,750.9 L858.2,750.7 L858.9,750.3 L859.6,749.8 L860.3,749.4 L861.0,749.1 L861.7,749.0 L862.4,749.2 L863.1,749.7 L863.8,750.3 L864.5,751.0 L865.2,751.6 L865.9,751.9 L866.6,752.0 L867.3,751.8 L868.0,751.4 L868.7,750.9 L869.4,750.4 L870.1,750.2 L870.8,750.1 L871.5,750.4 L872.2,750.9 L872.9,751.5 L873.6,752.2 L874.3,752.7 L875.0,753.0 L875.7,753.1 L876.4,752.8 L877.1,752.4 L877.8,751.9 L878.5,751.5 L879.2,751.2 L879.9,751.3 L880.6,751.6 L881.3,752.1 L882.0,752.7 L882.7,753.4 L883.4,753.9 L884.1,754.2 L884.8,754.1 L885.5,753.9 L886.2,753.4 L886.9,752.9 L887.6,752.5 L888.3,752.3 L889.0,752.4 L889.7,752.7 L890.4,753.3 L891.1,753.9 L891.8,754.6 L892.5,755.0 L893.2,755.3 L893.9,755.2 L894.6,754.9 L895.3,754.4 L896.0,754.0 L896.7,753.6 L897.4,753.4 L898.1,753.5 L898.8,753.9 L899.5,754.5 L900.2,755.1 L900.9,755.7 L901.6,756.2 L902.3,756.4 L903.0,756.3 L903.7,755.9 L904.4,755.4 L905.1,755.0 L905.8,754.6 L906.5,754.5 L907.2,754.6 L907.9,755.0 L908.6,755.6 L909.3,756.3 L910.0,756.9 L910.7,757.3 L911.4,757.4 L912.1,757.3 L912.8,756.9 L913.5,756.4 L914.2,756.0 L914.9,755.6 L915.6,755.5 L916.3,755.7 L917.0,756.1 L917.7,756.7 L918.4,757.4 L919.1,758.0 L919.8,758.3 L920.5,758.4 L921.2,758.3 L921.9,757.9 L922.6,757.4 L923.3,756.9 L924.0,756.6 L924.7,756.6 L925.4,756.8 L926.1,757.2 L926.8,757.9 L927.5,758.5 L928.2,759.1 L928.9,759.4 L929.6,759.5 L930.3,759.2 L931.0,758.8 L931.7,758.3 L932.4,757.9 L933.1,757.6 L933.8,757.6 L934.5,757.8 L935.2,758.3 L935.9,759.0 L936.6,759.6 L937.3,760.1 L938.0,760.4 L938.7,760.4 L939.4,760.2 L940.1,759.7 L940.8,759.2 L941.5,758.8 L942.2,758.5 L942.9,758.6 L943.6,758.9 L944.3,759.4 L945.0,760.0 L945.7,760.6 L946.4,761.1 L947.1,761.4 L947.8,761.4 L948.5,761.1 L949.2,760.6 L949.9,760.1 L950.6,759.7 L951.3,759.5 L952.0,759.5 L952.7,759.9 L953.4,760.4 L954.1,761.0 L954.8,761.7 L955.5,762.1 L956.2,762.3 L956.9,762.3 L957.6,761.9 L958.3,761.5 L959.0,761.0 L959.7,760.6 L960.4,760.4 L961.1,760.5 L961.8,760.8 L962.5,761.4 L963.2,762.0 L963.9,762.6 L964.6,763.1 L965.3,763.2 L966.0,763.1 L966.7,762.8 L967.4,762.3 L968.1,761.8 L968.8,761.4 L969.5,761.3 L970.2,761.4 L970.9,761.8 L971.6,762.4 L972.3,763.0 L973.0,763.6 L973.7,764.0 L974.4,764.1 L975.1,764.0 L975.8,763.6 L976.5,763.1 L977.2,762.6 L977.9,762.2 L978.6,762.1 L979.3,762.3 L980.0,762.7 L980.7,763.3 L981.4,764.0 L982.1,764.5 L982.8,764.9 L983.5,765.0 L984.2,764.8 L984.9,764.4 L985.6,763.9 L986.3,763.4 L987.0,763.1 L987.7,763.0 L988.4,763.2 L989.1,763.6 L989.8,764.3 L990.5,764.9 L991.2,765.4 L991.9,765.8 L992.6,765.8 L993.3,765.6 L994.0,765.1 L994.7,764.6 L995.4,764.2 L996.1,763.9 L996.8,763.8 L997.5,764.1 L998.2,764.6 L998.9,765.2 L999.6,765.8 L1000.3,766.3 L1001.0,766.6 L1001.7,766.6 L1002.4,766.3 L1003.1,765.9 L1003.8,765.4 L1004.5,764.9 L1005.2,764.7 L1005.9,764.7 L1006.6,765.0 L1007.3,765.5 L1008.0,766.1 L1008.7,766.7 L1009.4,767.2 L1010.1,767.4 L1010.8,767.4 L1011.5,767.1 L1012.2,766.6 L1012.9,766.1 L1013.6,765.7 L1014.3,765.5 L1015.0,765.5 L1015.7,765.8 L1016.4,766.4 L1017.1,767.0 L1017.8,767.6 L1018.5,768.0 L1019.2,768.2 L1019.9,768.2 L1020.6,767.8 L1021.3,767.4 L1022.0,766.8 L1022.7,766.4 L1023.4,766.2 L1024.1,766.3 L1024.8,766.7 L1025.5,767.2 L1026.2,767.9 L1026.9,768.5 L1027.6,768.9 L1028.3,769.0 L1029.0,768.9 L1029.7,768.6 L1030.4,768.1 L1031.1,767.6 L1031.8,767.2 L1032.5,767.0 L1033.2,767.1 L1033.9,767.5 L1034.6,768.1 L1035.3,768.7 L1036.0,769.3 L1036.7,769.7 L1037.4,769.8 L1038.1,769.7 L1038.8,769.3 L1039.5,768.8 L1040.2,768.3 L1040.9,767.9 L1041.6,767.8 L1042.3,767.9 L1043.0,768.4 L1043.7,768.9 L1044.4,769.6 L1045.1,770.1 L1045.8,770.5 L1046.5,770.6 L1047.2,770.4 L1047.9,770.0 L1048.6,769.4 L1049.3,769.0 L1050.0,768.6 L1050.7,768.5 L1051.4,768.7 L1052.1,769.2 L1052.8,769.8 L1053.5,770.4 L1054.2,771.0 L1054.9,771.3 L1055.6,771.3 L1056.3,771.1 L1057.0,770.6 L1057.7,770.1 L1058.4,769.6 L1059.1,769.3 L1059.8,769.3 L1060.5,769.5 L1061.2,770.0 L1061.9,770.6 L1062.6,771.2 L1063.3,771.7 L1064.0,772.0 L1064.7,772.0 L1065.4,771.8 L1066.1,771.3 L1066.8,770.8 L1067.5,770.3 L1068.2,770.0 L1068.9,770.0 L1069.6,770.3 L1070.3,770.8 L1071.0,771.4 L1071.7,772.1 L1072.4,772.5 L1073.1,772.8 L1073.8,772.7 L1074.5,772.4 L1075.2,771.9 L1075.9,771.4 L1076.6,771.0 L1077.3,770.8 L1078.0,770.8 L1078.7,771.1 L1079.4,771.6 L1080.1,772.3 L1080.8,772.9 L1081.5,773.3 L1082.2,773.5 L1082.9,773.4 L1083.6,773.1 L1084.3,772.6 L1085.0,772.1 L1085.7,771.7 L1086.4,771.5 L1087.1,771.5 L1087.8,771.9 L1088.5,772.4 L1089.2,773.1 L1089.9,773.6 L1090.6,774.1 L1091.3,774.2 L1092.0,774.1 L1092.7,773.7 L1093.4,773.2 L1094.1,772.7 L1094.8,772.3 L1095.5,772.1 L1096.2,772.3 L1096.9,772.6 L1097.6,773.2 L1098.3,773.8 L1099.0,774.4 L1099.7,774.8 L1100.4,774.9 L1101.1,774.7 L1101.8,774.3 L1102.5,773.8 L1103.2,773.3 L1103.9,773.0 L1104.6,772.8 L1105.3,773.0 L1106.0,773.4 L1106.7,774.0 L1107.4,774.6 L1108.1,775.2 L1108.8,775.5 L1109.5,775.6 L1110.2,775.4 L1110.9,775.0 L1111.6,774.4 L1112.3,774.0 L1113.0,773.6 L1113.7,773.5 L1114.4,773.7 L1115.1,774.2 L1115.8,774.8 L1116.5,775.4 L1117.2,775.9 L1117.9,776.2 L1118.6,776.3 L1119.3,776.0 L1120.0,775.6 L1120.7,775.1 L1121.4,774.6 L1122.1,774.3 L1122.8,774.2 L1123.5,774.5 L1124.2,774.9 L1124.9,775.5 L1125.6,776.2 L1126.3,776.7 L1127.0,776.9 L1127.7,776.9 L1128.4,776.6 L1129.1,776.2 L1129.8,775.7 L1130.5,775.2 L1131.2,774.9 L1131.9,774.9 L1132.6,775.2 L1133.3,775.7 L1134.0,776.3 L1134.7,776.9 L1135.4,777.4 L1136.1,777.6 L1136.8,777.6 L1137.5,777.2 L1138.2,776.8 L1138.9,776.2 L1139.6,775.8 L1140.3,775.6 L1141.0,775.6 L1141.7,775.9 L1142.4,776.4 L1143.1,777.0 L1143.8,777.6 L1144.5,778.1 L1145.2,778.3 L1145.9,778.2 L1146.6,777.8 L1147.3,777.4 L1148.0,776.8 L1148.7,776.4 L1149.4,776.2 L1150.1,776.3 L1150.8,776.6 L1151.5,777.2 L1152.2,777.8 L1152.9,778.4 L1153.6,778.8 L1154.3,778.9 L1155.0,778.8 L1155.7,778.4 L1156.4,777.9 L1157.1,777.4 L1157.8,777.0 L1158.5,776.8 L1159.2,777.0 L1159.9,777.3 L1160.6,777.9 L1161.3,778.5 L1162.0,779.1 L1162.7,779.5 L1163.4,779.6 L1164.1,779.4 L1164.8,779.0 L1165.5,778.5 L1166.2,778.0 L1166.9,777.6 L1167.6,777.5 L1168.3,777.6 L1169.0,778.0 L1169.7,778.6 L1170.4,779.2 L1171.1,779.8 L1171.8,780.1 L1172.5,780.2 L1173.2,780.0 L1173.9,779.6 L1174.6,779.0 L1175.3,778.5 L1176.0,778.2 L1176.7,778.1 L1177.4,778.3 L1178.1,778.7 L1178.8,779.3 L1179.5,780.0 L1180.2,780.5 L1180.9,780.8 L1181.6,780.8 L1182.3,780.6 L1183.0,780.1 L1183.7,779.6 L1184.4,779.1 L1185.1,778.8 L1185.8,778.7 L1186.5,779.0 L1187.2,779.4 L1187.9,780.0 L1188.6,780.7 L1189.3,781.2 L1190.0,781.4 L1190.7,781.4 L1191.4,781.1 L1192.1,780.7 L1192.8,780.1 L1193.5,779.7 L1194.2,779.4 L1194.9,779.4 L1195.6,779.6 L1196.3,780.1 L1197.0,780.7 L1197.7,781.3 L1198.4,781.8 L1199.1,782.0 L1199.8,782.0 L1200.5,781.7 L1201.2,781.2 L1201.9,780.7 L1202.6,780.2 L1203.3,780.0 L1204.0,780.0 L1204.7,780.3 L1205.4,780.8 L1206.1,781.4 L1206.8,782.0 L1207.5,782.5 L1208.2,782.6 L1208.9,782.6 L1209.6,782.2 L1210.3,781.7 L1211.0,781.2 L1211.7,780.8 L1212.4,780.6 L1213.1,780.6 L1213.8,781.0 L1214.5,781.5 L1215.2,782.1 L1215.9,782.7 L1216.6,783.1 L1217.3,783.2 L1218.0,783.1 L1218.7,782.7 L1219.4,782.2 L1220.1,781.7 L1220.8,781.3 L1221.5,781.1 L1222.2,781.2 L1222.9,781.6 L1223.6,782.2 L1224.3,782.8 L1225.0,783.3 L1225.7,783.7 L1226.4,783.8 L1227.1,783.6 L1227.8,783.2 L1228.5,782.7 L1229.2,782.2 L1229.9,781.8 L1230.6,781.7 L1231.3,781.8 L1232.0,782.2 L1232.7,782.8 L1233.4,783.4 L1234.1,784.0 L1234.8,784.3 L1235.5,784.4 L1236.2,784.2 L1236.9,783.7 L1237.6,783.2 L1238.3,782.7 L1239.0,782.4 L1239.7,782.3 L1240.4,782.5 L1241.1,782.9 L1241.8,783.5 L1242.5,784.1 L1243.2,784.6 L1243.9,784.9 L1244.6,784.9 L1245.3,784.7 L1246.0,784.2 L1246.7,783.7 L1247.4,783.2 L1248.1,782.9 L1248.8,782.8 L1249.5,783.1 L1250.2,783.5 L1250.9,784.1 L1251.6,784.7 L1252.3,785.2 L1253.0,785.5 L1253.7,785.5 L1254.4,785.2 L1255.1,784.7 L1255.8,784.2 L1256.5,783.7 L1257.2,783.4 L1257.9,783.4 L1258.6,783.6 L1259.3,784.1 L1260.0,784.7 L1260.7,785.3 L1261.4,785.8 L1262.1,786.0 L1262.8,786.0 L1263.5,785.6 L1264.2,785.1 L1264.9,784.7 L1265.6,784.6 L1266.3,784.6 L1267.0,784.7 L1267.7,785.0 L1268.4,785.2" stroke="#636363"/>
<path d="M209.2,-30.0 L209.3,-14.4 L209.3,1.1 L209.4,16.5 L209.4,31.7 L209.4,46.7 L209.5,61.5 L209.5,76.2 L209.6,90.6 L209.6,104.8 L209.6,118.7 L209.7,132.4 L209.7,145.9 L209.8,159.0 L209.8,171.8 L209.8,184.4 L209.9,196.6 L209.9,208.5 L210.0,220.0 L210.0,231.1 L210.0,241.9 L210.1,252.2 L210.1,262.2 L210.2,271.7 L210.2,280.8 L210.2,289.4 L210.3,297.6 L210.3,305.4 L210.4,313.1 L210.4,320.6 L210.4,328.1 L210.5,335.5 L210.5,342.7 L210.6,349.9 L210.6,356.9 L210.6,363.8 L210.7,370.6 L210.7,377.2 L210.8,383.7 L210.8,390.1 L210.8,396.3 L210.9,402.4 L210.9,408.3 L211.0,414.0 L211.0,419.6 L211.0,425.0 L211.1,430.2 L211.1,435.3 L211.2,440.2 L211.2,444.9 L211.2,449.3 L211.3,453.6 L211.3,457.7 L211.4,461.6 L211.4,465.3 L211.4,468.7 L211.5,472.0 L211.5,475.0 L211.6,477.8 L211.6,480.3 L211.6,482.7 L211.7,485.1 L211.7,487.5 L211.8,489.8 L211.8,492.1 L211.8,494.3 L211.9,496.5 L211.9,498.7 L212.0,500.8 L212.0,502.9 L212.0,505.0 L212.1,507.0 L212.1,509.0 L212.2,510.9 L212.2,512.9 L212.2,514.7 L212.3,516.6 L212.3,518.4 L212.4,520.2 L212.4,521.9 L212.4,523.7 L212.5,525.3 L212.5,527.0 L212.6,528.6 L212.6,530.2 L212.6,531.8 L212.7,533.3 L212.7,534.8 L212.8,536.2 L212.8,537.7 L212.8,539.1 L212.9,540.4 L212.9,541.8 L213.0,543.1 L213.0,544.4 L213.0,545.6 L213.1,546.9 L213.1,548.1 L213.2,549.2 L213.2,550.4 L213.2,551.5 L213.3,552.6 L213.3,553.7 L213.4,554.7 L213.4,555.7 L213.4,556.7 L213.5,557.7 L213.5,558.6 L213.6,559.5 L213.6,560.4 L213.6,561.3 L213.7,562.1 L213.7,562.9 L213.8,563.7 L213.8,564.5 L213.8,565.2 L213.9,566.0 L213.9,566.7 L214.0,567.3 L214.0,568.0 L214.2,571.9 L214.9,581.2 L215.6,588.2 L216.3,593.2 L217.0,596.9 L217.7,600.2 L218.4,602.6 L219.1,603.6 L219.8,603.0 L220.5,601.4 L221.2,599.3 L221.9,597.1 L222.6,595.3 L223.3,593.5 L224.0,591.4 L224.7,588.9 L225.4,585.5 L226.1,579.0 L226.8,569.4 L227.5,558.3 L228.2,547.9 L228.9,540.5 L229.6,536.3 L230.3,533.0 L231.0,529.7 L231.7,525.7 L232.4,521.3 L233.1,517.2 L233.8,514.4 L234.5,512.5 L235.2,510.9 L235.9,508.7 L236.6,505.6 L237.3,502.2 L238.0,499.5 L238.7,497.8 L239.4,496.7 L240.1,495.3 L240.8,492.9 L241.5,489.6 L242.2,486.3 L242.9,483.8 L243.6,482.1 L244.3,480.5 L245.0,478.0 L245.7,474.5 L246.4,470.5 L247.1,467.0 L247.8,464.4 L248.5,462.6 L249.2,460.7 L249.9,457.9 L250.6,454.3 L251.3,450.9 L252.0,448.3 L252.7,447.0 L253.4,446.2 L254.1,445.1 L254.8,443.2 L255.5,441.0 L256.2,439.1 L256.9,438.2 L257.6,438.2 L258.3,438.1 L259.0,437.2 L259.7,435.5 L260.4,433.6 L261.1,432.6 L261.8,432.6 L262.5,433.3 L263.2,433.6 L263.9,433.0 L264.6,432.0 L265.3,431.3 L266.0,431.6 L266.7,432.9 L267.4,434.4 L268.1,435.2 L268.8,435.1 L269.5,434.7 L270.2,434.9 L270.9,436.2 L271.6,438.0 L272.3,439.5 L273.0,440.2 L273.7,440.3 L274.4,440.6 L275.1,441.8 L275.8,444.1 L276.5,446.6 L277.2,448.5 L277.9,449.3 L278.6,449.7 L279.3,450.6 L280.0,452.4 L280.7,454.8 L281.4,456.9 L282.1,457.9 L282.8,458.1 L283.5,458.1 L284.2,459.0 L284.9,460.7 L285.6,462.8 L286.3,464.3 L287.0,464.8 L287.7,464.7 L288.4,464.9 L289.1,466.1 L289.8,468.0 L290.5,470.0 L291.2,471.0 L291.9,471.2 L292.6,471.2 L293.3,471.8 L294.0,473.5 L294.7,475.7 L295.4,477.5 L296.1,478.2 L296.8,478.2 L297.5,478.5 L298.2,479.7 L298.9,481.8 L299.6,483.9 L300.3,485.3 L301.0,485.7 L301.7,485.7 L302.4,486.3 L303.1,488.0 L303.8,490.2 L304.5,492.1 L305.2,493.0 L305.9,493.1 L306.6,493.2 L307.3,494.3 L308.0,496.3 L308.7,498.5 L309.4,500.0 L310.1,500.5 L310.8,500.5 L311.5,501.0 L312.2,502.5 L312.9,504.7 L313.6,506.7 L314.3,507.7 L315.0,507.9 L315.7,508.0 L316.4,508.8 L317.1,510.7 L317.8,512.9 L318.5,514.5 L319.2,515.1 L319.9,515.1 L320.6,515.4 L321.3,516.7 L322.0,518.8 L322.7,520.8 L323.4,522.0 L324.1,522.2 L324.8,522.3 L325.5,523.1 L326.2,524.7 L326.9,526.3 L327.6,527.5 L328.3,528.2 L329.0,528.9 L329.7,529.8 L330.4,530.8 L331.1,531.7 L331.8,532.6 L332.5,533.4 L333.2,534.3 L333.9,535.1 L334.6,536.0 L335.3,536.8 L336.0,537.6 L336.7,538.3 L337.4,539.1 L338.1,539.9 L338.8,540.7 L339.5,541.5 L340.2,542.3 L340.9,543.1 L341.6,543.9 L342.3,544.8 L343.0,545.6 L343.7,546.5 L344.4,547.3 L345.1,548.2 L345.8,549.1 L346.5,550.0 L347.2,551.0 L347.9,551.9 L348.6,552.9 L349.3,553.9 L350.0,554.9 L350.7,555.9 L351.4,556.8 L352.1,557.8 L352.8,558.8 L353.5,559.8 L354.2,560.9 L354.9,561.9 L355.6,562.9 L356.3,563.9 L357.0,564.9 L357.7,565.9 L358.4,566.8 L359.1,567.8 L359.8,568.7 L360.5,569.6 L361.2,570.5 L361.9,571.4 L362.6,572.3 L363.3,573.2 L364.0,574.1 L364.7,574.9 L365.4,575.8 L366.1,576.6 L366.8,577.4 L367.5,578.2 L368.2,579.0 L368.9,579.8 L369.6,580.6 L370.3,581.4 L371.0,582.2 L371.7,582.9 L372.4,583.7 L373.1,584.5 L373.8,585.2 L374.5,586.0 L375.2,586.8 L375.9,587.5 L376.6,588.2 L377.3,589.0 L378.0,589.7 L378.7,590.5 L379.4,591.2 L380.1,591.9 L380.8,592.6 L381.5,593.3 L382.2,594.0 L382.9,594.7 L383.6,595.4 L384.3,596.1 L385.0,596.8 L385.7,597.4 L386.4,598.1 L387.1,598.8 L387.8,599.4 L388.5,600.1 L389.2,600.7 L389.9,601.4 L390.6,602.0 L391.3,602.7 L392.0,603.3 L392.7,603.9 L393.4,604.5 L394.1,605.2 L394.8,605.8 L395.5,606.4 L396.2,607.0 L396.9,607.6 L397.6,608.2 L398.3,608.8 L399.0,609.4 L399.7,610.0 L400.4,610.6 L401.1,611.2 L401.8,611.8 L402.5,612.4 L403.2,613.0 L403.9,613.5 L404.6,614.1 L405.3,614.7 L406.0,615.3 L406.7,615.8 L407.4,616.4 L408.1,617.0 L408.8,617.6 L409.5,618.1 L410.2,618.7 L410.9,619.3 L411.6,619.8 L412.3,620.4 L413.0,621.0 L413.7,621.5 L414.4,622.1 L415.1,622.7 L415.8,623.2 L416.5,623.8 L417.2,624.4 L417.9,624.9 L418.6,625.5 L419.3,626.0 L420.0,626.6 L420.7,627.1 L421.4,627.7 L422.1,628.2 L422.8,628.8 L423.5,629.3 L424.2,629.8 L424.9,630.3 L425.6,630.8 L426.3,631.3 L427.0,631.8 L427.7,632.3 L428.4,632.8 L429.1,633.3 L429.8,633.7 L430.5,634.2 L431.2,634.7 L431.9,635.1 L432.6,635.6 L433.3,636.0 L434.0,636.5 L434.7,636.9 L435.4,637.3 L436.1,637.8 L436.8,638.2 L437.5,638.6 L438.2,639.1 L438.9,639.5 L439.6,639.9 L440.3,640.4 L441.0,640.8 L441.7,641.2 L442.4,641.6 L443.1,642.0 L443.8,642.4 L444.5,642.8 L445.2,643.2 L445.9,643.6 L446.6,644.0 L447.3,644.4 L448.0,644.8 L448.7,645.2 L449.4,645.6 L450.1,646.0 L450.8,646.4 L451.5,646.8 L452.2,647.1 L452.9,647.5 L453.6,647.9 L454.3,648.3 L455.0,648.6 L455.7,649.0 L456.4,649.4 L457.1,649.8 L457.8,650.1 L458.5,650.5 L459.2,650.8 L459.9,651.2 L460.6,651.5 L461.3,651.9 L462.0,652.3 L462.7,652.6 L463.4,652.9 L464.1,653.3 L464.8,653.6 L465.5,654.0 L466.2,654.3 L466.9,654.7 L467.6,655.0 L468.3,655.3 L469.0,655.7 L469.7,656.0 L470.4,656.3 L471.1,656.7 L471.8,657.0 L472.5,657.3 L473.2,657.6 L473.9,658.0 L474.6,658.3 L475.3,658.6 L476.0,658.9 L476.7,659.2 L477.4,659.5 L478.1,659.8 L478.8,660.2 L479.5,660.5 L480.2,660.8 L480.9,661.1 L481.6,661.4 L482.3,661.7 L483.0,662.0 L483.7,662.3 L484.4,662.6 L485.1,662.9 L485.8,663.2 L486.5,663.5 L487.2,663.8 L487.9,664.1 L488.6,664.4 L489.3,664.6 L490.0,664.9 L490.7,665.2 L491.4,665.5 L492.1,665.8 L492.8,666.1 L493.5,666.4 L494.2,666.6 L494.9,666.9 L495.6,667.2 L496.3,667.5 L497.0,667.8 L497.7,668.0 L498.4,668.3 L499.1,668.6 L499.8,668.9 L500.5,669.1 L501.2,669.4 L501.9,669.7 L502.6,669.9 L503.3,670.2 L504.0,670.5 L504.7,670.8 L505.4,671.0 L506.1,671.3 L506.8,671.5 L507.5,671.8 L508.2,672.1 L508.9,672.3 L509.6,672.6 L510.3,672.9 L511.0,673.1 L511.7,673.4 L512.4,673.6 L513.1,673.9 L513.8,674.2 L514.5,674.4 L515.2,674.7 L515.9,674.9 L516.6,675.2 L517.3,675.4 L518.0,675.7 L518.7,675.9 L519.4,676.2 L520.1,676.5 L520.8,676.7 L521.5,677.0 L522.2,677.2 L522.9,677.5 L523.6,677.7 L524.3,678.0 L525.0,678.2 L525.7,678.4 L526.4,678.7 L527.1,678.9 L527.8,679.2 L528.5,679.4 L529.2,679.7 L529.9,679.9 L530.6,680.2 L531.3,680.4 L532.0,680.6 L532.7,680.9 L533.4,681.1 L534.1,681.4 L534.8,681.6 L535.5,681.8 L536.2,682.1 L536.9,682.3 L537.6,682.6 L538.3,682.8 L539.0,683.0 L539.7,683.3 L540.4,683.5 L541.1,683.7 L541.8,684.0 L542.5,684.2 L543.2,684.4 L543.9,684.7 L544.6,684.9 L545.3,685.1 L546.0,685.4 L546.7,685.6 L547.4,685.8 L548.1,686.0 L548.8,686.3 L549.5,686.5 L550.2,686.7 L550.9,687.0 L551.6,687.2 L552.3,687.4 L553.0,687.6 L553.7,687.9 L554.4,688.1 L555.1,688.3 L555.8,688.5 L556.5,688.8 L557.2,689.0 L557.9,689.2 L558.6,689.4 L559.3,689.6 L560.0,689.9 L560.7,690.1 L561.4,690.3 L562.1,690.5 L562.8,690.7 L563.5,690.9 L564.2,691.2 L564.9,691.4 L565.6,691.6 L566.3,691.8 L567.0,692.0 L567.7,692.2 L568.4,692.5 L569.1,692.7 L569.8,692.9 L570.5,693.1 L571.2,693.3 L571.9,693.5 L572.6,693.7 L573.3,693.9 L574.0,694.1 L574.7,694.4 L575.4,694.6 L576.1,694.8 L576.8,695.0 L577.5,695.2 L578.2,695.4 L578.9,695.6 L579.6,695.8 L580.3,696.0 L581.0,696.2 L581.7,696.4 L582.4,696.6 L583.1,696.8 L583.8,697.0 L584.5,697.2 L585.2,697.4 L585.9,697.6 L586.6,697.8 L587.3,698.0 L588.0,698.2 L588.7,698.5 L589.4,698.7 L590.1,698.9 L590.8,699.1 L591.5,699.3 L592.2,699.5 L592.9,699.7 L593.6,699.9 L594.3,700.1 L595.0,700.3 L595.7,700.5 L596.4,700.7 L597.1,700.9 L597.8,701.1 L598.5,701.3 L599.2,701.4 L599.9,701.6 L600.6,701.8 L601.3,702.0 L602.0,702.2 L602.7,702.4 L603.4,702.6 L604.1,702.8 L604.8,703.0 L605.5,703.2 L606.2,703.4 L606.9,703.6 L607.6,703.8 L608.3,704.0 L609.0,704.2 L609.7,704.4 L610.4,704.6 L611.1,704.8 L611.8,705.0 L612.5,705.1 L613.2,705.3 L613.9,705.5 L614.6,705.7 L615.3,705.9 L616.0,706.1 L616.7,706.3 L617.4,706.5 L618.1,706.7 L618.8,706.9 L619.5,707.0 L620.2,707.2 L620.9,707.4 L621.6,707.6 L622.3,707.8 L623.0,708.0 L623.7,708.2 L624.4,708.3 L625.1,708.5 L625.8,708.7 L626.5,708.9 L627.2,709.1 L627.9,709.3 L628.6,709.5 L629.3,709.6 L630.0,709.8 L630.7,710.0 L631.4,710.2 L632.1,710.4 L632.8,710.5 L633.5,710.7 L634.2,710.9 L634.9,711.1 L635.6,711.3 L636.3,711.4 L637.0,711.6 L637.7,711.8 L638.4,712.0 L639.1,712.2 L639.8,712.3 L640.5,712.6 L641.2,712.9 L641.9,713.2 L642.6,713.3 L643.3,713.3 L644.0,713.1 L644.7,712.8 L645.4,712.7 L646.1,712.8 L646.8,713.2 L647.5,713.9 L648.2,714.6 L648.9,715.3 L649.6,715.9 L650.3,716.1 L651.0,716.1 L651.7,715.9 L652.4,715.5 L653.1,715.1 L653.8,714.8 L654.5,714.8 L655.2,715.0 L655.9,715.5 L656.6,716.2 L657.3,716.9 L658.0,717.6 L658.7,718.1 L659.4,718.3 L660.1,718.3 L660.8,718.0 L661.5,717.6 L662.2,717.2 L662.9,716.9 L663.6,716.9 L664.3,717.2 L665.0,717.7 L665.7,718.4 L666.4,719.1 L667.1,719.8 L667.8,720.2 L668.5,720.4 L669.2,720.3 L669.9,720.0 L670.6,719.6 L671.3,719.2 L672.0,719.0 L672.7,719.0 L673.4,719.3 L674.1,719.8 L674.8,720.5 L675.5,721.3 L676.2,721.9 L676.9,722.3 L677.6,722.4 L678.3,722.3 L679.0,721.9 L679.7,721.5 L680.4,721.1 L681.1,720.9 L681.8,721.0 L682.5,721.3 L683.2,721.9 L683.9,722.6 L684.6,723.3 L685.3,723.9 L686.0,724.3 L686.7,724.4 L687.4,724.2 L688.1,723.8 L688.8,723.4 L689.5,723.0 L690.2,722.8 L690.9,722.9 L691.6,723.3 L692.3,723.9 L693.0,724.6 L693.7,725.3 L694.4,725.9 L695.1,726.2 L695.8,726.2 L696.5,726.0 L697.2,725.6 L697.9,725.2 L698.6,724.9 L699.3,724.7 L700.0,724.8 L700.7,725.2 L701.4,725.8 L702.1,726.6 L702.8,727.2 L703.5,727.8 L704.2,728.1 L704.9,728.1 L705.6,727.8 L706.3,727.4 L707.0,727.0 L707.7,726.6 L708.4,726.5 L709.1,726.7 L709.8,727.1 L710.5,727.8 L711.2,728.5 L711.9,729.1 L712.6,729.6 L713.3,729.9 L714.0,729.8 L714.7,729.6 L715.4,729.1 L716.1,728.7 L716.8,728.4 L717.5,728.3 L718.2,728.5 L718.9,729.0 L719.6,729.6 L720.3,730.3 L721.0,731.0 L721.7,731.4 L722.4,731.6 L723.1,731.5 L723.8,731.2 L724.5,730.8 L725.2,730.4 L725.9,730.1 L726.6,730.0 L727.3,730.3 L728.0,730.8 L728.7,731.4 L729.4,732.1 L730.1,732.8 L730.8,733.2 L731.5,733.3 L732.2,733.2 L732.9,732.9 L733.6,732.4 L734.3,732.0 L735.0,731.7 L735.7,731.7 L736.4,732.0 L737.1,732.5 L737.8,733.2 L738.5,733.9 L739.2,734.5 L739.9,734.8 L740.6,734.9 L741.3,734.8 L742.0,734.4 L742.7,734.0 L743.4,733.6 L744.1,733.3 L744.8,733.3 L745.5,733.6 L746.2,734.2 L746.9,734.9 L747.6,735.5 L748.3,736.1 L749.0,736.5 L749.7,736.5 L750.4,736.3 L751.1,735.9 L751.8,735.5 L752.5,735.1 L753.2,734.8 L753.9,734.9 L754.6,735.2 L755.3,735.8 L756.0,736.5 L756.7,737.2 L757.4,737.7 L758.1,738.0 L758.8,738.0 L759.5,737.8 L760.2,737.3 L760.9,736.9 L761.6,736.5 L762.3,736.3 L763.0,736.4 L763.7,736.8 L764.4,737.4 L765.1,738.1 L765.8,738.7 L766.5,739.2 L767.2,739.5 L767.9,739.4 L768.6,739.1 L769.3,738.7 L770.0,738.2 L770.7,737.9 L771.4,737.7 L772.1,737.9 L772.8,738.3 L773.5,738.9 L774.2,739.5 L774.9,740.2 L775.6,740.6 L776.3,740.8 L777.0,740.8 L777.7,740.5 L778.4,740.0 L779.1,739.5 L779.8,739.2 L780.5,739.1 L781.2,739.2 L781.9,739.7 L782.6,740.3 L783.3,741.0 L784.0,741.6 L784.7,742.0 L785.4,742.2 L786.1,742.0 L786.8,741.7 L787.5,741.2 L788.2,740.8 L788.9,740.4 L789.6,740.4 L790.3,740.6 L791.0,741.0 L791.7,741.6 L792.4,742.3 L793.1,742.9 L793.8,743.3 L794.5,743.4 L795.2,743.2 L795.9,742.9 L796.6,742.4 L797.3,741.9 L798.0,741.6 L798.7,741.6 L799.4,741.8 L800.1,742.3 L800.8,742.9 L801.5,743.6 L802.2,744.1 L802.9,744.5 L803.6,744.6 L804.3,744.4 L805.0,744.0 L805.7,743.5 L806.4,743.0 L807.1,742.8 L807.8,742.7 L808.5,743.0 L809.2,743.5 L809.9,744.2 L810.6,744.8 L811.3,745.4 L812.0,745.7 L812.7,745.7 L813.4,745.5 L814.1,745.0 L814.8,744.5 L815.5,744.1 L816.2,743.9 L816.9,743.9 L817.6,744.2 L818.3,744.7 L819.0,745.4 L819.7,746.0 L820.4,746.5 L821.1,746.8 L821.8,746.8 L822.5,746.5 L823.2,746.1 L823.9,745.6 L824.6,745.2 L825.3,745.0 L826.0,745.0 L826.7,745.4 L827.4,745.9 L828.1,746.6 L828.8,747.2 L829.5,747.7 L830.2,747.9 L830.9,747.9 L831.6,747.6 L832.3,747.1 L833.0,746.6 L833.7,746.2 L834.4,746.1 L835.1,746.2 L835.8,746.6 L836.5,747.1 L837.2,747.8 L837.9,748.4 L838.6,748.9 L839.3,749.1 L840.0,749.0 L840.7,748.6 L841.4,748.2 L842.1,747.7 L842.8,747.3 L843.5,747.2 L844.2,747.3 L844.9,747.8 L845.6,748.4 L846.3,749.0 L847.0,749.6 L847.7,750.0 L848.4,750.2 L849.1,750.1 L849.8,749.7 L850.5,749.2 L851.2,748.8 L851.9,748.4 L852.6,748.3 L853.3,748.5 L854.0,749.0 L854.7,749.6 L855.4,750.3 L856.1,750.8 L856.8,751.2 L857.5,751.3 L858.2,751.1 L858.9,750.8 L859.6,750.3 L860.3,749.8 L861.0,749.5 L861.7,749.5 L862.4,749.7 L863.1,750.2 L863.8,750.8 L864.5,751.5 L865.2,752.0 L865.9,752.4 L866.6,752.4 L867.3,752.2 L868.0,751.8 L868.7,751.3 L869.4,750.9 L870.1,750.6 L870.8,750.6 L871.5,750.9 L872.2,751.4 L872.9,752.0 L873.6,752.7 L874.3,753.2 L875.0,753.5 L875.7,753.5 L876.4,753.3 L877.1,752.9 L877.8,752.4 L878.5,752.0 L879.2,751.7 L879.9,751.7 L880.6,752.0 L881.3,752.6 L882.0,753.2 L882.7,753.9 L883.4,754.4 L884.1,754.6 L884.8,754.6 L885.5,754.4 L886.2,753.9 L886.9,753.4 L887.6,753.0 L888.3,752.8 L889.0,752.9 L889.7,753.2 L890.4,753.8 L891.1,754.4 L891.8,755.1 L892.5,755.5 L893.2,755.8 L893.9,755.7 L894.6,755.3 L895.3,754.9 L896.0,754.6 L896.7,754.5 L897.4,754.6 L898.1,754.8 L898.8,755.1 L899.5,755.3 L900.2,755.4 L900.9,755.7 L901.6,756.2 L902.3,756.6 L903.0,756.8 L903.7,756.6 L904.4,756.0 L905.1,755.1 L905.8,754.2 L906.5,753.8 L907.2,754.0 L907.9,754.7 L908.6,755.8 L909.3,757.1 L910.0,758.2 L910.7,758.9 L911.4,759.1 L912.1,758.8 L912.8,758.0 L913.5,756.9 L914.2,755.9 L914.9,755.1 L915.6,754.8 L916.3,755.1 L917.0,755.9 L917.7,757.1 L918.4,758.3 L919.1,759.4 L919.8,760.0 L920.5,760.1 L921.2,759.7 L921.9,758.9 L922.6,757.8 L923.3,756.8 L924.0,756.1 L924.7,755.9 L925.4,756.2 L926.1,757.1 L926.8,758.3 L927.5,759.5 L928.2,760.5 L928.9,761.1 L929.6,761.1 L930.3,760.6 L931.0,759.7 L931.7,758.7 L932.4,757.7 L933.1,757.0 L933.8,756.9 L934.5,757.3 L935.2,758.3 L935.9,759.5 L936.6,760.7 L937.3,761.6 L938.0,762.1 L938.7,762.1 L939.4,761.5 L940.1,760.6 L940.8,759.5 L941.5,758.5 L942.2,758.0 L942.9,757.9 L943.6,758.4 L944.3,759.4 L945.0,760.6 L945.7,761.8 L946.4,762.7 L947.1,763.1 L947.8,763.0 L948.5,762.4 L949.2,761.4 L949.9,760.3 L950.6,759.4 L951.3,758.9 L952.0,758.9 L952.7,759.5 L953.4,760.5 L954.1,761.7 L954.8,762.9 L955.5,763.7 L956.2,764.1 L956.9,763.9 L957.6,763.2 L958.3,762.2 L959.0,761.1 L959.7,760.2 L960.4,759.8 L961.1,759.9 L961.8,760.5 L962.5,761.6 L963.2,762.8 L963.9,764.0 L964.6,764.7 L965.3,765.0 L966.0,764.7 L966.7,764.0 L967.4,762.9 L968.1,761.8 L968.8,761.0 L969.5,760.7 L970.2,760.8 L970.9,761.6 L971.6,762.7 L972.3,763.9 L973.0,765.0 L973.7,765.7 L974.4,765.9 L975.1,765.5 L975.8,764.7 L976.5,763.6 L977.2,762.6 L977.9,761.8 L978.6,761.5 L979.3,761.8 L980.0,762.6 L980.7,763.7 L981.4,764.9 L982.1,766.0 L982.8,766.6 L983.5,766.7 L984.2,766.3 L984.9,765.4 L985.6,764.3 L986.3,763.3 L987.0,762.6 L987.7,762.4 L988.4,762.7 L989.1,763.6 L989.8,764.7 L990.5,766.0 L991.2,767.0 L991.9,767.5 L992.6,767.6 L993.3,767.0 L994.0,766.1 L994.7,765.0 L995.4,764.0 L996.1,763.4 L996.8,763.3 L997.5,763.7 L998.2,764.6 L998.9,765.8 L999.6,767.0 L1000.3,767.9 L1001.0,768.4 L1001.7,768.4 L1002.4,767.8 L1003.1,766.8 L1003.8,765.7 L1004.5,764.8 L1005.2,764.2 L1005.9,764.1 L1006.6,764.6 L1007.3,765.6 L1008.0,766.8 L1008.7,767.9 L1009.4,768.8 L1010.1,769.3 L1010.8,769.1 L1011.5,768.5 L1012.2,767.5 L1012.9,766.4 L1013.6,765.5 L1014.3,764.9 L1015.0,765.0 L1015.7,765.5 L1016.4,766.5 L1017.1,767.8 L1017.8,768.9 L1018.5,769.7 L1019.2,770.1 L1019.9,769.9 L1020.6,769.2 L1021.3,768.1 L1022.0,767.0 L1022.7,766.2 L1023.4,765.7 L1024.1,765.8 L1024.8,766.5 L1025.5,767.5 L1026.2,768.7 L1026.9,769.9 L1027.6,770.6 L1028.3,770.9 L1029.0,770.6 L1029.7,769.8 L1030.4,768.8 L1031.1,767.7 L1031.8,766.9 L1032.5,766.5 L1033.2,766.7 L1033.9,767.4 L1034.6,768.5 L1035.3,769.7 L1036.0,770.8 L1036.7,771.5 L1037.4,771.7 L1038.1,771.3 L1038.8,770.5 L1039.5,769.4 L1040.2,768.3 L1040.9,767.6 L1041.6,767.3 L1042.3,767.5 L1043.0,768.3 L1043.7,769.4 L1044.4,770.6 L1045.1,771.7 L1045.8,772.3 L1046.5,772.4 L1047.2,772.0 L1047.9,771.1 L1048.6,770.0 L1049.3,769.0 L1050.0,768.3 L1050.7,768.0 L1051.4,768.4 L1052.1,769.2 L1052.8,770.4 L1053.5,771.6 L1054.2,772.6 L1054.9,773.1 L1055.6,773.1 L1056.3,772.6 L1057.0,771.7 L1057.7,770.6 L1058.4,769.6 L1059.1,768.9 L1059.8,768.8 L1060.5,769.2 L1061.2,770.1 L1061.9,771.3 L1062.6,772.5 L1063.3,773.4 L1064.0,773.9 L1064.7,773.9 L1065.4,773.3 L1066.1,772.3 L1066.8,771.2 L1067.5,770.2 L1068.2,769.6 L1068.9,769.6 L1069.6,770.1 L1070.3,771.0 L1071.0,772.2 L1071.7,773.4 L1072.4,774.3 L1073.1,774.7 L1073.8,774.5 L1074.5,773.9 L1075.2,772.9 L1075.9,771.8 L1076.6,770.8 L1077.3,770.3 L1078.0,770.3 L1078.7,770.9 L1079.4,771.9 L1080.1,773.1 L1080.8,774.3 L1081.5,775.1 L1082.2,775.4 L1082.9,775.2 L1083.6,774.5 L1084.3,773.4 L1085.0,772.3 L1085.7,771.5 L1086.4,771.0 L1087.1,771.1 L1087.8,771.7 L1088.5,772.8 L1089.2,774.0 L1089.9,775.1 L1090.6,775.9 L1091.3,776.1 L1092.0,775.8 L1092.7,775.1 L1093.4,774.0 L1094.1,772.9 L1094.8,772.1 L1095.5,771.7 L1096.2,771.9 L1096.9,772.6 L1097.6,773.7 L1098.3,774.9 L1099.0,776.0 L1099.7,776.7 L1100.4,776.8 L1101.1,776.5 L1101.8,775.6 L1102.5,774.6 L1103.2,773.5 L1103.9,772.7 L1104.6,772.4 L1105.3,772.7 L1106.0,773.4 L1106.7,774.5 L1107.4,775.8 L1108.1,776.8 L1108.8,777.4 L1109.5,777.5 L1110.2,777.1 L1110.9,776.2 L1111.6,775.1 L1112.3,774.1 L1113.0,773.3 L1113.7,773.1 L1114.4,773.4 L1115.1,774.3 L1115.8,775.4 L1116.5,776.6 L1117.2,777.6 L1117.9,778.2 L1118.6,778.2 L1119.3,777.7 L1120.0,776.7 L1120.7,775.6 L1121.4,774.6 L1122.1,774.0 L1122.8,773.8 L1123.5,774.2 L1124.2,775.1 L1124.9,776.3 L1125.6,777.5 L1126.3,778.4 L1127.0,778.9 L1127.7,778.8 L1128.4,778.2 L1129.1,777.3 L1129.8,776.2 L1130.5,775.2 L1131.2,774.6 L1131.9,774.5 L1132.6,775.0 L1133.3,775.9 L1134.0,777.1 L1134.7,778.3 L1135.4,779.2 L1136.1,779.6 L1136.8,779.5 L1137.5,778.8 L1138.2,777.8 L1138.9,776.7 L1139.6,775.7 L1140.3,775.2 L1141.0,775.2 L1141.7,775.8 L1142.4,776.8 L1143.1,778.0 L1143.8,779.1 L1144.5,780.0 L1145.2,780.3 L1145.9,780.1 L1146.6,779.3 L1147.3,778.3 L1148.0,777.2 L1148.7,776.3 L1149.4,775.9 L1150.1,775.9 L1150.8,776.6 L1151.5,777.6 L1152.2,778.8 L1152.9,779.9 L1153.6,780.7 L1154.3,781.0 L1155.0,780.6 L1155.7,779.9 L1156.4,778.8 L1157.1,777.7 L1157.8,776.9 L1158.5,776.5 L1159.2,776.7 L1159.9,777.4 L1160.6,778.4 L1161.3,779.7 L1162.0,780.7 L1162.7,781.4 L1163.4,781.6 L1164.1,781.2 L1164.8,780.4 L1165.5,779.3 L1166.2,778.2 L1166.9,777.4 L1167.6,777.1 L1168.3,777.4 L1169.0,778.2 L1169.7,779.3 L1170.4,780.5 L1171.1,781.5 L1171.8,782.1 L1172.5,782.2 L1173.2,781.8 L1173.9,780.9 L1174.6,779.8 L1175.3,778.7 L1176.0,778.0 L1176.7,777.8 L1177.4,778.1 L1178.1,778.9 L1178.8,780.1 L1179.5,781.3 L1180.2,782.3 L1180.9,782.8 L1181.6,782.8 L1182.3,782.3 L1183.0,781.4 L1183.7,780.3 L1184.4,779.2 L1185.1,778.6 L1185.8,778.4 L1186.5,778.8 L1187.2,779.7 L1187.9,780.9 L1188.6,782.1 L1189.3,783.0 L1190.0,783.5 L1190.7,783.4 L1191.4,782.8 L1192.1,781.8 L1192.8,780.7 L1193.5,779.7 L1194.2,779.1 L1194.9,779.1 L1195.6,779.6 L1196.3,780.5 L1197.0,781.7 L1197.7,782.8 L1198.4,783.7 L1199.1,784.1 L1199.8,784.0 L1200.5,783.3 L1201.2,782.3 L1201.9,781.2 L1202.6,780.3 L1203.3,779.7 L1204.0,779.7 L1204.7,780.3 L1205.4,781.3 L1206.1,782.5 L1206.8,783.6 L1207.5,784.4 L1208.2,784.8 L1208.9,784.5 L1209.6,783.8 L1210.3,782.8 L1211.0,781.6 L1211.7,780.8 L1212.4,780.3 L1213.1,780.4 L1213.8,781.0 L1214.5,782.0 L1215.2,783.2 L1215.9,784.4 L1216.6,785.1 L1217.3,785.4 L1218.0,785.0 L1218.7,784.3 L1219.4,783.2 L1220.1,782.1 L1220.8,781.3 L1221.5,780.9 L1222.2,781.0 L1222.9,781.7 L1223.6,782.8 L1224.3,784.0 L1225.0,785.1 L1225.7,785.8 L1226.4,785.9 L1227.1,785.6 L1227.8,784.7 L1228.5,783.6 L1229.2,782.5 L1229.9,781.8 L1230.6,781.4 L1231.3,781.7 L1232.0,782.5 L1232.7,783.6 L1233.4,784.8 L1234.1,785.8 L1234.8,786.4 L1235.5,786.5 L1236.2,786.0 L1236.9,785.1 L1237.6,784.0 L1238.3,783.0 L1239.0,782.3 L1239.7,782.0 L1240.4,782.4 L1241.1,783.2 L1241.8,784.3 L1242.5,785.5 L1243.2,786.5 L1243.9,787.0 L1244.6,787.0 L1245.3,786.5 L1246.0,785.6 L1246.7,784.5 L1247.4,783.4 L1248.1,782.8 L1248.8,782.6 L1249.5,783.0 L1250.2,783.9 L1250.9,785.0 L1251.6,786.2 L1252.3,787.2 L1253.0,787.6 L1253.7,787.6 L1254.4,787.0 L1255.1,786.0 L1255.8,784.9 L1256.5,783.9 L1257.2,783.3 L1257.9,783.2 L1258.6,783.7 L1259.3,784.6 L1260.0,785.8 L1260.7,786.9 L1261.4,787.8 L1262.1,788.2 L1262.8,788.1 L1263.5,787.2 L1264.2,786.3 L1264.9,785.5 L1265.6,785.1 L1266.3,785.1 L1267.0,785.4 L1267.7,785.8 L1268.4,786.1" stroke="#997300"/>
<path d="M209.3,-30.0 L209.3,-17.4 L209.4,-4.9 L209.4,7.4 L209.5,19.7 L209.5,31.8 L209.5,43.8 L209.6,55.7 L209.6,67.4 L209.7,78.9 L209.7,90.3 L209.7,101.4 L209.8,112.4 L209.8,123.1 L209.9,133.6 L209.9,143.9 L209.9,153.9 L210.0,163.7 L210.0,173.2 L210.1,182.4 L210.1,191.3 L210.1,200.0 L210.2,208.3 L210.2,216.2 L210.2,223.9 L210.3,231.2 L210.3,238.1 L210.4,244.7 L210.4,250.9 L210.4,256.9 L210.5,262.8 L210.5,268.7 L210.6,274.5 L210.6,280.1 L210.6,285.7 L210.7,291.2 L210.7,296.6 L210.8,302.0 L210.8,307.2 L210.8,312.3 L210.9,317.3 L210.9,322.3 L211.0,327.1 L211.0,331.8 L211.0,336.4 L211.1,340.8 L211.1,345.2 L211.2,349.5 L211.2,353.6 L211.2,357.6 L211.3,361.5 L211.3,365.2 L211.4,368.8 L211.4,372.3 L211.4,375.7 L211.5,378.9 L211.5,382.0 L211.6,384.9 L211.6,387.7 L211.6,390.4 L211.7,392.9 L211.7,395.2 L211.7,397.4 L211.8,399.4 L211.8,401.3 L211.9,403.2 L211.9,405.1 L211.9,406.9 L212.0,408.7 L212.0,410.4 L212.1,412.2 L212.1,413.9 L212.1,415.5 L212.2,417.2 L212.2,418.8 L212.3,420.4 L212.3,422.0 L212.3,423.5 L212.4,425.0 L212.4,426.5 L212.5,428.0 L212.5,429.4 L212.5,430.8 L212.6,432.2 L212.6,433.5 L212.7,434.9 L212.7,436.2 L212.7,437.4 L212.8,438.7 L212.8,439.9 L212.9,441.1 L212.9,442.3 L212.9,443.4 L213.0,444.5 L213.0,445.6 L213.1,446.7 L213.1,447.7 L213.1,448.7 L213.2,449.7 L213.2,450.7 L213.2,451.6 L213.3,452.6 L213.3,453.4 L213.4,454.3 L213.4,455.2 L213.4,456.0 L213.5,456.8 L213.5,457.5 L213.6,458.3 L213.6,459.0 L213.6,459.7 L213.7,460.4 L213.7,461.1 L213.8,461.7 L213.8,462.3 L213.8,462.9 L213.9,463.4 L213.9,464.0 L214.0,464.5 L214.0,465.0 L214.2,468.0 L214.9,475.7 L215.6,481.7 L216.3,485.3 L217.0,485.8 L217.7,482.9 L218.4,478.1 L219.1,472.6 L219.8,467.5 L220.5,462.0 L221.2,456.0 L221.9,449.9 L222.6,443.9 L223.3,438.2 L224.0,432.7 L224.7,427.1 L225.4,421.5 L226.1,416.0 L226.8,410.5 L227.5,405.0 L228.2,399.8 L228.9,394.6 L229.6,389.7 L230.3,385.1 L231.0,380.6 L231.7,376.5 L232.4,372.7 L233.1,368.8 L233.8,365.1 L234.5,361.5 L235.2,358.0 L235.9,354.7 L236.6,351.7 L237.3,348.9 L238.0,346.5 L238.7,344.4 L239.4,342.7 L240.1,341.1 L240.8,339.7 L241.5,338.3 L242.2,337.2 L242.9,336.1 L243.6,335.3 L244.3,334.6 L245.0,333.9 L245.7,333.6 L246.4,333.9 L247.1,334.5 L247.8,335.1 L248.5,335.8 L249.2,336.6 L249.9,337.5 L250.6,338.5 L251.3,339.5 L252.0,340.6 L252.7,341.7 L253.4,343.0 L254.1,344.3 L254.8,345.7 L255.5,347.2 L256.2,348.7 L256.9,350.3 L257.6,351.9 L258.3,353.5 L259.0,355.1 L259.7,356.8 L260.4,358.5 L261.1,360.4 L261.8,362.2 L262.5,364.1 L263.2,366.1 L263.9,368.0 L264.6,370.0 L265.3,371.9 L266.0,373.9 L266.7,375.8 L267.4,377.8 L268.1,379.7 L268.8,381.7 L269.5,383.7 L270.2,385.7 L270.9,387.7 L271.6,389.7 L272.3,391.7 L273.0,393.7 L273.7,395.8 L274.4,397.8 L275.1,399.8 L275.8,401.9 L276.5,403.9 L277.2,405.9 L277.9,408.0 L278.6,410.0 L279.3,412.0 L280.0,414.0 L280.7,416.0 L281.4,417.9 L282.1,419.9 L282.8,421.8 L283.5,423.8 L284.2,425.7 L284.9,427.6 L285.6,429.4 L286.3,431.2 L287.0,433.1 L287.7,434.9 L288.4,436.7 L289.1,438.6 L289.8,440.4 L290.5,442.3 L291.2,444.3 L291.9,446.2 L292.6,448.2 L293.3,450.1 L294.0,452.1 L294.7,454.0 L295.4,456.0 L296.1,457.8 L296.8,459.7 L297.5,461.6 L298.2,463.4 L298.9,465.3 L299.6,467.1 L300.3,468.9 L301.0,470.6 L301.7,472.3 L302.4,474.0 L303.1,475.7 L303.8,477.3 L304.5,478.9 L305.2,480.5 L305.9,482.0 L306.6,483.6 L307.3,485.1 L308.0,486.6 L308.7,488.1 L309.4,489.6 L310.1,491.1 L310.8,492.6 L311.5,494.0 L312.2,495.5 L312.9,496.9 L313.6,498.3 L314.3,499.6 L315.0,501.0 L315.7,502.3 L316.4,503.7 L317.1,505.0 L317.8,506.3 L318.5,507.5 L319.2,508.8 L319.9,510.1 L320.6,511.3 L321.3,512.5 L322.0,513.8 L322.7,515.0 L323.4,516.1 L324.1,517.3 L324.8,518.5 L325.5,519.7 L326.2,520.9 L326.9,522.0 L327.6,523.2 L328.3,524.4 L329.0,525.6 L329.7,526.7 L330.4,527.9 L331.1,529.0 L331.8,530.1 L332.5,531.3 L333.2,532.4 L333.9,533.5 L334.6,534.6 L335.3,535.7 L336.0,536.7 L336.7,537.8 L337.4,538.8 L338.1,539.9 L338.8,540.9 L339.5,541.9 L340.2,542.9 L340.9,543.9 L341.6,544.9 L342.3,545.8 L343.0,546.8 L343.7,547.8 L344.4,548.7 L345.1,549.7 L345.8,550.6 L346.5,551.6 L347.2,552.5 L347.9,553.5 L348.6,554.5 L349.3,555.4 L350.0,556.4 L350.7,557.4 L351.4,558.4 L352.1,559.4 L352.8,560.4 L353.5,561.4 L354.2,562.5 L354.9,563.5 L355.6,564.5 L356.3,565.4 L357.0,566.4 L357.7,567.4 L358.4,568.3 L359.1,569.3 L359.8,570.2 L360.5,571.1 L361.2,572.1 L361.9,573.0 L362.6,573.8 L363.3,574.7 L364.0,575.5 L364.7,576.3 L365.4,577.2 L366.1,578.0 L366.8,578.8 L367.5,579.6 L368.2,580.4 L368.9,581.2 L369.6,582.0 L370.3,582.7 L371.0,583.5 L371.7,584.3 L372.4,585.1 L373.1,585.8 L373.8,586.6 L374.5,587.3 L375.2,588.1 L375.9,588.8 L376.6,589.6 L377.3,590.3 L378.0,591.0 L378.7,591.8 L379.4,592.5 L380.1,593.2 L380.8,593.9 L381.5,594.6 L382.2,595.3 L382.9,596.0 L383.6,596.7 L384.3,597.4 L385.0,598.0 L385.7,598.7 L386.4,599.4 L387.1,600.0 L387.8,600.7 L388.5,601.3 L389.2,602.0 L389.9,602.6 L390.6,603.2 L391.3,603.9 L392.0,604.5 L392.7,605.1 L393.4,605.7 L394.1,606.4 L394.8,607.0 L395.5,607.6 L396.2,608.2 L396.9,608.8 L397.6,609.4 L398.3,610.0 L399.0,610.6 L399.7,611.2 L400.4,611.8 L401.1,612.4 L401.8,613.0 L402.5,613.5 L403.2,614.1 L403.9,614.7 L404.6,615.3 L405.3,615.9 L406.0,616.4 L406.7,617.0 L407.4,617.6 L408.1,618.1 L408.8,618.7 L409.5,619.3 L410.2,619.8 L410.9,620.4 L411.6,621.0 L412.3,621.5 L413.0,622.1 L413.7,622.7 L414.4,623.3 L415.1,623.8 L415.8,624.4 L416.5,624.9 L417.2,625.5 L417.9,626.1 L418.6,626.6 L419.3,627.2 L420.0,627.7 L420.7,628.3 L421.4,628.8 L422.1,629.3 L422.8,629.9 L423.5,630.4 L424.2,630.9 L424.9,631.4 L425.6,631.9 L426.3,632.4 L427.0,632.9 L427.7,633.4 L428.4,633.9 L429.1,634.3 L429.8,634.8 L430.5,635.3 L431.2,635.7 L431.9,636.2 L432.6,636.6 L433.3,637.1 L434.0,637.5 L434.7,637.9 L435.4,638.4 L436.1,638.8 L436.8,639.3 L437.5,639.7 L438.2,640.1 L438.9,640.5 L439.6,641.0 L440.3,641.4 L441.0,641.8 L441.7,642.2 L442.4,642.6 L443.1,643.0 L443.8,643.4 L444.5,643.8 L445.2,644.2 L445.9,644.6 L446.6,645.0 L447.3,645.4 L448.0,645.8 L448.7,646.2 L449.4,646.6 L450.1,647.0 L450.8,647.4 L451.5,647.8 L452.2,648.1 L452.9,648.5 L453.6,648.9 L454.3,649.3 L455.0,649.6 L455.7,650.0 L456.4,650.4 L457.1,650.7 L457.8,651.1 L458.5,651.5 L459.2,651.8 L459.9,652.2 L460.6,652.5 L461.3,652.9 L462.0,653.2 L462.7,653.6 L463.4,653.9 L464.1,654.3 L464.8,654.6 L465.5,654.9 L466.2,655.3 L466.9,655.6 L467.6,656.0 L468.3,656.3 L469.0,656.6 L469.7,656.9 L470.4,657.3 L471.1,657.6 L471.8,657.9 L472.5,658.3 L473.2,658.6 L473.9,658.9 L474.6,659.2 L475.3,659.5 L476.0,659.8 L476.7,660.2 L477.4,660.5 L478.1,660.8 L478.8,661.1 L479.5,661.4 L480.2,661.7 L480.9,662.0 L481.6,662.3 L482.3,662.6 L483.0,662.9 L483.7,663.2 L484.4,663.5 L485.1,663.8 L485.8,664.1 L486.5,664.4 L487.2,664.7 L487.9,665.0 L488.6,665.3 L489.3,665.6 L490.0,665.9 L490.7,666.1 L491.4,666.4 L492.1,666.7 L492.8,667.0 L493.5,667.3 L494.2,667.6 L494.9,667.8 L495.6,668.1 L496.3,668.4 L497.0,668.7 L497.7,668.9 L498.4,669.2 L499.1,669.5 L499.8,669.8 L500.5,670.0 L501.2,670.3 L501.9,670.6 L502.6,670.8 L503.3,671.1 L504.0,671.4 L504.7,671.6 L505.4,671.9 L506.1,672.2 L506.8,672.4 L507.5,672.7 L508.2,673.0 L508.9,673.2 L509.6,673.5 L510.3,673.7 L511.0,674.0 L511.7,674.3 L512.4,674.5 L513.1,674.8 L513.8,675.0 L514.5,675.3 L515.2,675.6 L515.9,675.8 L516.6,676.1 L517.3,676.3 L518.0,676.6 L518.7,676.8 L519.4,677.1 L520.1,677.3 L520.8,677.6 L521.5,677.8 L522.2,678.1 L522.9,678.3 L523.6,678.6 L524.3,678.8 L525.0,679.1 L525.7,679.3 L526.4,679.6 L527.1,679.8 L527.8,680.1 L528.5,680.3 L529.2,680.5 L529.9,680.8 L530.6,681.0 L531.3,681.3 L532.0,681.5 L532.7,681.7 L533.4,682.0 L534.1,682.2 L534.8,682.5 L535.5,682.7 L536.2,682.9 L536.9,683.2 L537.6,683.4 L538.3,683.7 L539.0,683.9 L539.7,684.1 L540.4,684.4 L541.1,684.6 L541.8,684.8 L542.5,685.1 L543.2,685.3 L543.9,685.5 L544.6,685.7 L545.3,686.0 L546.0,686.2 L546.7,686.4 L547.4,686.7 L548.1,686.9 L548.8,687.1 L549.5,687.3 L550.2,687.6 L550.9,687.8 L551.6,688.0 L552.3,688.2 L553.0,688.5 L553.7,688.7 L554.4,688.9 L555.1,689.1 L555.8,689.4 L556.5,689.6 L557.2,689.8 L557.9,690.0 L558.6,690.2 L559.3,690.5 L560.0,690.7 L560.7,690.9 L561.4,691.1 L562.1,691.3 L562.8,691.6 L563.5,691.8 L564.2,692.0 L564.9,692.2 L565.6,692.4 L566.3,692.6 L567.0,692.8 L567.7,693.1 L568.4,693.3 L569.1,693.5 L569.8,693.7 L570.5,693.9 L571.2,694.1 L571.9,694.3 L572.6,694.5 L573.3,694.7 L574.0,695.0 L574.7,695.2 L575.4,695.4 L576.1,695.6 L576.8,695.8 L577.5,696.0 L578.2,696.2 L578.9,696.4 L579.6,696.6 L580.3,696.8 L581.0,697.0 L581.7,697.2 L582.4,697.4 L583.1,697.6 L583.8,697.8 L584.5,698.0 L585.2,698.2 L585.9,698.4 L586.6,698.6 L587.3,698.8 L588.0,699.0 L588.7,699.2 L589.4,699.4 L590.1,699.6 L590.8,699.8 L591.5,700.0 L592.2,700.2 L592.9,700.4 L593.6,700.6 L594.3,700.8 L595.0,701.0 L595.7,701.2 L596.4,701.4 L597.1,701.6 L597.8,701.8 L598.5,702.0 L599.2,702.2 L599.9,702.4 L600.6,702.6 L601.3,702.8 L602.0,703.0 L602.7,703.2 L603.4,703.4 L604.1,703.6 L604.8,703.8 L605.5,704.0 L606.2,704.2 L606.9,704.4 L607.6,704.6 L608.3,704.8 L609.0,705.0 L609.7,705.1 L610.4,705.3 L611.1,705.5 L611.8,705.7 L612.5,705.9 L613.2,706.1 L613.9,706.3 L614.6,706.5 L615.3,706.7 L616.0,706.9 L616.7,707.0 L617.4,707.2 L618.1,707.4 L618.8,707.6 L619.5,707.8 L620.2,708.0 L620.9,708.2 L621.6,708.4 L622.3,708.5 L623.0,708.7 L623.7,708.9 L624.4,709.1 L625.1,709.3 L625.8,709.5 L626.5,709.6 L627.2,709.8 L627.9,710.0 L628.6,710.2 L629.3,710.4 L630.0,710.6 L630.7,710.7 L631.4,710.9 L632.1,711.1 L632.8,711.3 L633.5,711.5 L634.2,711.6 L634.9,711.8 L635.6,712.0 L636.3,712.2 L637.0,712.4 L637.7,712.5 L638.4,712.7 L639.1,712.9 L639.8,713.1 L640.5,713.2 L641.2,713.4 L641.9,713.6 L642.6,713.8 L643.3,713.9 L644.0,714.1 L644.7,714.3 L645.4,714.5 L646.1,714.6 L646.8,714.8 L647.5,715.0 L648.2,715.1 L648.9,715.3 L649.6,715.5 L650.3,715.7 L651.0,715.8 L651.7,716.0 L652.4,716.2 L653.1,716.3 L653.8,716.5 L654.5,716.7 L655.2,716.8 L655.9,717.0 L656.6,717.2 L657.3,717.3 L658.0,717.5 L658.7,717.7 L659.4,717.8 L660.1,718.0 L660.8,718.2 L661.5,718.3 L662.2,718.5 L662.9,718.6 L663.6,718.8 L664.3,719.0 L665.0,719.1 L665.7,719.3 L666.4,719.5 L667.1,719.6 L667.8,719.8 L668.5,719.9 L669.2,720.1 L669.9,720.2 L670.6,720.4 L671.3,720.6 L672.0,720.7 L672.7,720.9 L673.4,721.0 L674.1,721.2 L674.8,721.3 L675.5,721.5 L676.2,721.6 L676.9,721.8 L677.6,721.9 L678.3,722.1 L679.0,722.2 L679.7,722.4 L680.4,722.6 L681.1,722.7 L681.8,722.9 L682.5,723.0 L683.2,723.2 L683.9,723.3 L684.6,723.5 L685.3,723.6 L686.0,723.7 L686.7,723.9 L687.4,724.0 L688.1,724.2 L688.8,724.3 L689.5,724.5 L690.2,724.6 L690.9,724.8 L691.6,724.9 L692.3,725.1 L693.0,725.2 L693.7,725.4 L694.4,725.5 L695.1,725.7 L695.8,725.8 L696.5,725.9 L697.2,726.1 L697.9,726.2 L698.6,726.4 L699.3,726.5 L700.0,726.7 L700.7,726.8 L701.4,726.9 L702.1,727.1 L702.8,727.2 L703.5,727.4 L704.2,727.5 L704.9,727.6 L705.6,727.8 L706.3,727.9 L707.0,728.1 L707.7,728.2 L708.4,728.3 L709.1,728.5 L709.8,728.6 L710.5,728.8 L711.2,728.9 L711.9,729.0 L712.6,729.2 L713.3,729.3 L714.0,729.4 L714.7,729.6 L715.4,729.7 L716.1,729.9 L716.8,730.0 L717.5,730.1 L718.2,730.3 L718.9,730.4 L719.6,730.5 L720.3,730.7 L721.0,730.8 L721.7,730.9 L722.4,731.1 L723.1,731.2 L723.8,731.3 L724.5,731.5 L725.2,731.6 L725.9,731.7 L726.6,731.9 L727.3,732.0 L728.0,732.1 L728.7,732.2 L729.4,732.4 L730.1,732.5 L730.8,732.6 L731.5,732.8 L732.2,732.9 L732.9,733.0 L733.6,733.1 L734.3,733.3 L735.0,733.4 L735.7,733.5 L736.4,733.6 L737.1,733.8 L737.8,733.9 L738.5,734.0 L739.2,734.1 L739.9,734.3 L740.6,734.4 L741.3,734.5 L742.0,734.6 L742.7,734.8 L743.4,734.9 L744.1,735.0 L744.8,735.1 L745.5,735.3 L746.2,735.4 L746.9,735.5 L747.6,735.6 L748.3,735.7 L749.0,735.9 L749.7,736.0 L750.4,736.1 L751.1,736.2 L751.8,736.3 L752.5,736.4 L753.2,736.6 L753.9,736.7 L754.6,736.8 L755.3,736.9 L756.0,737.0 L756.7,737.1 L757.4,737.3 L758.1,737.4 L758.8,737.5 L759.5,737.6 L760.2,737.7 L760.9,737.8 L761.6,737.9 L762.3,738.0 L763.0,738.2 L763.7,738.3 L764.4,738.4 L765.1,738.5 L765.8,738.6 L766.5,738.7 L767.2,738.8 L767.9,738.9 L768.6,739.0 L769.3,739.1 L770.0,739.3 L770.7,739.4 L771.4,739.5 L772.1,739.6 L772.8,739.7 L773.5,739.8 L774.2,739.9 L774.9,740.0 L775.6,740.1 L776.3,740.2 L777.0,740.3 L777.7,740.4 L778.4,740.5 L779.1,740.6 L779.8,740.7 L780.5,740.8 L781.2,740.9 L781.9,741.0 L782.6,741.1 L783.3,741.2 L784.0,741.3 L784.7,741.4 L785.4,741.5 L786.1,741.6 L786.8,741.7 L787.5,741.8 L788.2,741.9 L788.9,742.0 L789.6,742.1 L790.3,742.2 L791.0,742.3 L791.7,742.4 L792.4,742.5 L793.1,742.6 L793.8,742.6 L794.5,742.7 L795.2,742.8 L795.9,742.9 L796.6,743.0 L797.3,743.1 L798.0,743.2 L798.7,743.3 L799.4,743.4 L800.1,743.4 L800.8,743.5 L801.5,743.9 L802.2,744.4 L802.9,745.0 L803.6,745.3 L804.3,745.3 L805.0,744.7 L805.7,743.8 L806.4,742.8 L807.1,742.2 L807.8,742.1 L808.5,742.5 L809.2,743.4 L809.9,744.6 L810.6,745.9 L811.3,746.8 L812.0,747.4 L812.7,747.3 L813.4,746.8 L814.1,745.8 L814.8,744.8 L815.5,743.8 L816.2,743.3 L816.9,743.2 L817.6,743.7 L818.3,744.7 L819.0,745.9 L819.7,747.1 L820.4,748.1 L821.1,748.5 L821.8,748.4 L822.5,747.8 L823.2,746.8 L823.9,745.7 L824.6,744.8 L825.3,744.3 L826.0,744.4 L826.7,745.0 L827.4,746.0 L828.1,747.2 L828.8,748.4 L829.5,749.3 L830.2,749.6 L830.9,749.4 L831.6,748.7 L832.3,747.7 L833.0,746.7 L833.7,745.8 L834.4,745.4 L835.1,745.5 L835.8,746.2 L836.5,747.3 L837.2,748.5 L837.9,749.7 L838.6,750.5 L839.3,750.7 L840.0,750.5 L840.7,749.7 L841.4,748.7 L842.1,747.6 L842.8,746.8 L843.5,746.5 L844.2,746.7 L844.9,747.4 L845.6,748.6 L846.3,749.8 L847.0,750.9 L847.7,751.7 L848.4,751.9 L849.1,751.5 L849.8,750.7 L850.5,749.7 L851.2,748.6 L851.9,747.9 L852.6,747.6 L853.3,747.9 L854.0,748.7 L854.7,749.9 L855.4,751.1 L856.1,752.2 L856.8,752.8 L857.5,753.0 L858.2,752.5 L858.9,751.7 L859.6,750.6 L860.3,749.6 L861.0,748.9 L861.7,748.7 L862.4,749.1 L863.1,750.0 L863.8,751.2 L864.5,752.4 L865.2,753.4 L865.9,754.0 L866.6,754.1 L867.3,753.6 L868.0,752.7 L868.7,751.6 L869.4,750.6 L870.1,750.0 L870.8,749.9 L871.5,750.3 L872.2,751.3 L872.9,752.5 L873.6,753.7 L874.3,754.7 L875.0,755.2 L875.7,755.1 L876.4,754.6 L877.1,753.6 L877.8,752.6 L878.5,751.6 L879.2,751.1 L879.9,751.0 L880.6,751.6 L881.3,752.5 L882.0,753.8 L882.7,755.0 L883.4,755.9 L884.1,756.3 L884.8,756.2 L885.5,755.6 L886.2,754.6 L886.9,753.5 L887.6,752.6 L888.3,752.1 L889.0,752.2 L889.7,752.8 L890.4,753.8 L891.1,755.0 L891.8,756.2 L892.5,757.1 L893.2,757.4 L893.9,757.2 L894.6,756.6 L895.3,755.5 L896.0,754.5 L896.7,753.6 L897.4,753.2 L898.1,753.3 L898.8,754.0 L899.5,755.1 L900.2,756.3 L900.9,757.5 L901.6,758.2 L902.3,758.5 L903.0,758.3 L903.7,757.5 L904.4,756.5 L905.1,755.4 L905.8,754.6 L906.5,754.3 L907.2,754.5 L907.9,755.2 L908.6,756.3 L909.3,757.6 L910.0,758.7 L910.7,759.4 L911.4,759.6 L912.1,759.3 L912.8,758.4 L913.5,757.4 L914.2,756.4 L914.9,755.6 L915.6,755.3 L916.3,755.6 L917.0,756.4 L917.7,757.5 L918.4,758.8 L919.1,759.9 L919.8,760.5 L920.5,760.6 L921.2,760.2 L921.9,759.4 L922.6,758.3 L923.3,757.3 L924.0,756.6 L924.7,756.4 L925.4,756.7 L926.1,757.6 L926.8,758.8 L927.5,760.0 L928.2,761.0 L928.9,761.6 L929.6,761.6 L930.3,761.1 L931.0,760.2 L931.7,759.2 L932.4,758.2 L933.1,757.5 L933.8,757.4 L934.5,757.8 L935.2,758.8 L935.9,760.0 L936.6,761.2 L937.3,762.1 L938.0,762.6 L938.7,762.6 L939.4,762.0 L940.1,761.1 L940.8,760.0 L941.5,759.0 L942.2,758.5 L942.9,758.4 L943.6,758.9 L944.3,759.9 L945.0,761.1 L945.7,762.3 L946.4,763.2 L947.1,763.7 L947.8,763.5 L948.5,762.9 L949.2,761.9 L949.9,760.8 L950.6,759.9 L951.3,759.4 L952.0,759.4 L952.7,760.0 L953.4,761.0 L954.1,762.2 L954.8,763.4 L955.5,764.3 L956.2,764.6 L956.9,764.4 L957.6,763.7 L958.3,762.7 L959.0,761.6 L959.7,760.7 L960.4,760.3 L961.1,760.4 L961.8,761.1 L962.5,762.1 L963.2,763.3 L963.9,764.5 L964.6,765.3 L965.3,765.5 L966.0,765.2 L966.7,764.5 L967.4,763.4 L968.1,762.4 L968.8,761.5 L969.5,761.2 L970.2,761.4 L970.9,762.1 L971.6,763.2 L972.3,764.4 L973.0,765.5 L973.7,766.2 L974.4,766.4 L975.1,766.1 L975.8,765.2 L976.5,764.2 L977.2,763.1 L977.9,762.4 L978.6,762.1 L979.3,762.3 L980.0,763.1 L980.7,764.2 L981.4,765.5 L982.1,766.5 L982.8,767.2 L983.5,767.3 L984.2,766.8 L984.9,766.0 L985.6,764.9 L986.3,763.9 L987.0,763.2 L987.7,762.9 L988.4,763.3 L989.1,764.1 L989.8,765.3 L990.5,766.5 L991.2,767.5 L991.9,768.1 L992.6,768.1 L993.3,767.6 L994.0,766.7 L994.7,765.6 L995.4,764.6 L996.1,764.0 L996.8,763.8 L997.5,764.2 L998.2,765.1 L998.9,766.3 L999.6,767.5 L1000.3,768.5 L1001.0,769.0 L1001.7,768.9 L1002.4,768.3 L1003.1,767.4 L1003.8,766.3 L1004.5,765.3 L1005.2,764.7 L1005.9,764.7 L1006.6,765.2 L1007.3,766.1 L1008.0,767.3 L1008.7,768.5 L1009.4,769.4 L1010.1,769.8 L1010.8,769.7 L1011.5,769.1 L1012.2,768.1 L1012.9,767.0 L1013.6,766.0 L1014.3,765.5 L1015.0,765.6 L1015.7,766.1 L1016.4,767.1 L1017.1,768.3 L1017.8,769.5 L1018.5,770.3 L1019.2,770.7 L1019.9,770.5 L1020.6,769.8 L1021.3,768.7 L1022.0,767.6 L1022.7,766.8 L1023.4,766.3 L1024.1,766.4 L1024.8,767.1 L1025.5,768.1 L1026.2,769.3 L1026.9,770.5 L1027.6,771.2 L1028.3,771.5 L1029.0,771.2 L1029.7,770.4 L1030.4,769.4 L1031.1,768.3 L1031.8,767.5 L1032.5,767.1 L1033.2,767.3 L1033.9,768.0 L1034.6,769.1 L1035.3,770.3 L1036.0,771.4 L1036.7,772.1 L1037.4,772.3 L1038.1,771.9 L1038.8,771.1 L1039.5,770.0 L1040.2,769.0 L1040.9,768.2 L1041.6,767.9 L1042.3,768.2 L1043.0,768.9 L1043.7,770.0 L1044.4,771.3 L1045.1,772.3 L1045.8,773.0 L1046.5,773.1 L1047.2,772.6 L1047.9,771.7 L1048.6,770.6 L1049.3,769.6 L1050.0,768.9 L1050.7,768.7 L1051.4,769.0 L1052.1,769.9 L1052.8,771.0 L1053.5,772.2 L1054.2,773.2 L1054.9,773.8 L1055.6,773.8 L1056.3,773.3 L1057.0,772.4 L1057.7,771.3 L1058.4,770.3 L1059.1,769.6 L1059.8,769.5 L1060.5,769.9 L1061.2,770.8 L1061.9,771.9 L1062.6,773.1 L1063.3,774.1 L1064.0,774.6 L1064.7,774.5 L1065.4,773.9 L1066.1,773.0 L1066.8,771.9 L1067.5,770.9 L1068.2,770.3 L1068.9,770.2 L1069.6,770.7 L1070.3,771.7 L1071.0,772.9 L1071.7,774.1 L1072.4,774.9 L1073.1,775.4 L1073.8,775.2 L1074.5,774.6 L1075.2,773.6 L1075.9,772.5 L1076.6,771.5 L1077.3,771.0 L1078.0,771.0 L1078.7,771.6 L1079.4,772.6 L1080.1,773.8 L1080.8,774.9 L1081.5,775.8 L1082.2,776.1 L1082.9,775.9 L1083.6,775.2 L1084.3,774.1 L1085.0,773.1 L1085.7,772.2 L1086.4,771.7 L1087.1,771.8 L1087.8,772.5 L1088.5,773.5 L1089.2,774.7 L1089.9,775.8 L1090.6,776.6 L1091.3,776.9 L1092.0,776.6 L1092.7,775.8 L1093.4,774.7 L1094.1,773.7 L1094.8,773.1 L1095.5,773.0 L1096.2,773.5 L1096.9,774.1 L1097.6,774.8 L1098.3,775.2 L1099.0,775.3 L1099.7,775.2 L1100.4,775.4 L1101.1,775.7 L1101.8,775.7 L1102.5,775.3 L1103.2,774.6 L1103.9,773.8 L1104.6,773.2 L1105.3,773.2 L1106.0,773.8 L1106.7,775.2 L1107.4,776.7 L1108.1,778.0 L1108.8,778.8 L1109.5,778.9 L1110.2,778.3 L1110.9,777.2 L1111.6,775.8 L1112.3,774.5 L1113.0,773.6 L1113.7,773.3 L1114.4,773.7 L1115.1,774.7 L1115.8,776.1 L1116.5,777.6 L1117.2,778.8 L1117.9,779.5 L1118.6,779.5 L1119.3,778.9 L1120.0,777.7 L1120.7,776.3 L1121.4,775.0 L1122.1,774.2 L1122.8,774.0 L1123.5,774.5 L1124.2,775.6 L1124.9,777.0 L1125.6,778.5 L1126.3,779.7 L1127.0,780.3 L1127.7,780.2 L1128.4,779.4 L1129.1,778.2 L1129.8,776.8 L1130.5,775.6 L1131.2,774.8 L1131.9,774.7 L1132.6,775.3 L1133.3,776.5 L1134.0,778.0 L1134.7,779.4 L1135.4,780.5 L1136.1,781.0 L1136.8,780.8 L1137.5,780.0 L1138.2,778.7 L1138.9,777.3 L1139.6,776.1 L1140.3,775.5 L1141.0,775.5 L1141.7,776.2 L1142.4,777.4 L1143.1,778.9 L1143.8,780.3 L1144.5,781.3 L1145.2,781.7 L1145.9,781.4 L1146.6,780.5 L1147.3,779.2 L1148.0,777.8 L1148.7,776.7 L1149.4,776.1 L1150.1,776.2 L1150.8,777.0 L1151.5,778.3 L1152.2,779.8 L1152.9,781.1 L1153.6,782.1 L1154.3,782.4 L1155.0,782.0 L1155.7,781.0 L1156.4,779.7 L1157.1,778.3 L1157.8,777.2 L1158.5,776.8 L1159.2,777.0 L1159.9,777.8 L1160.6,779.2 L1161.3,780.7 L1162.0,782.0 L1162.7,782.9 L1163.4,783.1 L1164.1,782.6 L1164.8,781.5 L1165.5,780.1 L1166.2,778.8 L1166.9,777.8 L1167.6,777.4 L1168.3,777.7 L1169.0,778.7 L1169.7,780.0 L1170.4,781.5 L1171.1,782.8 L1171.8,783.6 L1172.5,783.7 L1173.2,783.1 L1173.9,782.0 L1174.6,780.6 L1175.3,779.3 L1176.0,778.4 L1176.7,778.1 L1177.4,778.5 L1178.1,779.5 L1178.8,780.9 L1179.5,782.4 L1180.2,783.6 L1180.9,784.3 L1181.6,784.3 L1182.3,783.6 L1183.0,782.5 L1183.7,781.1 L1184.4,779.8 L1185.1,778.9 L1185.8,778.7 L1186.5,779.2 L1187.2,780.3 L1187.9,781.8 L1188.6,783.3 L1189.3,784.4 L1190.0,785.0 L1190.7,784.9 L1191.4,784.1 L1192.1,782.9 L1192.8,781.5 L1193.5,780.3 L1194.2,779.5 L1194.9,779.4 L1195.6,780.0 L1196.3,781.2 L1197.0,782.6 L1197.7,784.1 L1198.4,785.2 L1199.1,785.7 L1199.8,785.5 L1200.5,784.6 L1201.2,783.4 L1201.9,782.0 L1202.6,780.8 L1203.3,780.1 L1204.0,780.1 L1204.7,780.8 L1205.4,782.0 L1206.1,783.5 L1206.8,784.9 L1207.5,785.9 L1208.2,786.3 L1208.9,786.0 L1209.6,785.1 L1210.3,783.8 L1211.0,782.4 L1211.7,781.3 L1212.4,780.7 L1213.1,780.8 L1213.8,781.6 L1214.5,782.8 L1215.2,784.3 L1215.9,785.7 L1216.6,786.6 L1217.3,786.9 L1218.0,786.5 L1218.7,785.5 L1219.4,784.2 L1220.1,782.8 L1220.8,781.8 L1221.5,781.3 L1222.2,781.5 L1222.9,782.3 L1223.6,783.7 L1224.3,785.2 L1225.0,786.5 L1225.7,787.3 L1226.4,787.5 L1227.1,787.0 L1227.8,786.0 L1228.5,784.6 L1229.2,783.3 L1229.9,782.3 L1230.6,781.9 L1231.3,782.2 L1232.0,783.1 L1232.7,784.5 L1233.4,786.0 L1234.1,787.2 L1234.8,788.0 L1235.5,788.1 L1236.2,787.5 L1236.9,786.4 L1237.6,785.0 L1238.3,783.7 L1239.0,782.8 L1239.7,782.5 L1240.4,782.9 L1241.1,783.9 L1241.8,785.3 L1242.5,786.8 L1243.2,788.0 L1243.9,788.7 L1244.6,788.7 L1245.3,788.0 L1246.0,786.8 L1246.7,785.4 L1247.4,784.1 L1248.1,783.3 L1248.8,783.1 L1249.5,783.6 L1250.2,784.6 L1250.9,786.1 L1251.6,787.6 L1252.3,788.7 L1253.0,789.3 L1253.7,789.2 L1254.4,788.4 L1255.1,787.2 L1255.8,785.8 L1256.5,784.5 L1257.2,783.8 L1257.9,783.7 L1258.6,784.3 L1259.3,785.4 L1260.0,786.9 L1260.7,788.3 L1261.4,789.4 L1262.1,789.9 L1262.8,789.7 L1263.5,788.7 L1264.2,787.5 L1264.9,786.5 L1265.6,785.9 L1266.3,785.9 L1267.0,786.3 L1267.7,786.8 L1268.4,787.2" stroke="#264478"/>
<path d="M209.3,-30.0 L209.4,-20.3 L209.4,-10.6 L209.5,-1.1 L209.5,8.4 L209.5,17.8 L209.6,27.1 L209.6,36.3 L209.7,45.4 L209.7,54.4 L209.7,63.3 L209.8,72.0 L209.8,80.6 L209.9,89.0 L209.9,97.3 L209.9,105.4 L210.0,113.4 L210.0,121.2 L210.1,128.7 L210.1,136.1 L210.1,143.3 L210.2,150.3 L210.2,157.1 L210.2,163.7 L210.3,170.0 L210.3,176.1 L210.4,181.9 L210.4,187.5 L210.4,192.8 L210.5,197.9 L210.5,202.7 L210.6,207.5 L210.6,212.2 L210.6,216.9 L210.7,221.6 L210.7,226.2 L210.8,230.7 L210.8,235.2 L210.8,239.7 L210.9,244.0 L210.9,248.3 L211.0,252.6 L211.0,256.8 L211.0,260.9 L211.1,264.9 L211.1,268.8 L211.1,272.7 L211.2,276.5 L211.2,280.2 L211.3,283.7 L211.3,287.2 L211.3,290.6 L211.4,293.9 L211.4,297.1 L211.5,300.2 L211.5,303.2 L211.5,306.0 L211.6,308.8 L211.6,311.4 L211.7,313.9 L211.7,316.3 L211.7,318.5 L211.8,320.6 L211.8,322.6 L211.9,324.4 L211.9,326.1 L211.9,327.6 L212.0,329.0 L212.0,330.2 L212.0,331.4 L212.1,332.6 L212.1,333.7 L212.2,334.8 L212.2,336.0 L212.2,337.1 L212.3,338.2 L212.3,339.3 L212.4,340.4 L212.4,341.5 L212.4,342.5 L212.5,343.6 L212.5,344.6 L212.6,345.6 L212.6,346.6 L212.6,347.6 L212.7,348.6 L212.7,349.6 L212.7,350.6 L212.8,351.5 L212.8,352.4 L212.9,353.4 L212.9,354.3 L212.9,355.2 L213.0,356.0 L213.0,356.9 L213.1,357.8 L213.1,358.6 L213.1,359.4 L213.2,360.2 L213.2,361.0 L213.3,361.8 L213.3,362.6 L213.3,363.3 L213.4,364.1 L213.4,364.8 L213.5,365.5 L213.5,366.2 L213.5,366.9 L213.6,367.5 L213.6,368.2 L213.6,368.8 L213.7,369.4 L213.7,370.0 L213.8,370.6 L213.8,371.2 L213.8,371.7 L213.9,372.3 L213.9,372.8 L214.0,373.3 L214.0,373.8 L214.2,376.4 L214.9,380.0 L215.6,378.8 L216.3,375.4 L217.0,370.9 L217.7,366.3 L218.4,360.7 L219.1,354.0 L219.8,346.4 L220.5,338.4 L221.2,330.3 L221.9,322.5 L222.6,315.3 L223.3,309.0 L224.0,303.2 L224.7,297.6 L225.4,292.2 L226.1,287.0 L226.8,282.0 L227.5,277.3 L228.2,272.9 L228.9,268.8 L229.6,265.0 L230.3,261.4 L231.0,258.0 L231.7,254.9 L232.4,252.0 L233.1,249.5 L233.8,247.0 L234.5,244.8 L235.2,243.3 L235.9,242.3 L236.6,241.9 L237.3,242.5 L238.0,243.4 L238.7,244.3 L239.4,245.4 L240.1,246.7 L240.8,248.2 L241.5,249.9 L242.2,252.0 L242.9,254.4 L243.6,257.1 L244.3,260.0 L245.0,262.9 L245.7,265.8 L246.4,268.7 L247.1,271.6 L247.8,274.5 L248.5,277.6 L249.2,280.7 L249.9,283.9 L250.6,287.1 L251.3,290.3 L252.0,293.5 L252.7,296.8 L253.4,300.0 L254.1,303.3 L254.8,306.5 L255.5,309.6 L256.2,312.8 L256.9,315.9 L257.6,319.1 L258.3,322.3 L259.0,325.5 L259.7,328.6 L260.4,331.8 L261.1,334.9 L261.8,338.0 L262.5,341.0 L263.2,343.9 L263.9,346.8 L264.6,349.6 L265.3,352.3 L266.0,354.9 L266.7,357.5 L267.4,360.0 L268.1,362.6 L268.8,365.1 L269.5,367.7 L270.2,370.4 L270.9,373.1 L271.6,375.9 L272.3,378.7 L273.0,381.5 L273.7,384.3 L274.4,387.1 L275.1,389.7 L275.8,392.3 L276.5,394.8 L277.2,397.2 L277.9,399.6 L278.6,401.9 L279.3,404.2 L280.0,406.4 L280.7,408.6 L281.4,410.8 L282.1,412.9 L282.8,415.0 L283.5,417.0 L284.2,419.0 L284.9,420.9 L285.6,422.9 L286.3,424.8 L287.0,426.7 L287.7,428.7 L288.4,430.8 L289.1,432.8 L289.8,434.9 L290.5,436.9 L291.2,439.0 L291.9,441.1 L292.6,443.1 L293.3,445.2 L294.0,447.2 L294.7,449.3 L295.4,451.3 L296.1,453.4 L296.8,455.4 L297.5,457.4 L298.2,459.4 L298.9,461.4 L299.6,463.3 L300.3,465.2 L301.0,467.1 L301.7,468.9 L302.4,470.7 L303.1,472.4 L303.8,474.2 L304.5,475.9 L305.2,477.6 L305.9,479.2 L306.6,480.9 L307.3,482.5 L308.0,484.1 L308.7,485.6 L309.4,487.2 L310.1,488.7 L310.8,490.2 L311.5,491.6 L312.2,493.1 L312.9,494.5 L313.6,496.0 L314.3,497.4 L315.0,498.8 L315.7,500.1 L316.4,501.5 L317.1,502.8 L317.8,504.1 L318.5,505.4 L319.2,506.7 L319.9,508.0 L320.6,509.2 L321.3,510.5 L322.0,511.7 L322.7,512.9 L323.4,514.1 L324.1,515.3 L324.8,516.5 L325.5,517.7 L326.2,518.9 L326.9,520.1 L327.6,521.3 L328.3,522.5 L329.0,523.6 L329.7,524.8 L330.4,525.9 L331.1,527.1 L331.8,528.2 L332.5,529.4 L333.2,530.5 L333.9,531.6 L334.6,532.7 L335.3,533.8 L336.0,534.9 L336.7,536.0 L337.4,537.0 L338.1,538.1 L338.8,539.1 L339.5,540.1 L340.2,541.1 L340.9,542.2 L341.6,543.2 L342.3,544.2 L343.0,545.1 L343.7,546.1 L344.4,547.1 L345.1,548.0 L345.8,548.9 L346.5,549.9 L347.2,550.9 L347.9,551.8 L348.6,552.8 L349.3,553.8 L350.0,554.8 L350.7,555.8 L351.4,556.8 L352.1,557.7 L352.8,558.7 L353.5,559.7 L354.2,560.7 L354.9,561.7 L355.6,562.7 L356.3,563.7 L357.0,564.7 L357.7,565.7 L358.4,566.7 L359.1,567.7 L359.8,568.6 L360.5,569.5 L361.2,570.4 L361.9,571.3 L362.6,572.2 L363.3,573.1 L364.0,573.9 L364.7,574.8 L365.4,575.6 L366.1,576.5 L366.8,577.3 L367.5,578.1 L368.2,578.9 L368.9,579.7 L369.6,580.5 L370.3,581.3 L371.0,582.1 L371.7,582.8 L372.4,583.6 L373.1,584.4 L373.8,585.1 L374.5,585.9 L375.2,586.7 L375.9,587.4 L376.6,588.2 L377.3,588.9 L378.0,589.6 L378.7,590.4 L379.4,591.1 L380.1,591.8 L380.8,592.5 L381.5,593.2 L382.2,593.9 L382.9,594.6 L383.6,595.3 L384.3,596.0 L385.0,596.7 L385.7,597.4 L386.4,598.0 L387.1,598.7 L387.8,599.4 L388.5,600.0 L389.2,600.7 L389.9,601.3 L390.6,602.0 L391.3,602.6 L392.0,603.2 L392.7,603.9 L393.4,604.5 L394.1,605.1 L394.8,605.7 L395.5,606.3 L396.2,606.9 L396.9,607.6 L397.6,608.2 L398.3,608.8 L399.0,609.4 L399.7,610.0 L400.4,610.6 L401.1,611.2 L401.8,611.7 L402.5,612.3 L403.2,612.9 L403.9,613.5 L404.6,614.1 L405.3,614.6 L406.0,615.2 L406.7,616.1 L407.4,617.1 L408.1,617.9 L408.8,618.2 L409.5,618.0 L410.2,617.6 L410.9,617.3 L411.6,617.9 L412.3,619.3 L413.0,621.0 L413.7,622.7 L414.4,624.0 L415.1,624.5 L415.8,624.3 L416.5,623.7 L417.2,623.1 L417.9,623.0 L418.6,623.6 L419.3,624.9 L420.0,626.6 L420.7,628.3 L421.4,629.6 L422.1,630.1 L422.8,629.8 L423.5,629.2 L424.2,628.5 L424.9,628.4 L425.6,628.9 L426.3,630.2 L427.0,631.9 L427.7,633.5 L428.4,634.7 L429.1,635.1 L429.8,634.8 L430.5,634.1 L431.2,633.4 L431.9,633.2 L432.6,633.7 L433.3,634.9 L434.0,636.5 L434.7,638.1 L435.4,639.3 L436.1,639.6 L436.8,639.3 L437.5,638.5 L438.2,637.8 L438.9,637.6 L439.6,638.0 L440.3,639.2 L441.0,640.9 L441.7,642.4 L442.4,643.5 L443.1,643.9 L443.8,643.5 L444.5,642.7 L445.2,642.0 L445.9,641.7 L446.6,642.2 L447.3,643.3 L448.0,644.9 L448.7,646.5 L449.4,647.5 L450.1,647.9 L450.8,647.5 L451.5,646.7 L452.2,645.9 L452.9,645.6 L453.6,646.0 L454.3,647.2 L455.0,648.7 L455.7,650.3 L456.4,651.3 L457.1,651.6 L457.8,651.2 L458.5,650.4 L459.2,649.6 L459.9,649.3 L460.6,649.7 L461.3,650.8 L462.0,652.3 L462.7,653.9 L463.4,654.9 L464.1,655.2 L464.8,654.8 L465.5,653.9 L466.2,653.1 L466.9,652.7 L467.6,653.1 L468.3,654.2 L469.0,655.8 L469.7,657.3 L470.4,658.3 L471.1,658.5 L471.8,658.1 L472.5,657.2 L473.2,656.4 L473.9,656.0 L474.6,656.4 L475.3,657.5 L476.0,659.0 L476.7,660.5 L477.4,661.5 L478.1,661.7 L478.8,661.3 L479.5,660.4 L480.2,659.6 L480.9,659.2 L481.6,659.5 L482.3,660.6 L483.0,662.1 L483.7,663.6 L484.4,664.5 L485.1,664.8 L485.8,664.3 L486.5,663.4 L487.2,662.6 L487.9,662.2 L488.6,662.5 L489.3,663.6 L490.0,665.1 L490.7,666.5 L491.4,667.5 L492.1,667.7 L492.8,667.2 L493.5,666.3 L494.2,665.4 L494.9,665.0 L495.6,665.4 L496.3,666.4 L497.0,667.9 L497.7,669.3 L498.4,670.3 L499.1,670.5 L499.8,670.0 L500.5,669.1 L501.2,668.2 L501.9,667.8 L502.6,668.1 L503.3,669.2 L504.0,670.6 L504.7,672.0 L505.4,673.0 L506.1,673.2 L506.8,672.7 L507.5,671.8 L508.2,670.9 L508.9,670.5 L509.6,670.8 L510.3,671.8 L511.0,673.3 L511.7,674.7 L512.4,675.6 L513.1,675.8 L513.8,675.3 L514.5,674.4 L515.2,673.5 L515.9,673.1 L516.6,673.4 L517.3,674.4 L518.0,675.8 L518.7,677.3 L519.4,678.2 L520.1,678.4 L520.8,677.9 L521.5,676.9 L522.2,676.0 L522.9,675.6 L523.6,675.9 L524.3,676.9 L525.0,678.4 L525.7,679.8 L526.4,680.7 L527.1,680.9 L527.8,680.4 L528.5,679.4 L529.2,678.5 L529.9,678.1 L530.6,678.4 L531.3,679.4 L532.0,680.8 L532.7,682.2 L533.4,683.1 L534.1,683.3 L534.8,682.8 L535.5,681.8 L536.2,680.9 L536.9,680.5 L537.6,680.8 L538.3,681.8 L539.0,683.2 L539.7,684.6 L540.4,685.5 L541.1,685.7 L541.8,685.2 L542.5,684.2 L543.2,683.3 L543.9,682.8 L544.6,683.1 L545.3,684.1 L546.0,685.5 L546.7,686.9 L547.4,687.8 L548.1,688.0 L548.8,687.5 L549.5,686.5 L550.2,685.6 L550.9,685.1 L551.6,685.4 L552.3,686.4 L553.0,687.8 L553.7,689.2 L554.4,690.1 L555.1,690.3 L555.8,689.7 L556.5,688.8 L557.2,687.8 L557.9,687.4 L558.6,687.6 L559.3,688.6 L560.0,690.1 L560.7,691.4 L561.4,692.3 L562.1,692.5 L562.8,691.9 L563.5,691.0 L564.2,690.0 L564.9,689.6 L565.6,689.8 L566.3,690.8 L567.0,692.2 L567.7,693.6 L568.4,694.5 L569.1,694.7 L569.8,694.1 L570.5,693.1 L571.2,692.2 L571.9,691.7 L572.6,692.0 L573.3,693.0 L574.0,694.4 L574.7,695.7 L575.4,696.6 L576.1,696.8 L576.8,696.2 L577.5,695.2 L578.2,694.3 L578.9,693.8 L579.6,694.1 L580.3,695.0 L581.0,696.4 L581.7,697.8 L582.4,698.7 L583.1,698.8 L583.8,698.3 L584.5,697.3 L585.2,696.3 L585.9,695.8 L586.6,696.1 L587.3,697.1 L588.0,698.5 L588.7,699.8 L589.4,700.7 L590.1,700.9 L590.8,700.3 L591.5,699.3 L592.2,698.4 L592.9,697.9 L593.6,698.1 L594.3,699.1 L595.0,700.5 L595.7,701.8 L596.4,702.7 L597.1,702.9 L597.8,702.3 L598.5,701.3 L599.2,700.3 L599.9,699.9 L600.6,700.1 L601.3,701.1 L602.0,702.5 L602.7,703.8 L603.4,704.7 L604.1,704.8 L604.8,704.3 L605.5,703.3 L606.2,702.3 L606.9,701.8 L607.6,702.1 L608.3,703.0 L609.0,704.4 L609.7,705.8 L610.4,706.7 L611.1,706.8 L611.8,706.2 L612.5,705.2 L613.2,704.3 L613.9,703.8 L614.6,704.0 L615.3,705.0 L616.0,706.4 L616.7,707.7 L617.4,708.6 L618.1,708.7 L618.8,708.1 L619.5,707.1 L620.2,706.2 L620.9,705.7 L621.6,705.9 L622.3,706.9 L623.0,708.2 L623.7,709.6 L624.4,710.4 L625.1,710.6 L625.8,710.0 L626.5,709.0 L627.2,708.0 L627.9,707.5 L628.6,707.8 L629.3,708.7 L630.0,710.1 L630.7,711.4 L631.4,712.3 L632.1,712.4 L632.8,711.8 L633.5,710.8 L634.2,709.8 L634.9,709.3 L635.6,709.6 L636.3,710.5 L637.0,711.9 L637.7,713.2 L638.4,714.1 L639.1,714.2 L639.8,713.6 L640.5,712.6 L641.2,711.6 L641.9,711.1 L642.6,711.4 L643.3,712.3 L644.0,713.7 L644.7,715.0 L645.4,715.9 L646.1,716.0 L646.8,715.4 L647.5,714.4 L648.2,713.4 L648.9,712.9 L649.6,713.1 L650.3,714.0 L651.0,715.4 L651.7,716.7 L652.4,717.6 L653.1,717.7 L653.8,717.1 L654.5,716.1 L655.2,715.1 L655.9,714.6 L656.6,714.8 L657.3,715.7 L658.0,717.1 L658.7,718.4 L659.4,719.3 L660.1,719.4 L660.8,718.8 L661.5,717.7 L662.2,716.7 L662.9,716.2 L663.6,716.4 L664.3,717.4 L665.0,718.7 L665.7,720.1 L666.4,720.9 L667.1,721.0 L667.8,720.4 L668.5,719.4 L669.2,718.4 L669.9,717.8 L670.6,718.1 L671.3,719.0 L672.0,720.3 L672.7,721.7 L673.4,722.5 L674.1,722.6 L674.8,722.0 L675.5,720.9 L676.2,719.9 L676.9,719.4 L677.6,719.6 L678.3,720.5 L679.0,721.9 L679.7,723.2 L680.4,724.0 L681.1,724.1 L681.8,723.5 L682.5,722.5 L683.2,721.5 L683.9,720.9 L684.6,721.1 L685.3,722.1 L686.0,723.4 L686.7,724.7 L687.4,725.5 L688.1,725.6 L688.8,725.0 L689.5,724.0 L690.2,723.0 L690.9,722.4 L691.6,722.6 L692.3,723.5 L693.0,724.9 L693.7,726.2 L694.4,726.9 L695.1,726.8 L695.8,726.1 L696.5,725.5 L697.2,725.1 L697.9,725.2 L698.6,725.5 L699.3,726.0 L700.0,726.2 L700.7,726.3 L701.4,726.4 L702.1,726.7 L702.8,727.1 L703.5,727.6 L704.2,728.0 L704.9,728.1 L705.6,728.0 L706.3,727.7 L707.0,727.2 L707.7,726.9 L708.4,726.8 L709.1,726.9 L709.8,727.4 L710.5,728.0 L711.2,728.7 L711.9,729.4 L712.6,729.9 L713.3,730.1 L714.0,730.1 L714.7,729.8 L715.4,729.4 L716.1,729.0 L716.8,728.7 L717.5,728.6 L718.2,728.8 L718.9,729.2 L719.6,729.9 L720.3,730.6 L721.0,731.2 L721.7,731.7 L722.4,731.9 L723.1,731.8 L723.8,731.5 L724.5,731.1 L725.2,730.6 L725.9,730.4 L726.6,730.3 L727.3,730.5 L728.0,731.0 L728.7,731.7 L729.4,732.4 L730.1,733.0 L730.8,733.4 L731.5,733.6 L732.2,733.5 L732.9,733.1 L733.6,732.7 L734.3,732.3 L735.0,732.0 L735.7,732.0 L736.4,732.3 L737.1,732.8 L737.8,733.4 L738.5,734.1 L739.2,734.7 L739.9,735.1 L740.6,735.2 L741.3,735.1 L742.0,734.7 L742.7,734.2 L743.4,733.8 L744.1,733.6 L744.8,733.6 L745.5,733.9 L746.2,734.5 L746.9,735.1 L747.6,735.8 L748.3,736.4 L749.0,736.7 L749.7,736.8 L750.4,736.6 L751.1,736.2 L751.8,735.7 L752.5,735.3 L753.2,735.1 L753.9,735.2 L754.6,735.5 L755.3,736.1 L756.0,736.8 L756.7,737.5 L757.4,738.0 L758.1,738.3 L758.8,738.3 L759.5,738.1 L760.2,737.6 L760.9,737.2 L761.6,736.8 L762.3,736.6 L763.0,736.7 L763.7,737.1 L764.4,737.7 L765.1,738.3 L765.8,739.0 L766.5,739.5 L767.2,739.8 L767.9,739.7 L768.6,739.4 L769.3,739.0 L770.0,738.5 L770.7,738.2 L771.4,738.0 L772.1,738.2 L772.8,738.6 L773.5,739.2 L774.2,739.8 L774.9,740.5 L775.6,740.9 L776.3,741.2 L777.0,741.1 L777.7,740.8 L778.4,740.3 L779.1,739.8 L779.8,739.5 L780.5,739.4 L781.2,739.5 L781.9,740.0 L782.6,740.6 L783.3,741.3 L784.0,741.9 L784.7,742.3 L785.4,742.5 L786.1,742.3 L786.8,742.0 L787.5,741.5 L788.2,741.1 L788.9,740.7 L789.6,740.7 L790.3,740.9 L791.0,741.3 L791.7,741.9 L792.4,742.6 L793.1,743.2 L793.8,743.6 L794.5,743.6 L795.2,743.4 L795.9,743.0 L796.6,742.7 L797.3,742.6 L798.0,742.7 L798.7,742.8 L799.4,743.1 L800.1,743.2 L800.8,743.3 L801.5,743.7 L802.2,744.2 L802.9,744.8 L803.6,745.1 L804.3,745.1 L805.0,744.5 L805.7,743.6 L806.4,742.6 L807.1,742.0 L807.8,741.9 L808.5,742.3 L809.2,743.2 L809.9,744.5 L810.6,745.7 L811.3,746.7 L812.0,747.2 L812.7,747.1 L813.4,746.6 L814.1,745.6 L814.8,744.6 L815.5,743.6 L816.2,743.1 L816.9,743.0 L817.6,743.6 L818.3,744.5 L819.0,745.8 L819.7,747.0 L820.4,747.9 L821.1,748.3 L821.8,748.2 L822.5,747.6 L823.2,746.6 L823.9,745.6 L824.6,744.7 L825.3,744.2 L826.0,744.2 L826.7,744.8 L827.4,745.8 L828.1,747.1 L828.8,748.2 L829.5,749.1 L830.2,749.5 L830.9,749.3 L831.6,748.6 L832.3,747.6 L833.0,746.5 L833.7,745.7 L834.4,745.2 L835.1,745.4 L835.8,746.0 L836.5,747.1 L837.2,748.4 L837.9,749.5 L838.6,750.3 L839.3,750.6 L840.0,750.3 L840.7,749.6 L841.4,748.6 L842.1,747.5 L842.8,746.7 L843.5,746.4 L844.2,746.6 L844.9,747.3 L845.6,748.4 L846.3,749.7 L847.0,750.8 L847.7,751.5 L848.4,751.7 L849.1,751.4 L849.8,750.6 L850.5,749.5 L851.2,748.5 L851.9,747.8 L852.6,747.5 L853.3,747.8 L854.0,748.6 L854.7,749.7 L855.4,751.0 L856.1,752.1 L856.8,752.7 L857.5,752.8 L858.2,752.4 L858.9,751.6 L859.6,750.5 L860.3,749.5 L861.0,748.8 L861.7,748.6 L862.4,749.0 L863.1,749.9 L863.8,751.0 L864.5,752.3 L865.2,753.3 L865.9,753.9 L866.6,754.0 L867.3,753.5 L868.0,752.6 L868.7,751.5 L869.4,750.5 L870.1,749.9 L870.8,749.8 L871.5,750.2 L872.2,751.1 L872.9,752.4 L873.6,753.6 L874.3,754.6 L875.0,755.1 L875.7,755.0 L876.4,754.5 L877.1,753.5 L877.8,752.5 L878.5,751.5 L879.2,751.0 L879.9,750.9 L880.6,751.5 L881.3,752.4 L882.0,753.7 L882.7,754.9 L883.4,755.8 L884.1,756.2 L884.8,756.1 L885.5,755.5 L886.2,754.5 L886.9,753.4 L887.6,752.5 L888.3,752.0 L889.0,752.1 L889.7,752.7 L890.4,753.7 L891.1,754.9 L891.8,756.1 L892.5,757.0 L893.2,757.3 L893.9,757.2 L894.6,756.5 L895.3,755.5 L896.0,754.4 L896.7,753.5 L897.4,753.1 L898.1,753.2 L898.8,753.9 L899.5,755.0 L900.2,756.2 L900.9,757.4 L901.6,758.2 L902.3,758.4 L903.0,758.2 L903.7,757.4 L904.4,756.4 L905.1,755.3 L905.8,754.5 L906.5,754.2 L907.2,754.4 L907.9,755.1 L908.6,756.2 L909.3,757.5 L910.0,758.6 L910.7,759.3 L911.4,759.5 L912.1,759.2 L912.8,758.4 L913.5,757.3 L914.2,756.3 L914.9,755.5 L915.6,755.2 L916.3,755.5 L917.0,756.3 L917.7,757.5 L918.4,758.7 L919.1,759.8 L919.8,760.4 L920.5,760.6 L921.2,760.1 L921.9,759.3 L922.6,758.2 L923.3,757.2 L924.0,756.5 L924.7,756.3 L925.4,756.7 L926.1,757.5 L926.8,758.7 L927.5,759.9 L928.2,760.9 L928.9,761.5 L929.6,761.6 L930.3,761.1 L931.0,760.2 L931.7,759.1 L932.4,758.1 L933.1,757.5 L933.8,757.3 L934.5,757.8 L935.2,758.7 L935.9,759.9 L936.6,761.1 L937.3,762.1 L938.0,762.6 L938.7,762.5 L939.4,762.0 L940.1,761.0 L940.8,759.9 L941.5,759.0 L942.2,758.4 L942.9,758.4 L943.6,758.9 L944.3,759.8 L945.0,761.0 L945.7,762.2 L946.4,763.1 L947.1,763.6 L947.8,763.4 L948.5,762.8 L949.2,761.8 L949.9,760.7 L950.6,759.8 L951.3,759.3 L952.0,759.4 L952.7,759.9 L953.4,760.9 L954.1,762.2 L954.8,763.3 L955.5,764.2 L956.2,764.5 L956.9,764.3 L957.6,763.6 L958.3,762.6 L959.0,761.5 L959.7,760.7 L960.4,760.2 L961.1,760.3 L961.8,761.0 L962.5,762.0 L963.2,763.3 L963.9,764.4 L964.6,765.2 L965.3,765.5 L966.0,765.2 L966.7,764.4 L967.4,763.4 L968.1,762.3 L968.8,761.5 L969.5,761.1 L970.2,761.3 L970.9,762.0 L971.6,763.1 L972.3,764.3 L973.0,765.4 L973.7,766.2 L974.4,766.3 L975.1,766.0 L975.8,765.2 L976.5,764.1 L977.2,763.0 L977.9,762.3 L978.6,762.0 L979.3,762.3 L980.0,763.0 L980.7,764.2 L981.4,765.4 L982.1,766.4 L982.8,767.1 L983.5,767.2 L984.2,766.8 L984.9,765.9 L985.6,764.8 L986.3,763.8 L987.0,763.1 L987.7,762.9 L988.4,763.2 L989.1,764.1 L989.8,765.2 L990.5,766.4 L991.2,767.4 L991.9,768.0 L992.6,768.0 L993.3,767.5 L994.0,766.6 L994.7,765.5 L995.4,764.5 L996.1,763.9 L996.8,763.7 L997.5,764.2 L998.2,765.1 L998.9,766.2 L999.6,767.4 L1000.3,768.4 L1001.0,768.9 L1001.7,768.8 L1002.4,768.3 L1003.1,767.3 L1003.8,766.2 L1004.5,765.2 L1005.2,764.7 L1005.9,764.6 L1006.6,765.1 L1007.3,766.0 L1008.0,767.2 L1008.7,768.4 L1009.4,769.3 L1010.1,769.8 L1010.8,769.6 L1011.5,769.0 L1012.2,768.0 L1012.9,766.9 L1013.6,766.0 L1014.3,765.4 L1015.0,765.5 L1015.7,766.0 L1016.4,767.0 L1017.1,768.2 L1017.8,769.4 L1018.5,770.2 L1019.2,770.6 L1019.9,770.4 L1020.6,769.7 L1021.3,768.6 L1022.0,767.5 L1022.7,766.7 L1023.4,766.2 L1024.1,766.3 L1024.8,767.0 L1025.5,768.0 L1026.2,769.2 L1026.9,770.4 L1027.6,771.1 L1028.3,771.4 L1029.0,771.1 L1029.7,770.3 L1030.4,769.3 L1031.1,768.2 L1031.8,767.4 L1032.5,767.0 L1033.2,767.2 L1033.9,767.9 L1034.6,769.0 L1035.3,770.2 L1036.0,771.3 L1036.7,772.0 L1037.4,772.2 L1038.1,771.8 L1038.8,771.0 L1039.5,769.9 L1040.2,768.8 L1040.9,768.1 L1041.6,767.8 L1042.3,768.0 L1043.0,768.8 L1043.7,769.9 L1044.4,771.1 L1045.1,772.2 L1045.8,772.8 L1046.5,772.9 L1047.2,772.5 L1047.9,771.6 L1048.6,770.5 L1049.3,769.5 L1050.0,768.8 L1050.7,768.5 L1051.4,768.9 L1052.1,769.7 L1052.8,770.9 L1053.5,772.1 L1054.2,773.1 L1054.9,773.7 L1055.6,773.7 L1056.3,773.1 L1057.0,772.2 L1057.7,771.1 L1058.4,770.1 L1059.1,769.5 L1059.8,769.3 L1060.5,769.7 L1061.2,770.6 L1061.9,771.8 L1062.6,773.0 L1063.3,774.0 L1064.0,774.4 L1064.7,774.4 L1065.4,773.8 L1066.1,772.8 L1066.8,771.7 L1067.5,770.8 L1068.2,770.2 L1068.9,770.1 L1069.6,770.6 L1070.3,771.5 L1071.0,772.7 L1071.7,773.9 L1072.4,774.8 L1073.1,775.2 L1073.8,775.1 L1074.5,774.4 L1075.2,773.4 L1075.9,772.3 L1076.6,771.4 L1077.3,770.9 L1078.0,770.9 L1078.7,771.4 L1079.4,772.4 L1080.1,773.6 L1080.8,774.8 L1081.5,775.6 L1082.2,776.0 L1082.9,775.7 L1083.6,775.0 L1084.3,774.0 L1085.0,772.9 L1085.7,772.0 L1086.4,771.6 L1087.1,771.7 L1087.8,772.3 L1088.5,773.3 L1089.2,774.6 L1089.9,775.7 L1090.6,776.4 L1091.3,776.7 L1092.0,776.4 L1092.7,775.6 L1093.4,774.6 L1094.1,773.5 L1094.8,772.9 L1095.5,772.9 L1096.2,773.3 L1096.9,773.9 L1097.6,774.6 L1098.3,775.0 L1099.0,775.2 L1099.7,775.1 L1100.4,775.3 L1101.1,775.6 L1101.8,775.5 L1102.5,775.2 L1103.2,774.4 L1103.9,773.6 L1104.6,773.0 L1105.3,773.0 L1106.0,773.6 L1106.7,775.0 L1107.4,776.5 L1108.1,777.8 L1108.8,778.6 L1109.5,778.7 L1110.2,778.1 L1110.9,777.0 L1111.6,775.6 L1112.3,774.3 L1113.0,773.4 L1113.7,773.1 L1114.4,773.5 L1115.1,774.5 L1115.8,775.9 L1116.5,777.4 L1117.2,778.6 L1117.9,779.3 L1118.6,779.3 L1119.3,778.7 L1120.0,777.5 L1120.7,776.1 L1121.4,774.8 L1122.1,774.0 L1122.8,773.8 L1123.5,774.3 L1124.2,775.4 L1124.9,776.8 L1125.6,778.3 L1126.3,779.5 L1127.0,780.1 L1127.7,780.0 L1128.4,779.2 L1129.1,778.0 L1129.8,776.6 L1130.5,775.4 L1131.2,774.6 L1131.9,774.5 L1132.6,775.1 L1133.3,776.3 L1134.0,777.7 L1134.7,779.2 L1135.4,780.3 L1136.1,780.8 L1136.8,780.6 L1137.5,779.8 L1138.2,778.5 L1138.9,777.1 L1139.6,775.9 L1140.3,775.2 L1141.0,775.2 L1141.7,775.9 L1142.4,777.2 L1143.1,778.6 L1143.8,780.1 L1144.5,781.1 L1145.2,781.5 L1145.9,781.2 L1146.6,780.3 L1147.3,779.0 L1148.0,777.6 L1148.7,776.5 L1149.4,775.9 L1150.1,776.0 L1150.8,776.7 L1151.5,778.0 L1152.2,779.5 L1152.9,780.9 L1153.6,781.9 L1154.3,782.2 L1155.0,781.8 L1155.7,780.8 L1156.4,779.4 L1157.1,778.1 L1157.8,777.0 L1158.5,776.5 L1159.2,776.7 L1159.9,777.6 L1160.6,778.9 L1161.3,780.4 L1162.0,781.7 L1162.7,782.6 L1163.4,782.8 L1164.1,782.3 L1164.8,781.3 L1165.5,779.9 L1166.2,778.5 L1166.9,777.5 L1167.6,777.2 L1168.3,777.5 L1169.0,778.4 L1169.7,779.8 L1170.4,781.3 L1171.1,782.6 L1171.8,783.3 L1172.5,783.4 L1173.2,782.8 L1173.9,781.7 L1174.6,780.3 L1175.3,779.0 L1176.0,778.1 L1176.7,777.8 L1177.4,778.2 L1178.1,779.2 L1178.8,780.6 L1179.5,782.1 L1180.2,783.4 L1180.9,784.0 L1181.6,784.0 L1182.3,783.4 L1183.0,782.2 L1183.7,780.8 L1184.4,779.5 L1185.1,778.7 L1185.8,778.5 L1186.5,779.0 L1187.2,780.0 L1187.9,781.5 L1188.6,783.0 L1189.3,784.1 L1190.0,784.7 L1190.7,784.6 L1191.4,783.9 L1192.1,782.6 L1192.8,781.2 L1193.5,780.0 L1194.2,779.2 L1194.9,779.1 L1195.6,779.7 L1196.3,780.9 L1197.0,782.3 L1197.7,783.8 L1198.4,784.9 L1199.1,785.4 L1199.8,785.2 L1200.5,784.3 L1201.2,783.0 L1201.9,781.6 L1202.6,780.5 L1203.3,779.8 L1204.0,779.8 L1204.7,780.5 L1205.4,781.7 L1206.1,783.2 L1206.8,784.6 L1207.5,785.6 L1208.2,786.0 L1208.9,785.7 L1209.6,784.8 L1210.3,783.5 L1211.0,782.1 L1211.7,780.9 L1212.4,780.4 L1213.1,780.5 L1213.8,781.2 L1214.5,782.5 L1215.2,784.0 L1215.9,785.4 L1216.6,786.3 L1217.3,786.6 L1218.0,786.2 L1218.7,785.2 L1219.4,783.9 L1220.1,782.5 L1220.8,781.4 L1221.5,780.9 L1222.2,781.1 L1222.9,782.0 L1223.6,783.3 L1224.3,784.8 L1225.0,786.1 L1225.7,787.0 L1226.4,787.2 L1227.1,786.7 L1227.8,785.6 L1228.5,784.3 L1229.2,782.9 L1229.9,781.9 L1230.6,781.5 L1231.3,781.8 L1232.0,782.8 L1232.7,784.1 L1233.4,785.6 L1234.1,786.9 L1234.8,787.7 L1235.5,787.8 L1236.2,787.2 L1236.9,786.0 L1237.6,784.7 L1238.3,783.3 L1239.0,782.4 L1239.7,782.1 L1240.4,782.5 L1241.1,783.5 L1241.8,784.9 L1242.5,786.4 L1243.2,787.6 L1243.9,788.3 L1244.6,788.3 L1245.3,787.6 L1246.0,786.4 L1246.7,785.0 L1247.4,783.7 L1248.1,782.9 L1248.8,782.7 L1249.5,783.2 L1250.2,784.3 L1250.9,785.7 L1251.6,787.2 L1252.3,788.3 L1253.0,788.9 L1253.7,788.8 L1254.4,788.0 L1255.1,786.8 L1255.8,785.4 L1256.5,784.2 L1257.2,783.4 L1257.9,783.3 L1258.6,783.9 L1259.3,785.0 L1260.0,786.5 L1260.7,787.9 L1261.4,789.0 L1262.1,789.5 L1262.8,789.3 L1263.5,788.3 L1264.2,787.1 L1264.9,786.1 L1265.6,785.5 L1266.3,785.5 L1267.0,785.9 L1267.7,786.4 L1268.4,786.8" stroke="#43682B"/>
<path d="M840.0,745.5 L844.0,746.0 L848.0,746.5 L852.0,747.0 L856.0,747.5 L860.0,748.0 L864.0,748.5 L868.0,749.0 L872.0,749.4 L876.0,749.9 L880.0,750.4 L884.0,750.9 L888.0,751.4 L892.0,751.9 L896.0,752.3 L900.0,752.8 L904.0,753.3 L908.0,753.8 L912.0,754.2 L916.0,754.7 L920.0,755.1 L924.0,755.6 L928.0,756.0 L932.0,756.5 L936.0,756.9 L940.0,757.3 L944.0,757.8 L948.0,758.2 L952.0,758.6 L956.0,759.0 L960.0,759.4 L964.0,759.8 L968.0,760.2 L972.0,760.6 L976.0,760.9 L980.0,761.3 L984.0,761.7 L988.0,762.1 L992.0,762.4 L996.0,762.8 L1000.0,763.2 L1004.0,763.5 L1008.0,763.9 L1012.0,764.2 L1016.0,764.6 L1020.0,764.9 L1024.0,765.3 L1028.0,765.6 L1032.0,766.0 L1036.0,766.3 L1040.0,766.6 L1044.0,767.0 L1048.0,767.3 L1052.0,767.6 L1056.0,768.0 L1060.0,768.3 L1064.0,768.6 L1068.0,768.9 L1072.0,769.2 L1076.0,769.6 L1080.0,769.9 L1084.0,770.2 L1088.0,770.5 L1092.0,770.8 L1096.0,771.1 L1100.0,771.4 L1104.0,771.7 L1108.0,772.0 L1112.0,772.3 L1116.0,772.6 L1120.0,772.9 L1124.0,773.2 L1128.0,773.5 L1132.0,773.8 L1136.0,774.1 L1140.0,774.4 L1144.0,774.7 L1148.0,775.0 L1152.0,775.3 L1156.0,775.5 L1160.0,775.8 L1164.0,776.1 L1168.0,776.4 L1172.0,776.7 L1176.0,776.9 L1180.0,777.2 L1184.0,777.5 L1188.0,777.8 L1192.0,778.0 L1196.0,778.3 L1200.0,778.6 L1204.0,778.8 L1208.0,779.1 L1212.0,779.3 L1216.0,779.6 L1220.0,779.9 L1224.0,780.1 L1228.0,780.4 L1232.0,780.6 L1236.0,780.9 L1240.0,781.1 L1244.0,781.3 L1248.0,781.6 L1252.0,781.8 L1256.0,782.1 L1260.0,782.3 L1264.0,782.5 L1268.0,782.8" stroke="#7CAFDD" stroke-width="6.4"/>
<path d="M209.4,-30.0 L209.4,-17.4 L209.5,-5.0 L209.5,7.4 L209.6,19.4 L209.6,31.1 L209.6,42.4 L209.7,53.0 L209.7,63.1 L209.7,72.4 L209.8,80.9 L209.8,88.4 L209.9,94.9 L209.9,100.3 L209.9,105.1 L210.0,109.7 L210.0,114.2 L210.1,118.5 L210.1,122.6 L210.1,126.5 L210.2,130.3 L210.2,134.0 L210.3,137.4 L210.3,140.8 L210.3,143.9 L210.4,146.9 L210.4,149.8 L210.4,152.4 L210.5,155.0 L210.5,157.3 L210.6,159.6 L210.6,161.6 L210.6,163.6 L210.7,165.3 L210.7,166.9 L210.8,168.4 L210.8,169.7 L210.8,170.9 L210.9,172.1 L210.9,173.3 L210.9,174.5 L211.0,175.7 L211.0,176.8 L211.1,177.9 L211.1,179.0 L211.1,180.1 L211.2,181.2 L211.2,182.3 L211.3,183.3 L211.3,184.4 L211.3,185.4 L211.4,186.4 L211.4,187.4 L211.4,188.3 L211.5,189.3 L211.5,190.2 L211.6,191.2 L211.6,192.1 L211.6,192.9 L211.7,193.8 L211.7,194.7 L211.8,195.5 L211.8,196.3 L211.8,197.1 L211.9,197.9 L211.9,198.6 L212.0,199.4 L212.0,200.1 L212.0,200.8 L212.1,201.5 L212.1,202.1 L212.1,202.8 L212.2,203.4 L212.2,204.0 L212.3,204.6 L212.3,205.1 L212.3,205.7 L212.4,206.2 L212.4,206.7 L212.5,207.1 L212.5,207.6 L212.5,208.0 L212.6,208.4 L212.6,208.8 L212.6,209.2 L212.7,209.5 L212.7,209.8 L212.8,210.1 L212.8,210.4 L212.8,210.6 L212.9,210.8 L212.9,211.0 L213.0,211.2 L213.0,211.3 L213.0,211.5 L213.1,211.6 L213.1,211.6 L213.1,211.7 L213.2,211.7 L213.2,211.7 L213.3,211.7 L213.3,211.6 L213.3,211.6 L213.4,211.5 L213.4,211.5 L213.5,211.4 L213.5,211.3 L213.5,211.2 L213.6,211.0 L213.6,210.9 L213.7,210.7 L213.7,210.6 L213.7,210.4 L213.8,210.2 L213.8,210.0 L213.8,209.8 L213.9,209.6 L213.9,209.4 L214.0,209.2 L214.0,209.0 L214.2,207.3 L214.9,201.9 L215.6,196.4 L216.3,189.8 L217.0,182.4 L217.7,174.9 L218.4,167.9 L219.1,161.6 L219.8,155.5 L220.5,149.6 L221.2,143.8 L221.9,138.4 L222.6,133.2 L223.3,128.4 L224.0,123.9 L224.7,119.8 L225.4,116.3 L226.1,113.3 L226.8,111.8 L227.5,111.3 L228.2,112.3 L228.9,114.1 L229.6,116.7 L230.3,120.1 L231.0,124.2 L231.7,128.5 L232.4,132.8 L233.1,137.3 L233.8,141.9 L234.5,146.5 L235.2,150.7 L235.9,154.8 L236.6,158.8 L237.3,162.8 L238.0,166.7 L238.7,170.5 L239.4,174.4 L240.1,178.4 L240.8,182.4 L241.5,186.5 L242.2,190.7 L242.9,194.9 L243.6,199.0 L244.3,203.2 L245.0,207.4 L245.7,211.6 L246.4,215.8 L247.1,219.9 L247.8,224.0 L248.5,228.1 L249.2,232.2 L249.9,236.2 L250.6,240.3 L251.3,244.3 L252.0,248.4 L252.7,252.4 L253.4,256.4 L254.1,260.5 L254.8,264.5 L255.5,268.5 L256.2,272.5 L256.9,276.5 L257.6,280.5 L258.3,284.5 L259.0,288.5 L259.7,292.5 L260.4,296.6 L261.1,300.7 L261.8,304.7 L262.5,308.8 L263.2,312.7 L263.9,316.7 L264.6,320.5 L265.3,324.3 L266.0,328.0 L266.7,331.6 L267.4,335.3 L268.1,338.8 L268.8,342.4 L269.5,345.9 L270.2,349.4 L270.9,352.9 L271.6,356.5 L272.3,360.0 L273.0,363.5 L273.7,367.0 L274.4,370.5 L275.1,373.9 L275.8,377.3 L276.5,380.6 L277.2,383.8 L277.9,387.0 L278.6,390.2 L279.3,393.4 L280.0,396.4 L280.7,399.4 L281.4,402.4 L282.1,405.1 L282.8,407.8 L283.5,410.3 L284.2,412.8 L284.9,415.1 L285.6,417.4 L286.3,419.6 L287.0,421.8 L287.7,423.9 L288.4,426.1 L289.1,428.3 L289.8,430.4 L290.5,432.5 L291.2,434.6 L291.9,436.7 L292.6,438.7 L293.3,440.8 L294.0,442.8 L294.7,444.9 L295.4,446.9 L296.1,449.0 L296.8,451.0 L297.5,453.1 L298.2,455.1 L298.9,457.1 L299.6,459.1 L300.3,461.0 L301.0,462.9 L301.7,464.8 L302.4,466.7 L303.1,468.5 L303.8,470.3 L304.5,472.0 L305.2,473.8 L305.9,475.5 L306.6,477.2 L307.3,478.8 L308.0,480.5 L308.7,482.1 L309.4,483.6 L310.1,485.2 L310.8,486.7 L311.5,488.2 L312.2,489.7 L312.9,491.2 L313.6,492.7 L314.3,494.1 L315.0,495.5 L315.7,496.9 L316.4,498.3 L317.1,499.7 L317.8,501.0 L318.5,502.4 L319.2,503.7 L319.9,505.0 L320.6,506.2 L321.3,507.5 L322.0,508.7 L322.7,510.0 L323.4,511.2 L324.1,512.4 L324.8,513.6 L325.5,514.8 L326.2,516.0 L326.9,517.2 L327.6,518.4 L328.3,519.6 L329.0,520.8 L329.7,521.9 L330.4,523.1 L331.1,524.3 L331.8,525.4 L332.5,526.5 L333.2,527.7 L333.9,528.8 L334.6,529.9 L335.3,531.1 L336.0,532.2 L336.7,533.2 L337.4,534.3 L338.1,535.4 L338.8,536.4 L339.5,537.5 L340.2,538.5 L340.9,539.5 L341.6,540.6 L342.3,541.6 L343.0,542.6 L343.7,543.5 L344.4,544.5 L345.1,545.5 L345.8,546.4 L346.5,547.4 L347.2,548.3 L347.9,549.3 L348.6,550.2 L349.3,551.2 L350.0,552.2 L350.7,553.2 L351.4,554.2 L352.1,555.1 L352.8,556.1 L353.5,557.1 L354.2,558.1 L354.9,559.1 L355.6,560.1 L356.3,561.1 L357.0,562.1 L357.7,563.1 L358.4,564.1 L359.1,565.1 L359.8,566.0 L360.5,567.0 L361.2,567.9 L361.9,568.8 L362.6,569.7 L363.3,570.6 L364.0,571.5 L364.7,572.4 L365.4,573.2 L366.1,574.1 L366.8,574.9 L367.5,575.7 L368.2,576.5 L368.9,577.4 L369.6,578.2 L370.3,578.9 L371.0,579.7 L371.7,580.5 L372.4,581.3 L373.1,582.1 L373.8,582.8 L374.5,583.6 L375.2,584.4 L375.9,585.1 L376.6,585.9 L377.3,586.6 L378.0,587.4 L378.7,588.1 L379.4,588.8 L380.1,589.6 L380.8,590.3 L381.5,591.0 L382.2,591.7 L382.9,592.4 L383.6,593.1 L384.3,593.8 L385.0,594.5 L385.7,595.2 L386.4,595.8 L387.1,596.5 L387.8,597.2 L388.5,597.8 L389.2,598.5 L389.9,599.1 L390.6,599.8 L391.3,600.4 L392.0,601.1 L392.7,601.7 L393.4,602.3 L394.1,602.9 L394.8,603.6 L395.5,604.2 L396.2,604.8 L396.9,605.4 L397.6,606.0 L398.3,606.6 L399.0,607.2 L399.7,607.8 L400.4,608.4 L401.1,609.0 L401.8,609.6 L402.5,610.2 L403.2,610.8 L403.9,611.4 L404.6,611.9 L405.3,612.5 L406.0,613.1 L406.7,613.7 L407.4,614.2 L408.1,614.8 L408.8,615.4 L409.5,615.9 L410.2,616.5 L410.9,617.1 L411.6,617.7 L412.3,618.2 L413.0,618.8 L413.7,619.4 L414.4,619.9 L415.1,620.5 L415.8,621.0 L416.5,621.7 L417.2,622.5 L417.9,623.2 L418.6,623.6 L419.3,623.8 L420.0,623.8 L420.7,624.0 L421.4,624.7 L422.1,625.7 L422.8,626.9 L423.5,628.0 L424.2,628.6 L424.9,628.9 L425.6,628.8 L426.3,628.7 L427.0,628.8 L427.7,629.3 L428.4,630.2 L429.1,631.3 L429.8,632.4 L430.5,633.1 L431.2,633.4 L431.9,633.3 L432.6,633.1 L433.3,633.1 L434.0,633.4 L434.7,634.2 L435.4,635.2 L436.1,636.3 L436.8,637.1 L437.5,637.5 L438.2,637.5 L438.9,637.3 L439.6,637.1 L440.3,637.3 L441.0,637.9 L441.7,638.9 L442.4,640.0 L443.1,640.9 L443.8,641.4 L444.5,641.4 L445.2,641.2 L445.9,641.0 L446.6,641.0 L447.3,641.5 L448.0,642.4 L448.7,643.4 L449.4,644.4 L450.1,645.0 L450.8,645.1 L451.5,644.9 L452.2,644.7 L452.9,644.6 L453.6,644.9 L454.3,645.7 L455.0,646.7 L455.7,647.7 L456.4,648.3 L457.1,648.6 L457.8,648.5 L458.5,648.2 L459.2,648.0 L459.9,648.2 L460.6,648.8 L461.3,649.7 L462.0,650.7 L462.7,651.5 L463.4,651.9 L464.1,651.8 L464.8,651.5 L465.5,651.3 L466.2,651.3 L466.9,651.8 L467.6,652.6 L468.3,653.6 L469.0,654.5 L469.7,655.0 L470.4,655.0 L471.1,654.7 L471.8,654.4 L472.5,654.3 L473.2,654.7 L473.9,655.4 L474.6,656.4 L475.3,657.3 L476.0,657.9 L476.7,658.0 L477.4,657.8 L478.1,657.4 L478.8,657.3 L479.5,657.5 L480.2,658.1 L480.9,659.0 L481.6,660.0 L482.3,660.6 L483.0,660.9 L483.7,660.7 L484.4,660.4 L485.1,660.1 L485.8,660.2 L486.5,660.7 L487.2,661.5 L487.9,662.5 L488.6,663.2 L489.3,663.6 L490.0,663.5 L490.7,663.2 L491.4,662.9 L492.1,662.8 L492.8,663.2 L493.5,663.9 L494.2,664.9 L494.9,665.7 L495.6,666.2 L496.3,666.2 L497.0,665.9 L497.7,665.5 L498.4,665.4 L499.1,665.6 L499.8,666.2 L500.5,667.1 L501.2,668.0 L501.9,668.6 L502.6,668.8 L503.3,668.5 L504.0,668.1 L504.7,667.9 L505.4,668.0 L506.1,668.5 L506.8,669.4 L507.5,670.3 L508.2,671.0 L508.9,671.2 L509.6,671.1 L510.3,670.7 L511.0,670.4 L511.7,670.3 L512.4,670.7 L513.1,671.5 L513.8,672.4 L514.5,673.2 L515.2,673.6 L515.9,673.6 L516.6,673.2 L517.3,672.8 L518.0,672.7 L518.7,672.9 L519.4,673.6 L520.1,674.5 L520.8,675.4 L521.5,675.9 L522.2,675.9 L522.9,675.7 L523.6,675.2 L524.3,675.0 L525.0,675.1 L525.7,675.7 L526.4,676.6 L527.1,677.4 L527.8,678.1 L528.5,678.3 L529.2,678.0 L529.9,677.6 L530.6,677.3 L531.3,677.3 L532.0,677.8 L532.7,678.5 L533.4,679.4 L534.1,680.2 L534.8,680.5 L535.5,680.4 L536.2,680.0 L536.9,679.6 L537.6,679.5 L538.3,679.8 L539.0,680.5 L539.7,681.4 L540.4,682.2 L541.1,682.6 L541.8,682.6 L542.5,682.3 L543.2,681.9 L543.9,681.6 L544.6,681.8 L545.3,682.4 L546.0,683.3 L546.7,684.1 L547.4,684.7 L548.1,684.8 L548.8,684.5 L549.5,684.1 L550.2,683.8 L550.9,683.8 L551.6,684.3 L552.3,685.1 L553.0,686.0 L553.7,686.7 L554.4,686.9 L555.1,686.7 L555.8,686.3 L556.5,685.9 L557.2,685.8 L557.9,686.2 L558.6,686.9 L559.3,687.8 L560.0,688.6 L560.7,688.9 L561.4,688.8 L562.1,688.4 L562.8,688.0 L563.5,687.8 L564.2,688.1 L564.9,688.7 L565.6,689.6 L566.3,690.4 L567.0,690.9 L567.7,690.9 L568.4,690.6 L569.1,690.1 L569.8,689.8 L570.5,689.9 L571.2,690.5 L571.9,691.3 L572.6,692.1 L573.3,692.7 L574.0,692.9 L574.7,692.6 L575.4,692.2 L576.1,691.8 L576.8,691.8 L577.5,692.2 L578.2,693.0 L578.9,693.8 L579.6,694.5 L580.3,694.8 L581.0,694.6 L581.7,694.2 L582.4,693.8 L583.1,693.7 L583.8,693.9 L584.5,694.6 L585.2,695.5 L585.9,696.2 L586.6,696.6 L587.3,696.6 L588.0,696.2 L588.7,695.8 L589.4,695.5 L590.1,695.7 L590.8,696.3 L591.5,697.1 L592.2,697.9 L592.9,698.4 L593.6,698.5 L594.3,698.2 L595.0,697.7 L595.7,697.4 L596.4,697.4 L597.1,697.9 L597.8,698.7 L598.5,699.5 L599.2,700.2 L599.9,700.4 L600.6,700.2 L601.3,699.7 L602.0,699.3 L602.7,699.2 L603.4,699.5 L604.1,700.3 L604.8,701.1 L605.5,701.8 L606.2,702.2 L606.9,702.1 L607.6,701.6 L608.3,701.2 L609.0,701.0 L609.7,701.2 L610.4,701.8 L611.1,702.6 L611.8,703.4 L612.5,703.9 L613.2,703.9 L613.9,703.6 L614.6,703.1 L615.3,702.8 L616.0,702.8 L616.7,703.4 L617.4,704.2 L618.1,705.0 L618.8,705.5 L619.5,705.7 L620.2,705.4 L620.9,704.9 L621.6,704.6 L622.3,704.5 L623.0,704.9 L623.7,705.6 L624.4,706.5 L625.1,707.1 L625.8,707.4 L626.5,707.2 L627.2,706.8 L627.9,706.4 L628.6,706.2 L629.3,706.4 L630.0,707.1 L630.7,707.9 L631.4,708.7 L632.1,709.1 L632.8,709.0 L633.5,708.6 L634.2,708.1 L634.9,707.9 L635.6,708.0 L636.3,708.6 L637.0,709.4 L637.7,710.2 L638.4,710.7 L639.1,710.7 L639.8,710.4 L640.5,709.9 L641.2,709.6 L641.9,709.6 L642.6,710.0 L643.3,710.8 L644.0,711.6 L644.7,712.2 L645.4,712.4 L646.1,712.1 L646.8,711.7 L647.5,711.2 L648.2,711.1 L648.9,711.4 L649.6,712.1 L650.3,712.9 L651.0,713.6 L651.7,713.9 L652.4,713.8 L653.1,713.4 L653.8,712.9 L654.5,712.7 L655.2,712.9 L655.9,713.4 L656.6,714.3 L657.3,715.0 L658.0,715.4 L658.7,715.4 L659.4,715.1 L660.1,714.6 L660.8,714.2 L661.5,714.3 L662.2,714.8 L662.9,715.5 L663.6,716.3 L664.3,716.9 L665.0,717.0 L665.7,716.7 L666.4,716.2 L667.1,715.8 L667.8,715.7 L668.5,716.1 L669.2,716.8 L669.9,717.6 L670.6,718.2 L671.3,718.5 L672.0,718.3 L672.7,717.8 L673.4,717.3 L674.1,717.1 L674.8,717.4 L675.5,718.0 L676.2,718.8 L676.9,719.5 L677.6,719.9 L678.3,719.8 L679.0,719.4 L679.7,718.9 L680.4,718.6 L681.1,718.7 L681.8,719.2 L682.5,720.0 L683.2,720.7 L683.9,721.2 L684.6,721.3 L685.3,720.9 L686.0,720.4 L686.7,720.0 L687.4,720.0 L688.1,720.4 L688.8,721.1 L689.5,721.9 L690.2,722.5 L690.9,722.7 L691.6,722.4 L692.3,721.9 L693.0,721.4 L693.7,721.3 L694.4,721.6 L695.1,722.3 L695.8,722.9 L696.5,723.4 L697.2,723.5 L697.9,723.4 L698.6,723.3 L699.3,723.4 L700.0,723.6 L700.7,723.6 L701.4,723.8 L702.1,724.0 L702.8,724.4 L703.5,724.7 L704.2,725.0 L704.9,725.1 L705.6,725.1 L706.3,724.9 L707.0,724.7 L707.7,724.5 L708.4,724.5 L709.1,724.6 L709.8,725.0 L710.5,725.4 L711.2,725.9 L711.9,726.4 L712.6,726.8 L713.3,727.0 L714.0,727.0 L714.7,726.9 L715.4,726.7 L716.1,726.4 L716.8,726.2 L717.5,726.2 L718.2,726.4 L718.9,726.8 L719.6,727.2 L720.3,727.8 L721.0,728.2 L721.7,728.6 L722.4,728.8 L723.1,728.7 L723.8,728.6 L724.5,728.3 L725.2,728.1 L725.9,727.9 L726.6,728.0 L727.3,728.1 L728.0,728.5 L728.7,729.0 L729.4,729.5 L730.1,730.0 L730.8,730.3 L731.5,730.4 L732.2,730.4 L732.9,730.2 L733.6,729.9 L734.3,729.7 L735.0,729.6 L735.7,729.6 L736.4,729.8 L737.1,730.2 L737.8,730.7 L738.5,731.2 L739.2,731.6 L739.9,731.9 L740.6,732.0 L741.3,732.0 L742.0,731.8 L742.7,731.5 L743.4,731.3 L744.1,731.2 L744.8,731.2 L745.5,731.5 L746.2,731.9 L746.9,732.3 L747.6,732.8 L748.3,733.3 L749.0,733.5 L749.7,733.6 L750.4,733.5 L751.1,733.3 L751.8,733.0 L752.5,732.8 L753.2,732.7 L753.9,732.8 L754.6,733.0 L755.3,733.4 L756.0,733.9 L756.7,734.4 L757.4,734.8 L758.1,735.0 L758.8,735.1 L759.5,735.0 L760.2,734.7 L760.9,734.4 L761.6,734.2 L762.3,734.1 L763.0,734.2 L763.7,734.5 L764.4,734.9 L765.1,735.4 L765.8,735.9 L766.5,736.3 L767.2,736.5 L767.9,736.5 L768.6,736.3 L769.3,736.1 L770.0,735.8 L770.7,735.6 L771.4,735.5 L772.1,735.7 L772.8,736.0 L773.5,736.4 L774.2,736.9 L774.9,737.3 L775.6,737.7 L776.3,737.9 L777.0,737.8 L777.7,737.7 L778.4,737.4 L779.1,737.1 L779.8,736.9 L780.5,736.9 L781.2,737.0 L781.9,737.3 L782.6,737.8 L783.3,738.3 L784.0,738.7 L784.7,739.0 L785.4,739.1 L786.1,739.1 L786.8,738.9 L787.5,738.6 L788.2,738.3 L788.9,738.2 L789.6,738.1 L790.3,738.3 L791.0,738.6 L791.7,739.1 L792.4,739.6 L793.1,740.0 L793.8,740.3 L794.5,740.4 L795.2,740.3 L795.9,740.1 L796.6,739.8 L797.3,739.5 L798.0,739.3 L798.7,739.3 L799.4,739.5 L800.1,739.9 L800.8,740.3 L801.5,740.8 L802.2,741.2 L802.9,741.5 L803.6,741.5 L804.3,741.4 L805.0,741.2 L805.7,740.9 L806.4,740.6 L807.1,740.5 L807.8,740.5 L808.5,740.7 L809.2,741.1 L809.9,741.5 L810.6,742.0 L811.3,742.4 L812.0,742.6 L812.7,742.6 L813.4,742.5 L814.1,742.3 L814.8,742.0 L815.5,741.7 L816.2,741.6 L816.9,741.6 L817.6,741.9 L818.3,742.2 L819.0,742.7 L819.7,743.2 L820.4,743.5 L821.1,743.7 L821.8,743.7 L822.5,743.6 L823.2,743.3 L823.9,743.0 L824.6,742.8 L825.3,742.7 L826.0,742.7 L826.7,743.0 L827.4,743.4 L828.1,743.9 L828.8,744.3 L829.5,744.6 L830.2,744.8 L830.9,744.8 L831.6,744.6 L832.3,744.4 L833.0,744.1 L833.7,743.8 L834.4,743.8 L835.1,743.9 L835.8,744.1 L836.5,744.5 L837.2,745.0 L837.9,745.5 L838.6,745.8 L839.3,745.9 L840.0,745.9 L840.7,745.7 L841.4,745.4 L842.1,745.1 L842.8,744.9 L843.5,744.9 L844.2,745.0 L844.9,745.3 L845.6,745.7 L846.3,746.2 L847.0,746.6 L847.7,746.9 L848.4,747.0 L849.1,747.0 L849.8,746.8 L850.5,746.5 L851.2,746.2 L851.9,746.0 L852.6,746.0 L853.3,746.1 L854.0,746.5 L854.7,746.9 L855.4,747.3 L856.1,747.6 L856.8,747.7 L857.5,747.7 L858.2,747.6 L858.9,747.6 L859.6,747.6 L860.3,747.6 L861.0,747.5 L861.7,747.3 L862.4,747.3 L863.1,747.5 L863.8,748.0 L864.5,748.8 L865.2,749.7 L865.9,750.3 L866.6,750.4 L867.3,750.0 L868.0,749.3 L868.7,748.4 L869.4,747.6 L870.1,747.1 L870.8,747.0 L871.5,747.4 L872.2,748.2 L872.9,749.2 L873.6,750.2 L874.3,751.0 L875.0,751.5 L875.7,751.5 L876.4,751.0 L877.1,750.3 L877.8,749.4 L878.5,748.6 L879.2,748.1 L879.9,748.1 L880.6,748.6 L881.3,749.4 L882.0,750.4 L882.7,751.4 L883.4,752.2 L884.1,752.6 L884.8,752.5 L885.5,752.0 L886.2,751.2 L886.9,750.3 L887.6,749.6 L888.3,749.2 L889.0,749.3 L889.7,749.8 L890.4,750.6 L891.1,751.7 L891.8,752.7 L892.5,753.4 L893.2,753.7 L893.9,753.6 L894.6,753.0 L895.3,752.2 L896.0,751.3 L896.7,750.6 L897.4,750.3 L898.1,750.4 L898.8,750.9 L899.5,751.8 L900.2,752.9 L900.9,753.9 L901.6,754.5 L902.3,754.8 L903.0,754.6 L903.7,754.0 L904.4,753.1 L905.1,752.2 L905.8,751.6 L906.5,751.3 L907.2,751.5 L907.9,752.1 L908.6,753.0 L909.3,754.1 L910.0,755.0 L910.7,755.6 L911.4,755.8 L912.1,755.5 L912.8,754.9 L913.5,754.0 L914.2,753.2 L914.9,752.6 L915.6,752.3 L916.3,752.6 L917.0,753.3 L917.7,754.2 L918.4,755.3 L919.1,756.2 L919.8,756.7 L920.5,756.8 L921.2,756.5 L921.9,755.8 L922.6,754.9 L923.3,754.1 L924.0,753.5 L924.7,753.4 L925.4,753.7 L926.1,754.4 L926.8,755.4 L927.5,756.4 L928.2,757.3 L928.9,757.8 L929.6,757.8 L930.3,757.4 L931.0,756.7 L931.7,755.8 L932.4,755.0 L933.1,754.5 L933.8,754.4 L934.5,754.7 L935.2,755.5 L935.9,756.5 L936.6,757.5 L937.3,758.4 L938.0,758.8 L938.7,758.8 L939.4,758.3 L940.1,757.5 L940.8,756.6 L941.5,755.9 L942.2,755.4 L942.9,755.4 L943.6,755.8 L944.3,756.6 L945.0,757.6 L945.7,758.6 L946.4,759.4 L947.1,759.8 L947.8,759.7 L948.5,759.2 L949.2,758.3 L949.9,757.5 L950.6,756.7 L951.3,756.3 L952.0,756.3 L952.7,756.8 L953.4,757.7 L954.1,758.7 L954.8,759.7 L955.5,760.4 L956.2,760.7 L956.9,760.5 L957.6,760.0 L958.3,759.1 L959.0,758.2 L959.7,757.5 L960.4,757.2 L961.1,757.3 L961.8,757.8 L962.5,758.7 L963.2,759.8 L963.9,760.7 L964.6,761.4 L965.3,761.6 L966.0,761.4 L966.7,760.7 L967.4,759.9 L968.1,759.0 L968.8,758.3 L969.5,758.0 L970.2,758.2 L970.9,758.8 L971.6,759.7 L972.3,760.8 L973.0,761.7 L973.7,762.3 L974.4,762.5 L975.1,762.2 L975.8,761.5 L976.5,760.6 L977.2,759.8 L977.9,759.1 L978.6,758.9 L979.3,759.1 L980.0,759.8 L980.7,760.7 L981.4,761.8 L982.1,762.7 L982.8,763.2 L983.5,763.3 L984.2,762.9 L984.9,762.2 L985.6,761.3 L986.3,760.5 L987.0,759.9 L987.7,759.7 L988.4,760.0 L989.1,760.7 L989.8,761.7 L990.5,762.7 L991.2,763.6 L991.9,764.1 L992.6,764.1 L993.3,763.7 L994.0,762.9 L994.7,762.0 L995.4,761.2 L996.1,760.7 L996.8,760.6 L997.5,760.9 L998.2,761.7 L998.9,762.7 L999.6,763.7 L1000.3,764.5 L1001.0,764.9 L1001.7,764.9 L1002.4,764.4 L1003.1,763.6 L1003.8,762.7 L1004.5,761.9 L1005.2,761.5 L1005.9,761.4 L1006.6,761.8 L1007.3,762.6 L1008.0,763.7 L1008.7,764.6 L1009.4,765.4 L1010.1,765.8 L1010.8,765.7 L1011.5,765.1 L1012.2,764.3 L1012.9,763.4 L1013.6,762.6 L1014.3,762.2 L1015.0,762.2 L1015.7,762.7 L1016.4,763.6 L1017.1,764.6 L1017.8,765.6 L1018.5,766.3 L1019.2,766.6 L1019.9,766.4 L1020.6,765.8 L1021.3,765.0 L1022.0,764.1 L1022.7,763.3 L1023.4,763.0 L1024.1,763.1 L1024.8,763.6 L1025.5,764.5 L1026.2,765.5 L1026.9,766.5 L1027.6,767.1 L1028.3,767.3 L1029.0,767.1 L1029.7,766.5 L1030.4,765.6 L1031.1,764.7 L1031.8,764.0 L1032.5,763.7 L1033.2,763.9 L1033.9,764.5 L1034.6,765.4 L1035.3,766.4 L1036.0,767.3 L1036.7,767.9 L1037.4,768.1 L1038.1,767.8 L1038.8,767.1 L1039.5,766.2 L1040.2,765.4 L1040.9,764.7 L1041.6,764.5 L1042.3,764.7 L1043.0,765.4 L1043.7,766.3 L1044.4,767.3 L1045.1,768.2 L1045.8,768.7 L1046.5,768.8 L1047.2,768.5 L1047.9,767.7 L1048.6,766.8 L1049.3,766.0 L1050.0,765.4 L1050.7,765.2 L1051.4,765.5 L1052.1,766.2 L1052.8,767.2 L1053.5,768.2 L1054.2,769.0 L1054.9,769.5 L1055.6,769.6 L1056.3,769.1 L1057.0,768.4 L1057.7,767.5 L1058.4,766.6 L1059.1,766.1 L1059.8,766.0 L1060.5,766.3 L1061.2,767.1 L1061.9,768.1 L1062.6,769.1 L1063.3,769.9 L1064.0,770.3 L1064.7,770.2 L1065.4,769.8 L1066.1,769.0 L1066.8,768.1 L1067.5,767.3 L1068.2,766.8 L1068.9,766.7 L1069.6,767.1 L1070.3,767.9 L1071.0,768.9 L1071.7,769.9 L1072.4,770.7 L1073.1,771.0 L1073.8,770.9 L1074.5,770.4 L1075.2,769.6 L1075.9,768.6 L1076.6,767.9 L1077.3,767.4 L1078.0,767.5 L1078.7,767.9 L1079.4,768.8 L1080.1,769.8 L1080.8,770.8 L1081.5,771.5 L1082.2,771.8 L1082.9,771.6 L1083.6,771.0 L1084.3,770.1 L1085.0,769.2 L1085.7,768.5 L1086.4,768.1 L1087.1,768.2 L1087.8,768.8 L1088.5,769.6 L1089.2,770.6 L1089.9,771.6 L1090.6,772.2 L1091.3,772.5 L1092.0,772.2 L1092.7,771.6 L1093.4,770.7 L1094.1,769.8 L1094.8,769.1 L1095.5,768.8 L1096.2,769.0 L1096.9,769.6 L1097.6,770.5 L1098.3,771.5 L1099.0,772.4 L1099.7,773.0 L1100.4,773.1 L1101.1,772.8 L1101.8,772.1 L1102.5,771.2 L1103.2,770.4 L1103.9,769.7 L1104.6,769.5 L1105.3,769.7 L1106.0,770.4 L1106.7,771.3 L1107.4,772.3 L1108.1,773.2 L1108.8,773.7 L1109.5,773.8 L1110.2,773.4 L1110.9,772.7 L1111.6,771.8 L1112.3,770.9 L1113.0,770.3 L1113.7,770.2 L1114.4,770.4 L1115.1,771.1 L1115.8,772.1 L1116.5,773.1 L1117.2,774.0 L1117.9,774.4 L1118.6,774.4 L1119.3,774.0 L1120.0,773.2 L1120.7,772.3 L1121.4,771.5 L1122.1,771.0 L1122.8,770.8 L1123.5,771.2 L1124.2,771.9 L1124.9,772.9 L1125.6,773.9 L1126.3,774.7 L1127.0,775.1 L1127.7,775.1 L1128.4,774.6 L1129.1,773.8 L1129.8,772.9 L1130.5,772.1 L1131.2,771.6 L1131.9,771.5 L1132.6,771.9 L1133.3,772.7 L1134.0,773.7 L1134.7,774.7 L1135.4,775.5 L1136.1,775.8 L1136.8,775.7 L1137.5,775.1 L1138.2,774.3 L1138.9,773.4 L1139.6,772.6 L1140.3,772.2 L1141.0,772.2 L1141.7,772.7 L1142.4,773.5 L1143.1,774.5 L1143.8,775.5 L1144.5,776.2 L1145.2,776.5 L1145.9,776.3 L1146.6,775.7 L1147.3,774.8 L1148.0,773.9 L1148.7,773.2 L1149.4,772.8 L1150.1,772.9 L1150.8,773.4 L1151.5,774.3 L1152.2,775.3 L1152.9,776.3 L1153.6,776.9 L1154.3,777.1 L1155.0,776.9 L1155.7,776.2 L1156.4,775.3 L1157.1,774.4 L1157.8,773.8 L1158.5,773.4 L1159.2,773.6 L1159.9,774.2 L1160.6,775.1 L1161.3,776.1 L1162.0,777.0 L1162.7,777.6 L1163.4,777.7 L1164.1,777.4 L1164.8,776.7 L1165.5,775.8 L1166.2,775.0 L1166.9,774.3 L1167.6,774.1 L1168.3,774.3 L1169.0,774.9 L1169.7,775.9 L1170.4,776.9 L1171.1,777.7 L1171.8,778.3 L1172.5,778.4 L1173.2,778.0 L1173.9,777.2 L1174.6,776.4 L1175.3,775.7 L1176.0,775.5 L1176.7,775.6 L1177.4,776.0 L1178.1,776.4 L1178.8,776.8 L1179.5,776.9 L1180.2,777.0 L1180.9,777.4 L1181.6,777.8 L1182.3,777.9 L1183.0,777.6 L1183.7,776.8 L1184.4,775.8 L1185.1,774.9 L1185.8,774.4 L1186.5,774.8 L1187.2,775.9 L1187.9,777.3 L1188.6,778.8 L1189.3,780.0 L1190.0,780.6 L1190.7,780.5 L1191.4,779.7 L1192.1,778.5 L1192.8,777.1 L1193.5,775.8 L1194.2,775.1 L1194.9,774.9 L1195.6,775.5 L1196.3,776.7 L1197.0,778.2 L1197.7,779.6 L1198.4,780.7 L1199.1,781.2 L1199.8,781.0 L1200.5,780.1 L1201.2,778.9 L1201.9,777.5 L1202.6,776.3 L1203.3,775.6 L1204.0,775.6 L1204.7,776.3 L1205.4,777.5 L1206.1,779.0 L1206.8,780.4 L1207.5,781.4 L1208.2,781.8 L1208.9,781.5 L1209.6,780.6 L1210.3,779.2 L1211.0,777.9 L1211.7,776.7 L1212.4,776.1 L1213.1,776.2 L1213.8,777.0 L1214.5,778.3 L1215.2,779.8 L1215.9,781.1 L1216.6,782.1 L1217.3,782.4 L1218.0,782.0 L1218.7,781.0 L1219.4,779.6 L1220.1,778.2 L1220.8,777.2 L1221.5,776.7 L1222.2,776.9 L1222.9,777.7 L1223.6,779.1 L1224.3,780.6 L1225.0,781.9 L1225.7,782.7 L1226.4,782.9 L1227.1,782.4 L1227.8,781.4 L1228.5,780.0 L1229.2,778.6 L1229.9,777.6 L1230.6,777.2 L1231.3,777.5 L1232.0,778.5 L1232.7,779.8 L1233.4,781.3 L1234.1,782.6 L1234.8,783.4 L1235.5,783.5 L1236.2,782.9 L1236.9,781.7 L1237.6,780.3 L1238.3,779.0 L1239.0,778.1 L1239.7,777.8 L1240.4,778.2 L1241.1,779.2 L1241.8,780.6 L1242.5,782.1 L1243.2,783.3 L1243.9,784.0 L1244.6,784.0 L1245.3,783.3 L1246.0,782.1 L1246.7,780.7 L1247.4,779.4 L1248.1,778.6 L1248.8,778.3 L1249.5,778.8 L1250.2,779.9 L1250.9,781.4 L1251.6,782.8 L1252.3,784.0 L1253.0,784.6 L1253.7,784.5 L1254.4,783.7 L1255.1,782.4 L1255.8,781.0 L1256.5,779.8 L1257.2,779.0 L1257.9,778.9 L1258.6,779.5 L1259.3,780.6 L1260.0,782.1 L1260.7,783.5 L1261.4,784.6 L1262.1,785.1 L1262.8,784.9 L1263.5,783.9 L1264.2,782.7 L1264.9,781.7 L1265.6,781.1 L1266.3,781.1 L1267.0,781.5 L1267.7,782.0 L1268.4,782.4" stroke="#7CAFDD"/>
</g>
<g font-family="'Liberation Serif', serif" fill="#111">
<text x="175.6" y="906.4" font-size="36.2" text-anchor="end">0</text>
<text x="175.6" y="731.4" font-size="36.2" text-anchor="end">0.0002</text>
<text x="175.6" y="556.4" font-size="36.2" text-anchor="end">0.0004</text>
<text x="175.6" y="381.4" font-size="36.2" text-anchor="end">0.0006</text>
<text x="175.6" y="206.4" font-size="36.2" text-anchor="end">0.0008</text>
<text x="175.6" y="31.4" font-size="36.2" text-anchor="end">0.001</text>
<text x="208.0" y="958" font-size="42.3" text-anchor="middle">0</text>
<text x="384.8" y="958" font-size="42.3" text-anchor="middle">1</text>
<text x="561.5" y="958" font-size="42.3" text-anchor="middle">2</text>
<text x="738.2" y="958" font-size="42.3" text-anchor="middle">3</text>
<text x="915.0" y="958" font-size="42.3" text-anchor="middle">4</text>
<text x="1091.8" y="958" font-size="42.3" text-anchor="middle">5</text>
<text x="1268.5" y="958" font-size="42.3" text-anchor="middle">6</text>
<text y="1018" font-size="54"><tspan x="729.5" font-style="italic">t</tspan><tspan x="758">/</tspan><tspan x="788.5">s</tspan></text>
<text transform="translate(47.5,424.8) rotate(-90)" font-size="55.2" text-anchor="middle">- <tspan font-style="italic">j</tspan> / Acm<tspan font-size="34" dy="-19">-2</tspan></text>
<text x="246.5" y="116" font-size="42.2">-0.39</text>
<text x="261.5" y="265" font-size="42.2">-0.37</text>
<text x="280" y="360.5" font-size="42.2">-0.35</text>
<text x="311" y="454" font-size="42.2">-0.33</text>
<text x="344.5" y="535" font-size="42.2">-0.31</text>
<text x="290.5" y="625" font-size="42.2">-0.27</text>
<text x="331.5" y="674.5" font-size="42.2">-0.25</text>
<text x="399" y="714.5" font-size="42.2">-0.23</text>
<text x="495" y="765" font-size="42.2">-0.21</text>
</g>
<path d="M672,72.2 H1195.2 V536" fill="none" stroke="#b0b0b0" stroke-width="1.6"/>
<path d="M681.6,72.2 V538 M672,529.6 H1195.2" fill="none" stroke="#c4c4c4" stroke-width="2"/>
<path d="M672,529.6H690M675,483.9H688M672,438.1H690M675,392.4H688M672,346.6H690M675,300.9H688M672,255.2H690M675,209.4H688M672,163.7H690M675,117.9H688M672,72.2H690M681.6,521V538M724.4,523V536M767.2,523V536M810.0,523V536M852.8,521V538M895.6,523V536M938.4,523V536M981.2,523V536M1024.0,521V538M1066.8,523V536M1109.6,523V536M1152.4,523V536M1195.2,521V538" fill="none" stroke="#c4c4c4" stroke-width="1.8"/>
<path d="M690.3,364.3 L691.2,375.8 L692.1,386.3 L693.0,393.1 L693.9,399.9 L694.8,405.7 L695.7,412.4 L696.6,417.6 L697.5,423.1 L698.4,426.3 L699.3,430.2 L700.2,432.7 L701.1,436.1 L702.0,438.1 L702.9,441.1 L703.8,442.4 L704.7,445.6 L705.6,445.8 L706.5,449.4 L707.4,448.7 L708.3,452.6 L709.2,451.8 L710.1,456.0 L711.0,454.1 L711.9,458.2 L712.8,455.2 L713.7,461.6 L714.6,455.9 L715.5,464.7 L716.4,457.8 L717.3,467.2 L718.2,459.4 L719.1,468.2 L720.0,460.7 L720.9,472.5 L721.8,461.7 L722.7,473.4 L723.6,463.3 L724.5,477.2 L725.4,463.4 L726.3,476.6 L727.2,460.7 L728.1,479.4 L729.0,461.2 L729.9,481.8 L730.8,462.2 L731.7,480.3 L732.6,463.8 L733.5,484.0 L734.4,462.5 L735.3,484.5 L736.2,464.8 L737.1,483.8 L738.0,466.9 L738.9,486.4 L739.8,469.3 L740.7,490.2 L741.6,468.9 L742.5,491.8 L743.4,468.8 L744.3,490.1 L745.2,469.8 L746.1,491.0 L747.0,473.7 L747.9,490.1 L748.8,474.5 L749.7,490.3 L750.6,476.5 L751.5,493.3 L752.4,477.3 L753.3,492.2 L754.2,478.2 L755.1,493.3 L756.0,478.2 L756.9,490.9 L757.8,478.9 L758.7,494.2 L759.6,480.1 L760.5,493.4 L761.4,483.7 L762.3,492.7 L763.2,482.5 L764.1,494.4 L765.0,485.8 L765.9,495.9 L766.8,485.5 L767.7,495.7 L768.6,487.2 L769.5,496.0 L770.4,488.5 L771.3,495.8 L772.2,487.8 L773.1,497.7 L774.0,489.5 L774.9,498.1 L775.8,489.9 L776.7,498.3 L777.6,491.7 L778.5,499.2 L779.4,493.2 L780.3,502.3 L781.2,492.7 L782.1,501.8 L783.0,493.7 L783.9,503.6 L784.8,494.9 L785.7,503.6 L786.6,494.7 L787.5,503.6 L788.4,495.6 L789.3,505.0 L790.2,495.1 L791.1,503.9 L792.0,495.4 L792.9,503.9 L793.8,496.3 L794.7,506.2 L795.6,498.2 L796.5,505.6 L797.4,496.9 L798.3,504.9 L799.2,497.8 L800.1,507.0 L801.0,498.4 L801.9,507.1 L802.8,499.4 L803.7,506.1 L804.6,499.5 L805.5,506.2 L806.4,499.9 L807.3,508.1 L808.2,499.7 L809.1,506.9 L810.0,500.7 L810.9,508.3 L811.8,500.7 L812.7,508.5 L813.6,500.9 L814.5,507.7 L815.4,500.5 L816.3,508.3 L817.2,501.4 L818.1,507.8 L819.0,501.2 L819.9,507.9 L820.8,501.5 L821.7,507.4 L822.6,502.6 L823.5,508.3 L824.4,502.1 L825.3,508.0 L826.2,502.6 L827.1,508.8 L828.0,503.1 L828.9,508.9 L829.8,503.0 L830.7,508.6 L831.6,504.1 L832.5,508.5 L833.4,504.9 L834.3,508.7 L835.2,504.0 L836.1,509.7 L837.0,505.3 L837.9,509.5 L838.8,505.1 L839.7,509.6 L840.6,505.1 L841.5,509.4 L842.4,505.0 L843.3,509.8 L844.2,505.6 L845.1,510.1 L846.0,506.4 L846.9,509.6 L847.8,506.3 L848.7,510.6 L849.6,506.0 L850.5,510.7 L851.4,507.0 L852.3,511.0 L853.2,506.5 L854.1,511.1 L855.0,507.0 L855.9,511.3 L856.8,507.7 L857.7,510.5 L858.6,507.9 L859.5,510.9 L860.4,507.8 L861.3,511.0 L862.2,507.6 L863.1,510.9 L864.0,507.8 L864.9,511.2 L865.8,507.8 L866.7,511.2 L867.6,508.4 L868.5,512.3 L869.4,508.3 L870.3,512.3 L871.2,508.3 L872.1,512.2 L873.0,508.9 L873.9,512.3 L874.8,509.2 L875.7,512.7 L876.6,508.4 L877.5,512.9 L878.4,509.5 L879.3,512.5 L880.2,509.3 L881.1,512.4 L882.0,509.1 L882.9,513.2 L883.8,509.6 L884.7,513.4 L885.6,509.2 L886.5,512.8 L887.4,509.4 L888.3,513.7 L889.2,510.1 L890.1,513.5 L891.0,509.8 L891.9,513.7 L892.8,510.5 L893.7,513.8 L894.6,510.0 L895.5,514.1 L896.4,510.0 L897.3,513.7 L898.2,510.2 L899.1,514.4 L900.0,510.1 L900.9,513.8 L901.8,511.1 L902.7,514.4 L903.6,511.0 L904.5,514.4 L905.4,510.4 L906.3,514.3 L907.2,511.2 L908.1,514.5 L909.0,510.9 L909.9,514.3 L910.8,511.3 L911.7,514.4 L912.6,511.1 L913.5,515.2 L914.4,511.5 L915.3,514.9 L916.2,511.5 L917.1,514.8 L918.0,511.9 L918.9,515.0 L919.8,511.7 L920.7,514.9 L921.6,511.5 L922.5,515.5 L923.4,512.1 L924.3,515.1 L925.2,511.7 L926.1,515.2 L927.0,512.5 L927.9,515.3 L928.8,512.6 L929.7,516.2 L930.6,512.5 L931.5,515.7 L932.4,512.0 L933.3,516.1 L934.2,512.8 L935.1,516.0 L936.0,512.2 L936.9,516.0 L937.8,512.4 L938.7,515.9 L939.6,512.5 L940.5,516.6 L941.4,512.5 L942.3,516.6 L943.2,513.1 L944.1,516.1 L945.0,513.0 L945.9,516.9 L946.8,513.4 L947.7,516.5 L948.6,513.1 L949.5,517.0 L950.4,512.8 L951.3,516.5 L952.2,513.7 L953.1,517.2 L954.0,513.3 L954.9,517.2 L955.8,513.0 L956.7,517.5 L957.6,513.2 L958.5,517.4 L959.4,513.7 L960.3,517.4 L961.2,514.0 L962.1,517.6 L963.0,513.5 L963.9,517.6 L964.8,513.9 L965.7,517.3 L966.6,514.0 L967.5,517.0 L968.4,513.6 L969.3,517.6 L970.2,514.2 L971.1,517.7 L972.0,513.9 L972.9,517.6 L973.8,513.8 L974.7,518.2 L975.6,514.2 L976.5,517.8 L977.4,513.3 L978.3,519.6 L979.2,513.9 L980.1,519.7 L981.0,512.2 L981.9,520.8 L982.8,513.3 L983.7,519.5 L984.6,510.8 L985.5,520.0 L986.4,512.6 L987.3,521.7 L988.2,511.4 L989.1,522.9 L990.0,511.9 L990.9,524.0 L991.8,511.5 L992.7,524.2 L993.6,511.7 L994.5,523.6 L995.4,511.6 L996.3,523.4 L997.2,510.1 L998.1,525.8 L999.0,509.1 L999.9,523.2 L1000.8,506.3 L1001.7,527.3 L1002.6,506.7 L1003.5,524.3 L1004.4,509.3 L1005.3,524.3 L1006.2,510.7 L1007.1,523.4 L1008.0,509.0 L1008.9,523.9 L1009.8,510.6 L1010.7,527.6 L1011.6,509.2 L1012.5,524.4 L1013.4,508.4 L1014.3,524.9 L1015.2,509.2 L1016.1,525.0 L1017.0,509.3 L1017.9,526.8 L1018.8,509.3 L1019.7,525.7 L1020.6,508.1 L1021.5,528.1 L1022.4,511.2 L1023.3,524.6 L1024.2,511.6 L1025.1,528.8 L1026.0,507.6 L1026.9,525.2 L1027.8,507.6 L1028.7,525.2 L1029.6,509.9 L1030.5,525.9 L1031.4,510.8 L1032.3,521.8 L1033.2,515.7 L1034.1,520.4 L1035.0,516.8 L1035.9,520.8 L1036.8,515.6 L1037.7,522.9 L1038.6,514.6 L1039.5,522.9 L1040.4,514.8 L1041.3,522.6 L1042.2,514.8 L1043.1,522.5 L1044.0,515.2 L1044.9,521.8 L1045.8,516.4 L1046.7,522.6 L1047.6,516.5 L1048.5,522.9 L1049.4,515.9 L1050.3,521.8 L1051.2,515.5 L1052.1,521.5 L1053.0,516.4 L1053.9,521.4 L1054.8,515.8 L1055.7,522.2 L1056.6,516.2 L1057.5,521.7 L1058.4,516.4 L1059.3,522.3 L1060.2,516.8 L1061.1,522.6 L1062.0,517.2 L1062.9,521.8 L1063.8,517.0 L1064.7,522.4 L1065.6,517.6 L1066.5,522.1 L1067.4,517.9 L1068.3,521.9 L1069.2,517.4 L1070.1,521.3 L1071.0,517.6 L1071.9,521.2 L1072.8,517.5 L1073.7,521.7 L1074.6,518.2 L1075.5,522.0 L1076.4,518.2 L1077.3,522.0 L1078.2,518.7 L1079.1,521.9 L1080.0,518.2 L1080.9,522.3 L1081.8,518.8 L1082.7,521.9 L1083.6,518.2 L1084.5,522.0 L1085.4,518.9 L1086.3,522.1 L1087.2,518.8 L1088.1,521.7 L1089.0,518.1 L1089.9,521.8 L1090.8,518.6 L1091.7,522.4 L1092.6,518.4 L1093.5,522.2 L1094.4,518.3 L1095.3,522.2 L1096.2,518.6 L1097.1,522.6 L1098.0,518.5 L1098.9,522.5 L1099.8,518.9 L1100.7,522.4 L1101.6,518.9 L1102.5,522.6 L1103.4,519.0 L1104.3,522.4 L1105.2,518.6 L1106.1,522.5 L1107.0,519.1 L1107.9,522.9 L1108.8,519.1 L1109.7,522.9 L1110.6,518.7 L1111.5,522.5 L1112.4,518.8 L1113.3,522.2 L1114.2,519.2 L1115.1,523.0 L1116.0,519.0 L1116.9,522.8 L1117.8,519.0 L1118.7,522.9 L1119.6,519.1 L1120.5,522.7 L1121.4,519.6 L1122.3,522.6 L1123.2,519.5 L1124.1,522.8 L1125.0,518.8 L1125.9,522.8 L1126.8,519.4 L1127.7,522.8 L1128.6,519.3 L1129.5,523.5 L1130.4,519.0 L1131.3,522.9 L1132.2,519.7 L1133.1,523.5 L1134.0,519.5 L1134.9,523.3 L1135.8,520.0 L1136.7,523.5 L1137.6,519.8 L1138.5,523.2 L1139.4,520.0 L1140.3,523.1 L1141.2,519.3 L1142.1,523.6 L1143.0,519.7 L1143.9,523.6 L1144.8,519.8 L1145.7,523.2 L1146.6,519.7 L1147.5,523.1 L1148.4,520.0 L1149.3,523.6 L1150.2,519.6 L1151.1,523.0 L1152.0,519.7 L1152.9,523.8 L1153.8,520.0 L1154.7,523.1 L1155.6,519.8 L1156.5,523.3 L1157.4,519.9 L1158.3,523.5 L1159.2,519.9 L1160.1,523.4 L1161.0,520.1 L1161.9,523.7 L1162.8,520.0 L1163.7,523.4 L1164.6,519.7 L1165.5,523.5 L1166.4,520.4 L1167.3,523.5 L1168.2,520.7 L1169.1,523.7 L1170.0,520.0 L1170.9,524.1 L1171.8,520.6 L1172.7,523.5 L1173.6,520.5 L1174.5,524.2 L1175.4,520.4 L1176.3,524.4 L1177.2,520.2 L1178.1,524.1 L1179.0,520.1 L1179.9,524.3 L1180.8,520.6 L1181.7,523.8 L1182.6,520.6 L1183.5,524.1 L1184.4,520.9 L1185.3,524.0 L1186.2,520.4 L1187.1,523.8 L1188.0,521.0 L1188.9,523.8 L1189.8,520.8 L1190.7,524.7 L1191.6,521.1 L1192.5,523.9 L1193.4,521.0 L1194.3,524.2 L1195.2,521.2" fill="none" stroke="#ff0000" stroke-width="1.2" stroke-linejoin="round" clip-path="url(#ci)"/>
<path d="M690.3,364.0 L691.2,376.2 L692.1,385.9 L693.0,393.3 L693.9,399.7 L694.8,406.0 L695.7,412.2 L696.6,417.9 L697.5,422.8 L698.4,426.6 L699.3,429.9 L700.2,433.0 L701.1,435.8 L702.0,438.4 L702.9,440.7 L703.8,442.9 L704.7,444.8 L705.6,446.7 L706.5,448.4 L707.4,450.0 L708.3,451.5 L709.2,452.9 L710.1,454.2 L711.0,455.5 L711.9,456.6 L712.8,457.8 L713.7,458.8 L714.6,459.9 L715.5,460.9 L716.4,461.8 L717.3,462.8 L718.2,463.6 L719.1,464.5 L720.0,465.3 L720.9,466.0 L721.8,466.7 L722.7,467.4 L723.6,468.1 L724.5,468.7 L725.4,469.3 L726.3,469.9 L727.2,470.5 L728.1,471.0 L729.0,471.6 L729.9,472.1 L730.8,472.6 L731.7,473.2 L732.6,473.7 L733.5,474.2 L734.4,474.7 L735.3,475.2 L736.2,475.7 L737.1,476.1 L738.0,476.6 L738.9,477.1 L739.8,477.5 L740.7,478.0 L741.6,478.4 L742.5,478.9 L743.4,479.3 L744.3,479.7 L745.2,480.2 L746.1,480.6 L747.0,481.0 L747.9,481.5 L748.8,481.9 L749.7,482.3 L750.6,482.8 L751.5,483.2 L752.4,483.7 L753.3,484.1 L754.2,484.5 L755.1,485.0 L756.0,485.4 L756.9,485.9 L757.8,486.3 L758.7,486.7 L759.6,487.2 L760.5,487.6 L761.4,488.0 L762.3,488.4 L763.2,488.9 L764.1,489.3 L765.0,489.7 L765.9,490.1 L766.8,490.5 L767.7,491.0 L768.6,491.4 L769.5,491.8 L770.4,492.2 L771.3,492.6 L772.2,493.0 L773.1,493.4 L774.0,493.9 L774.9,494.3 L775.8,494.8 L776.7,495.2 L777.6,495.6 L778.5,496.1 L779.4,496.5 L780.3,496.9 L781.2,497.3 L782.1,497.7 L783.0,498.1 L783.9,498.4 L784.8,498.8 L785.7,499.1 L786.6,499.4 L787.5,499.7 L788.4,499.9 L789.3,500.1 L790.2,500.3 L791.1,500.5 L792.0,500.7 L792.9,500.9 L793.8,501.1 L794.7,501.3 L795.6,501.5 L796.5,501.6 L797.4,501.8 L798.3,502.0 L799.2,502.1 L800.1,502.3 L801.0,502.4 L801.9,502.6 L802.8,502.7 L803.7,502.9 L804.6,503.0 L805.5,503.2 L806.4,503.3 L807.3,503.4 L808.2,503.5 L809.1,503.7 L810.0,503.8 L810.9,503.9 L811.8,504.0 L812.7,504.2 L813.6,504.3 L814.5,504.4 L815.4,504.5 L816.3,504.6 L817.2,504.7 L818.1,504.8 L819.0,504.9 L819.9,505.0 L820.8,505.1 L821.7,505.3 L822.6,505.4 L823.5,505.5 L824.4,505.6 L825.3,505.7 L826.2,505.8 L827.1,505.9 L828.0,506.0 L828.9,506.1 L829.8,506.2 L830.7,506.3 L831.6,506.4 L832.5,506.5 L833.4,506.6 L834.3,506.7 L835.2,506.8 L836.1,506.9 L837.0,507.0 L837.9,507.1 L838.8,507.2 L839.7,507.3 L840.6,507.4 L841.5,507.5 L842.4,507.6 L843.3,507.7 L844.2,507.8 L845.1,507.9 L846.0,508.0 L846.9,508.1 L847.8,508.2 L848.7,508.3 L849.6,508.4 L850.5,508.5 L851.4,508.5 L852.3,508.6 L853.2,508.7 L854.1,508.8 L855.0,508.9 L855.9,509.0 L856.8,509.0 L857.7,509.1 L858.6,509.2 L859.5,509.3 L860.4,509.4 L861.3,509.4 L862.2,509.5 L863.1,509.6 L864.0,509.7 L864.9,509.7 L865.8,509.8 L866.7,509.9 L867.6,510.0 L868.5,510.0 L869.4,510.1 L870.3,510.2 L871.2,510.3 L872.1,510.3 L873.0,510.4 L873.9,510.5 L874.8,510.5 L875.7,510.6 L876.6,510.7 L877.5,510.7 L878.4,510.8 L879.3,510.9 L880.2,510.9 L881.1,511.0 L882.0,511.1 L882.9,511.1 L883.8,511.2 L884.7,511.3 L885.6,511.3 L886.5,511.4 L887.4,511.4 L888.3,511.5 L889.2,511.6 L890.1,511.6 L891.0,511.7 L891.9,511.8 L892.8,511.8 L893.7,511.9 L894.6,511.9 L895.5,512.0 L896.4,512.1 L897.3,512.1 L898.2,512.2 L899.1,512.2 L900.0,512.3 L900.9,512.3 L901.8,512.4 L902.7,512.5 L903.6,512.5 L904.5,512.6 L905.4,512.6 L906.3,512.7 L907.2,512.7 L908.1,512.8 L909.0,512.9 L909.9,512.9 L910.8,513.0 L911.7,513.0 L912.6,513.1 L913.5,513.1 L914.4,513.2 L915.3,513.2 L916.2,513.3 L917.1,513.3 L918.0,513.4 L918.9,513.4 L919.8,513.5 L920.7,513.5 L921.6,513.6 L922.5,513.6 L923.4,513.7 L924.3,513.7 L925.2,513.8 L926.1,513.8 L927.0,513.9 L927.9,513.9 L928.8,514.0 L929.7,514.0 L930.6,514.1 L931.5,514.1 L932.4,514.2 L933.3,514.2 L934.2,514.3 L935.1,514.3 L936.0,514.3 L936.9,514.4 L937.8,514.4 L938.7,514.5 L939.6,514.5 L940.5,514.6 L941.4,514.6 L942.3,514.7 L943.2,514.7 L944.1,514.7 L945.0,514.8 L945.9,514.8 L946.8,514.9 L947.7,514.9 L948.6,514.9 L949.5,515.0 L950.4,515.0 L951.3,515.1 L952.2,515.1 L953.1,515.1 L954.0,515.2 L954.9,515.2 L955.8,515.3 L956.7,515.3 L957.6,515.3 L958.5,515.4 L959.4,515.4 L960.3,515.4 L961.2,515.5 L962.1,515.5 L963.0,515.6 L963.9,515.6 L964.8,515.6 L965.7,515.7 L966.6,515.7 L967.5,515.7 L968.4,515.8 L969.3,515.8 L970.2,515.8 L971.1,515.9 L972.0,515.9 L972.9,515.9 L973.8,516.0 L974.7,516.0 L975.6,516.0 L976.5,516.1 L977.4,516.1 L978.3,516.1 L979.2,516.2 L980.1,516.2 L981.0,516.2 L981.9,516.3 L982.8,516.3 L983.7,516.3 L984.6,516.4 L985.5,516.4 L986.4,516.5 L987.3,516.5 L988.2,516.5 L989.1,516.6 L990.0,516.6 L990.9,516.6 L991.8,516.7 L992.7,516.7 L993.6,516.7 L994.5,516.8 L995.4,516.8 L996.3,516.8 L997.2,516.9 L998.1,516.9 L999.0,517.0 L999.9,517.0 L1000.8,517.0 L1001.7,517.1 L1002.6,517.1 L1003.5,517.2 L1004.4,517.2 L1005.3,517.2 L1006.2,517.3 L1007.1,517.3 L1008.0,517.3 L1008.9,517.4 L1009.8,517.4 L1010.7,517.5 L1011.6,517.5 L1012.5,517.5 L1013.4,517.6 L1014.3,517.6 L1015.2,517.7 L1016.1,517.7 L1017.0,517.7 L1017.9,517.8 L1018.8,517.8 L1019.7,517.9 L1020.6,517.9 L1021.5,517.9 L1022.4,518.0 L1023.3,518.0 L1024.2,518.1 L1025.1,518.1 L1026.0,518.1 L1026.9,518.2 L1027.8,518.2 L1028.7,518.2 L1029.6,518.3 L1030.5,518.3 L1031.4,518.4 L1032.3,518.4 L1033.2,518.4 L1034.1,518.5 L1035.0,518.5 L1035.9,518.6 L1036.8,518.6 L1037.7,518.6 L1038.6,518.7 L1039.5,518.7 L1040.4,518.8 L1041.3,518.8 L1042.2,518.8 L1043.1,518.9 L1044.0,518.9 L1044.9,518.9 L1045.8,519.0 L1046.7,519.0 L1047.6,519.1 L1048.5,519.1 L1049.4,519.1 L1050.3,519.2 L1051.2,519.2 L1052.1,519.2 L1053.0,519.3 L1053.9,519.3 L1054.8,519.3 L1055.7,519.4 L1056.6,519.4 L1057.5,519.4 L1058.4,519.4 L1059.3,519.5 L1060.2,519.5 L1061.1,519.5 L1062.0,519.6 L1062.9,519.6 L1063.8,519.6 L1064.7,519.6 L1065.6,519.7 L1066.5,519.7 L1067.4,519.7 L1068.3,519.8 L1069.2,519.8 L1070.1,519.8 L1071.0,519.8 L1071.9,519.9 L1072.8,519.9 L1073.7,519.9 L1074.6,519.9 L1075.5,520.0 L1076.4,520.0 L1077.3,520.0 L1078.2,520.0 L1079.1,520.0 L1080.0,520.1 L1080.9,520.1 L1081.8,520.1 L1082.7,520.1 L1083.6,520.2 L1084.5,520.2 L1085.4,520.2 L1086.3,520.2 L1087.2,520.3 L1088.1,520.3 L1089.0,520.3 L1089.9,520.3 L1090.8,520.3 L1091.7,520.4 L1092.6,520.4 L1093.5,520.4 L1094.4,520.4 L1095.3,520.4 L1096.2,520.5 L1097.1,520.5 L1098.0,520.5 L1098.9,520.5 L1099.8,520.5 L1100.7,520.6 L1101.6,520.6 L1102.5,520.6 L1103.4,520.6 L1104.3,520.7 L1105.2,520.7 L1106.1,520.7 L1107.0,520.7 L1107.9,520.7 L1108.8,520.8 L1109.7,520.8 L1110.6,520.8 L1111.5,520.8 L1112.4,520.8 L1113.3,520.9 L1114.2,520.9 L1115.1,520.9 L1116.0,520.9 L1116.9,520.9 L1117.8,521.0 L1118.7,521.0 L1119.6,521.0 L1120.5,521.0 L1121.4,521.0 L1122.3,521.1 L1123.2,521.1 L1124.1,521.1 L1125.0,521.1 L1125.9,521.1 L1126.8,521.2 L1127.7,521.2 L1128.6,521.2 L1129.5,521.2 L1130.4,521.2 L1131.3,521.2 L1132.2,521.3 L1133.1,521.3 L1134.0,521.3 L1134.9,521.3 L1135.8,521.3 L1136.7,521.4 L1137.6,521.4 L1138.5,521.4 L1139.4,521.4 L1140.3,521.4 L1141.2,521.5 L1142.1,521.5 L1143.0,521.5 L1143.9,521.5 L1144.8,521.5 L1145.7,521.6 L1146.6,521.6 L1147.5,521.6 L1148.4,521.6 L1149.3,521.6 L1150.2,521.6 L1151.1,521.7 L1152.0,521.7 L1152.9,521.7 L1153.8,521.7 L1154.7,521.7 L1155.6,521.8 L1156.5,521.8 L1157.4,521.8 L1158.3,521.8 L1159.2,521.8 L1160.1,521.8 L1161.0,521.9 L1161.9,521.9 L1162.8,521.9 L1163.7,521.9 L1164.6,521.9 L1165.5,522.0 L1166.4,522.0 L1167.3,522.0 L1168.2,522.0 L1169.1,522.0 L1170.0,522.0 L1170.9,522.1 L1171.8,522.1 L1172.7,522.1 L1173.6,522.1 L1174.5,522.1 L1175.4,522.1 L1176.3,522.2 L1177.2,522.2 L1178.1,522.2 L1179.0,522.2 L1179.9,522.2 L1180.8,522.2 L1181.7,522.3 L1182.6,522.3 L1183.5,522.3 L1184.4,522.3 L1185.3,522.3 L1186.2,522.3 L1187.1,522.4 L1188.0,522.4 L1188.9,522.4 L1189.8,522.4 L1190.7,522.4 L1191.6,522.4 L1192.5,522.4 L1193.4,522.5 L1194.3,522.5 L1195.2,522.5" fill="none" stroke="#ff0000" stroke-width="2.4" stroke-linejoin="round"/>
<path d="M690.3,364.0 L691.2,376.2 L692.1,385.9 L693.0,393.3 L693.9,399.7 L694.8,406.0 L695.7,412.2 L696.6,417.9 L697.5,422.8 L698.4,426.6 L699.3,429.9 L700.2,433.0 L701.1,435.8 L702.0,438.4 L702.9,440.7 L703.8,442.9 L704.7,444.8 L705.6,446.7 L706.5,448.4 L707.4,450.0 L708.3,451.5 L709.2,452.9 L710.1,454.2 L711.0,455.5 L711.9,456.6 L712.8,457.8 L713.7,458.8 L714.6,459.9 L715.5,460.9 L716.4,461.8 L717.3,462.8 L718.2,463.6 L719.1,464.5 L720.0,465.3 L720.9,466.0 L721.8,466.7" fill="none" stroke="#ff0000" stroke-width="4.2" stroke-linecap="round" stroke-linejoin="round"/>
<path d="M683.3,523.2 L684.5,520.2 L685.2,516.9 L687.7,513.5 L689.0,510.0 L690.2,507.6 L692.0,504.6 L692.2,502.0 L695.1,499.5 L695.8,496.2 L697.6,493.3 L697.0,490.7 L698.9,486.9 L700.7,485.5 L702.1,482.1 L704.6,480.0 L704.8,476.1 L706.2,473.4 L707.6,470.6 L708.6,467.9 L709.2,464.4 L711.2,461.7 L712.6,458.6 L713.0,455.6 L713.7,451.5 L715.8,449.4 L716.6,446.4 L717.6,443.1 L718.4,439.2 L719.9,437.9 L721.4,434.1 L722.4,431.8 L722.0,428.3 L725.0,425.8 L726.8,423.0 L727.0,419.4 L728.3,416.2 L728.6,414.1 L730.6,410.6 L730.3,407.9 L731.9,404.9 L732.0,402.0 L731.6,398.5 L731.8,395.8 L730.3,391.3 L731.0,388.0 L730.5,385.0 L730.6,381.9 L729.9,378.9 L729.9,375.6 L729.3,371.2 L729.8,367.9 L729.5,365.0 L729.7,361.9 L730.7,359.3 L731.3,355.4 L733.0,353.8 L734.1,349.5 L733.8,347.2 L734.3,342.7 L735.2,340.4 L735.8,337.0 L736.0,334.5 L737.5,331.1 L739.0,328.6 L739.8,325.6 L740.5,322.3 L741.5,320.2 L743.1,316.2 L743.9,313.6 L745.5,309.9 L746.2,307.9 L748.6,305.5 L748.2,302.5 L750.5,299.0 L750.2,296.9 L751.7,293.7 L752.2,291.5 L754.4,287.8 L754.9,283.5 L755.9,281.6 L756.6,278.8 L757.4,274.8 L758.9,272.2 L759.5,269.1 L760.5,265.1 L762.4,263.4 L763.4,261.2 L763.8,256.0 L764.3,253.3 L765.6,250.9 L766.9,247.7 L767.2,245.1 L769.2,242.0 L770.3,239.1 L771.2,235.7 L772.7,234.8 L774.9,231.8 L775.4,227.9 L776.9,225.4 L777.3,222.7 L778.8,219.5 L780.2,216.2 L781.6,215.0 L783.2,210.7 L785.0,208.2 L785.6,204.8 L787.7,201.9 L789.8,200.1 L791.5,196.5 L793.7,194.6 L794.9,190.7 L798.1,188.4 L800.5,186.9 L801.4,184.3 L804.2,181.2 L806.7,178.8 L808.5,177.0 L810.6,174.6 L814.5,173.0 L818.1,170.7 L819.3,168.3 L823.0,166.6 L826.0,164.8 L827.4,164.1 L831.1,162.5 L833.9,161.2 L836.6,159.4 L839.9,161.7 L843.0,162.7 L845.9,165.6 L848.9,165.9 L852.6,167.7 L854.0,167.8 L857.4,169.7 L860.5,170.8 L863.0,171.9 L865.9,172.4 L869.7,174.7 L871.5,173.8 L875.0,174.9 L878.0,176.0 L882.2,177.6 L884.6,178.4 L886.8,178.8 L890.7,180.7 L893.7,180.7 L896.4,183.1 L899.9,183.6 L902.5,184.7 L905.1,184.7 L908.0,186.8 L911.5,187.3 L914.1,187.8 L916.9,187.8 L921.6,189.0 L922.9,189.2 L926.3,190.5 L928.8,189.6 L931.9,191.2 L935.0,191.8 L937.2,194.5 L938.4,196.8 L942.2,199.1 L943.1,200.9 L947.0,202.1 L948.8,204.6 L952.2,205.9 L954.9,207.7 L957.7,209.5 L959.9,211.3 L963.4,213.1 L966.2,214.9 L968.6,216.1 L971.6,218.1 L976.3,220.0 L977.9,220.8 L981.0,221.9 L983.8,223.3 L987.7,224.6 L991.2,226.0 L993.3,227.4 L997.4,228.5 L1000.3,229.8 L1002.4,231.3 L1007.2,231.9 L1010.1,233.4 L1013.1,233.4 L1016.6,234.8 L1019.2,234.9 L1023.0,233.1 L1026.7,233.2 L1028.0,236.3 L1031.3,240.4 L1032.8,243.0 L1036.0,244.0 L1038.7,245.6 L1041.1,246.7 L1044.2,248.3 L1046.7,249.4 L1050.5,251.0 L1053.2,252.9 L1055.9,254.8 L1058.0,255.3 L1061.3,256.2 L1065.1,256.0 L1066.6,258.3 L1070.4,259.2 L1072.9,259.9 L1076.2,260.5 L1079.3,260.2 L1081.6,262.3 L1085.2,263.5 L1087.2,265.3 L1090.2,265.9 L1093.8,267.8 L1097.8,268.5 L1101.2,268.6 L1105.0,268.2 L1108.6,268.5 L1111.4,267.4 L1114.7,267.3 L1118.1,266.9 L1119.9,269.6 L1121.7,271.9 L1124.5,273.9 L1126.3,276.5 L1130.2,278.1 L1131.8,278.5 L1135.3,279.9 L1138.1,280.8 L1140.0,282.0 L1142.7,283.4 L1146.4,284.0 L1149.6,285.6 L1152.7,286.6 L1155.0,286.3 L1158.0,289.2 L1160.8,289.6 L1163.5,290.3 L1167.0,290.9 L1170.4,292.8 L1173.0,292.7 L1175.5,293.8 L1179.0,294.7 L1182.1,296.0 L1185.2,295.8 L1189.2,293.6 L1192.3,291.7 L1193.9,294.5 L1198.4,297.7 L1199.4,299.8 L1200.0,304.1 L1200.7,306.9 L1202.0,311.0 L1202.0,311.0 L1201.3,313.4 L1200.1,316.6 L1200.4,320.0 L1196.5,322.0 L1193.3,323.5 L1189.1,323.2 L1186.8,321.4 L1182.1,321.0 L1179.0,320.2 L1174.8,318.3 L1173.0,317.6 L1170.3,316.6 L1167.2,315.8 L1163.2,314.0 L1161.1,312.8 L1158.7,311.0 L1155.3,310.7 L1152.7,309.0 L1150.5,309.9 L1145.3,308.4 L1144.2,308.3 L1139.6,307.4 L1135.9,307.0 L1132.6,307.2 L1129.4,306.1 L1126.3,306.0 L1123.1,307.4 L1121.4,309.2 L1118.1,310.5 L1115.6,308.8 L1112.9,307.7 L1109.9,306.4 L1108.0,304.0 L1105.0,302.3 L1102.7,300.9 L1100.5,299.5 L1095.9,298.1 L1093.3,297.1 L1091.7,295.8 L1088.0,294.2 L1086.8,293.7 L1082.9,293.0 L1081.3,292.0 L1077.1,290.3 L1074.4,288.7 L1070.6,287.9 L1067.7,286.7 L1065.3,285.6 L1061.8,284.5 L1059.1,283.8 L1056.8,282.3 L1052.7,280.6 L1049.6,280.8 L1047.1,279.0 L1043.8,278.5 L1041.0,277.5 L1037.3,276.7 L1033.2,278.9 L1029.1,278.1 L1026.7,278.5 L1023.4,277.3 L1021.0,276.1 L1017.2,274.8 L1015.4,273.7 L1012.5,272.2 L1009.9,269.7 L1006.8,268.7 L1003.9,266.9 L1000.3,264.3 L998.0,262.1 L994.9,261.2 L991.8,259.1 L988.8,258.6 L987.0,257.8 L983.8,255.8 L980.4,254.6 L977.8,253.2 L976.0,251.4 L971.3,249.5 L968.4,247.9 L967.0,247.2 L963.4,245.6 L961.2,244.2 L957.2,243.1 L954.9,242.5 L952.5,241.6 L949.6,240.6 L946.4,237.8 L943.1,237.5 L939.9,238.8 L936.8,238.7 L934.0,240.0 L930.6,241.4 L926.9,241.8 L923.6,238.5 L922.7,235.4 L921.0,233.0 L918.0,229.8 L916.6,227.6 L912.7,225.3 L910.0,223.6 L907.3,222.4 L903.4,221.5 L901.5,219.8 L898.3,218.7 L896.8,217.1 L892.3,216.2 L889.3,215.1 L887.0,213.9 L883.8,211.3 L880.5,210.4 L878.2,209.4 L875.0,207.1 L872.6,206.7 L867.7,205.4 L864.5,206.4 L862.0,205.0 L858.4,206.3 L854.6,205.7 L850.1,206.1 L847.6,207.9 L844.9,211.1 L841.4,212.5 L839.7,214.4 L836.0,215.9 L831.4,217.5 L828.9,217.9 L825.5,219.2 L820.6,219.4 L818.9,220.6 L816.5,222.3 L812.9,224.5 L812.1,225.3 L808.5,226.9 L806.9,230.9 L804.7,232.6 L802.6,233.9 L800.9,236.2 L798.1,239.4 L796.9,242.5 L795.0,244.8 L792.4,248.1 L791.1,250.3 L789.8,253.9 L787.6,256.1 L786.5,259.9 L786.5,263.9 L784.2,265.4 L784.4,268.6 L782.5,272.7 L781.5,274.7 L779.8,277.9 L779.8,280.0 L778.1,284.0 L778.0,286.4 L777.1,290.1 L774.8,292.6 L775.1,295.5 L772.8,298.7 L773.4,302.7 L770.8,306.3 L771.1,307.9 L770.9,311.4 L769.5,313.1 L769.0,316.2 L766.4,321.1 L767.3,323.4 L765.6,326.2 L766.2,329.1 L764.4,330.5 L763.5,332.9 L762.8,337.0 L761.7,340.1 L761.7,344.4 L761.9,346.4 L761.4,349.1 L760.0,353.2 L759.0,355.7 L758.4,359.1 L759.5,361.7 L758.1,365.3 L756.5,367.6 L757.0,372.7 L755.5,374.0 L754.7,377.2 L753.8,380.6 L752.6,383.8 L751.2,386.3 L749.6,389.3 L748.8,392.5 L748.1,395.6 L747.7,398.6 L746.2,401.2 L746.0,405.8 L745.0,407.7 L744.3,410.2 L743.3,413.8 L739.9,418.7 L741.3,419.8 L739.5,423.4 L738.4,425.8 L737.3,429.7 L736.4,433.5 L735.3,437.2 L733.8,439.2 L732.1,441.5 L732.9,444.8 L731.4,448.4 L729.5,451.3 L728.8,454.4 L728.4,458.1 L727.0,460.9 L726.0,463.8 L725.3,468.4 L724.0,469.9 L722.3,472.4 L720.7,475.3 L719.8,478.7 L719.3,481.7 L717.6,484.2 L716.6,487.9 L716.5,491.5 L715.3,494.0 L713.8,498.8 L711.7,501.0 L712.3,503.8 L710.7,507.4 L708.9,510.0 L708.2,512.9 L706.6,516.1 L705.8,519.8 L703.7,524.0 L703.9,526.6 L702.0,529.5 L700.3,532.0 L698.0,534.0 L696.4,534.0 L691.6,536.0 L688.2,535.3 L685.0,533.0 L684.6,529.9 L682.5,527.0Z" fill="#0b70c2" stroke="#0b70c2" stroke-width="2" stroke-linejoin="round"/>
<circle cx="691.6" cy="526.6" r="9.3" fill="#0b70c2"/>
<path d="M691.1,364.3 L690.9,366.7 L690.5,367.3 L690.8,369.0 L691.7,371.7 L692.2,372.7 L692.0,373.7 L691.8,376.5 L692.4,378.0 L693.3,378.7 L693.8,381.1 L693.7,383.3 L693.7,383.8 L694.5,385.7 L695.6,388.3 L696.1,389.0 L696.1,390.2 L696.3,392.9 L697.4,394.3 L698.6,394.9 L699.2,397.4 L699.4,399.2 L700.0,399.4 L701.5,401.3 L703.1,403.8 L704.1,404.2 L704.9,404.9 L706.2,406.2 L708.4,405.4 L710.5,403.9 L711.7,404.1 L712.4,403.4 L713.6,401.2 L715.3,400.4 L716.5,399.7 L717.1,397.2 L717.5,395.6 L718.7,395.2 L720.2,393.2 L721.4,391.1 L721.8,390.8 L722.4,389.4 L723.6,386.9 L725.1,386.2 L726.0,385.3 L726.2,382.8 L726.6,381.3 L727.8,380.9 L729.0,378.6 L729.5,376.5 L729.6,376.0 L730.0,374.3 L731.1,371.6 L732.1,370.8 L732.4,369.7 L732.3,367.0 L732.7,365.6 L733.7,364.9 L734.5,362.4 L734.6,360.4 L734.4,359.9 L734.8,357.9 L735.8,355.3 L736.4,354.6 L736.3,353.2 L736.1,350.4 L736.6,349.2 L737.5,348.4 L738.0,345.7 L737.8,343.8 L737.7,343.3 L738.4,341.1 L739.4,338.7 L739.8,338.0 L739.7,336.6 L739.8,333.8 L740.7,332.8 L741.7,331.9 L742.1,329.2 L742.0,327.5 L742.3,327.0 L743.3,324.8 L744.4,322.5 L744.7,322.0 L744.6,320.4 L745.2,317.7 L746.3,316.8 L747.3,315.8 L747.5,313.1 L747.6,311.6" fill="none" stroke="#0b70c2" stroke-width="7.6" stroke-linecap="round" stroke-linejoin="round"/>
<path d="M690.4,362.5 L691,372" stroke="#0b70c2" stroke-width="4" stroke-linecap="round"/>
<g fill="none" stroke="#fff" stroke-linecap="round">
<path d="M847.5,180 Q862,180.5 877,187.5 Q860,185.8 847.5,180Z" fill="#fff" stroke-width="1.6"/>
<path d="M876,187 Q882,188.5 888,191" stroke-width="1.3" opacity=".8"/>
<path d="M780.5,232 Q794,205 813,185.5" stroke-width="1.4" opacity=".95"/>
<path d="M738.5,353.6 Q753,305 769.5,258 L780,233" stroke-width="1.3" opacity=".85" stroke-dasharray="7 5 10 6 5 8"/>
<path d="M734,364 L737.5,354" stroke-width="1.2" opacity=".7"/>
<path d="M706,482 Q718,452 731,415" stroke-width="0.9" opacity=".45" stroke-dasharray="2 10 3 13"/>
</g>
<g fill="none" stroke="#6fb0e6" stroke-width="1.1" opacity=".9">
<circle cx="689.5" cy="527.5" r="3"/>
<circle cx="924" cy="237" r="3"/>
<circle cx="929" cy="235" r="3"/>
<circle cx="921" cy="230.5" r="3"/>
<circle cx="1118" cy="305" r="3"/>
<circle cx="1122" cy="304" r="3"/>
<circle cx="1196" cy="318" r="3"/>
<circle cx="1183" cy="316.5" r="3"/>
</g>
<g font-family="'Liberation Serif', serif" fill="#111">
<text x="654.2" y="539.6" font-size="29.4" text-anchor="end">0</text>
<text x="654.2" y="448.1" font-size="29.4" text-anchor="end">0.00005</text>
<text x="654.2" y="356.6" font-size="29.4" text-anchor="end">0.0001</text>
<text x="654.2" y="265.2" font-size="29.4" text-anchor="end">0.00015</text>
<text x="654.2" y="173.7" font-size="29.4" text-anchor="end">0.0002</text>
<text x="654.2" y="82.2" font-size="29.4" text-anchor="end">0.00025</text>
<text x="681.6" y="574.8" font-size="30" text-anchor="middle">0</text>
<text x="852.8" y="574.8" font-size="30" text-anchor="middle">2</text>
<text x="1024.0" y="574.8" font-size="30" text-anchor="middle">4</text>
<text x="1195.2" y="574.8" font-size="30" text-anchor="middle">6</text>
<text y="605.3" font-size="49"><tspan x="891" font-style="italic">t</tspan><tspan x="915.5">/</tspan><tspan x="943.5">s</tspan></text>
<text transform="translate(537.5,302) rotate(-90)" font-size="48.6" text-anchor="middle">- <tspan font-style="italic">j</tspan> / Acm<tspan font-size="31" dy="-19">-2</tspan></text>
<text x="1104" y="108" font-size="35.6" font-weight="bold">-0.21</text>
<text x="786.7" y="142" font-size="46.5" font-style="italic">j</text><text x="805" y="152.5" font-size="30.8" font-weight="bold">Pd-DES</text>
<text x="755.2" y="411.5" font-size="46.5" font-style="italic">j</text><text x="782.8" y="412.5" font-size="50">=</text><text x="820.2" y="411.5" font-size="46.5" font-style="italic">j</text><text x="837" y="421.8" font-size="30.8" font-weight="bold">Pd-DES</text><text x="943.6" y="411.5" font-size="36" font-weight="bold">-</text><text x="960" y="411.5" font-size="46.5" font-style="italic">j</text><text x="974.5" y="421.8" font-size="30.8" font-weight="bold">DES</text>
<text x="916.5" y="485.3" font-size="46.5" font-style="italic">j</text><text x="936" y="494.3" font-size="30" font-weight="bold">DES</text>
</g>
</svg>
</body></html>
